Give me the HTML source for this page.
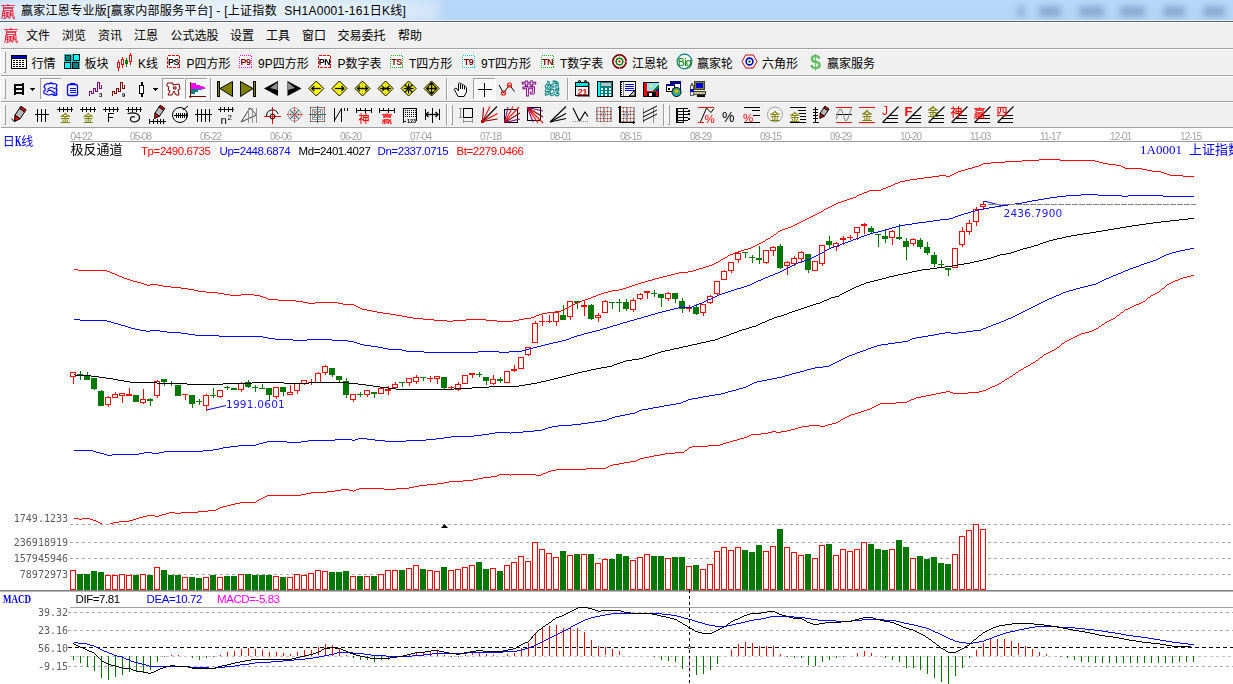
<!DOCTYPE html>
<html><head><meta charset="utf-8"><title>chart</title><style>
html,body{margin:0;padding:0}
body{width:1233px;height:684px;overflow:hidden;background:#fff;position:relative;font-family:"Liberation Sans","Noto Sans CJK SC",sans-serif}
#title{position:absolute;left:0;top:0;width:1233px;height:21px;background:linear-gradient(#b9d8f8,#b4d5f7 60%,#b7d6f6);border-bottom:1px solid #56626f;box-sizing:content-box;overflow:hidden}
#title:after{content:'';position:absolute;left:0;top:20px;width:1233px;height:1px;background:rgba(235,244,253,.85)}
#title .glow{position:absolute;left:-30px;top:-6px;width:470px;height:34px;background:radial-gradient(ellipse at center,rgba(240,246,252,.95) 0%,rgba(232,241,251,.85) 55%,rgba(200,224,248,0) 100%);filter:blur(4px)}
#title .ghost{position:absolute;top:6px;height:11px;background:#7d9cc4;filter:blur(3px);opacity:.75}
#title .ttext{position:absolute;left:21px;top:2px;font-size:12px;line-height:18px;color:#000;white-space:nowrap;letter-spacing:0.29px}
#menu{position:absolute;left:0;top:22px;width:1233px;height:27px;background:#f0f0f0;border-top:1px solid #fff;border-bottom:1px solid #a0a0a0;box-sizing:border-box}
.mi{position:absolute;top:4px;font-size:12px;line-height:18px;color:#000;white-space:nowrap}
#tb1,#tb2,#tb3{position:absolute;left:0;width:1233px;height:26px;background:#f0f0f0;border-top:1px solid #fff;border-bottom:1px solid #a0a0a0;box-sizing:border-box}
#tb1{top:49px;height:27px}#tb2{top:76px}#tb3{top:102px}
.bi{position:absolute;top:5px;font-size:12px;line-height:18px;color:#000;white-space:nowrap}
#lframe{position:absolute;left:0;top:22px;width:1px;height:106px;background:#fff}
svg#ch{position:absolute;left:0;top:0;will-change:transform}
.t{position:absolute;white-space:nowrap;line-height:1}
.dt{font-size:10px;letter-spacing:-0.9px;color:#a2a2a2;font-family:"Liberation Sans",sans-serif}
.song{font-family:"Noto Sans CJK SC",sans-serif;font-size:13px;line-height:14px;color:#000}
.song .mono{font-family:"Liberation Mono",monospace;font-size:11.6px;font-weight:bold}
.blue{color:#0000ff}
.ar{font-size:11.5px;letter-spacing:-0.42px;line-height:14px;font-family:"Liberation Sans",sans-serif}
.vd{font-family:"DejaVu Sans",sans-serif;font-size:10.5px;letter-spacing:0.25px;line-height:13px;color:#1818ff}
.ax{font-family:"DejaVu Sans Mono",monospace;font-size:10px;line-height:13px;color:#5c5c5c}
</style></head><body>
<div id="title"><div class="glow"></div>
<div class="ghost" style="left:1018px;width:6px"></div>
<div class="ghost" style="left:1039px;width:22px"></div>
<div class="ghost" style="left:1079px;width:25px"></div>
<div class="ghost" style="left:1120px;width:25px"></div>
<div class="ghost" style="left:1163px;width:22px"></div>
<div class="ghost" style="left:1203px;width:22px"></div>
<div class="ttext">赢家江恩专业版[赢家内部服务平台] - [上证指数&nbsp; SH1A0001-161日K线]</div></div>
<div id="menu">
<div class="mi" style="left:26px">文件</div>
<div class="mi" style="left:62px">浏览</div>
<div class="mi" style="left:98px">资讯</div>
<div class="mi" style="left:134px">江恩</div>
<div class="mi" style="left:170.5px">公式选股</div>
<div class="mi" style="left:230px">设置</div>
<div class="mi" style="left:266px">工具</div>
<div class="mi" style="left:302px">窗口</div>
<div class="mi" style="left:337.5px">交易委托</div>
<div class="mi" style="left:398px">帮助</div>
</div>
<div id="tb1">
<div class="bi" style="left:31.5px">行情</div>
<div class="bi" style="left:84.5px">板块</div>
<div class="bi" style="left:138px">K线</div>
<div class="bi" style="left:186.5px">P四方形</div>
<div class="bi" style="left:258px">9P四方形</div>
<div class="bi" style="left:337.5px">P数字表</div>
<div class="bi" style="left:409px">T四方形</div>
<div class="bi" style="left:481px">9T四方形</div>
<div class="bi" style="left:560px">T数字表</div>
<div class="bi" style="left:632px">江恩轮</div>
<div class="bi" style="left:697px">赢家轮</div>
<div class="bi" style="left:762px">六角形</div>
<div class="bi" style="left:827px">赢家服务</div>
</div>
<div id="tb2"></div><div id="tb3"></div>
<div id="lframe"></div>
<svg id="ch" width="1233" height="684" viewBox="0 0 1233 684" shape-rendering="crispEdges">
<text x="0.5" y="16.6" font-size="15.0" fill="#f00020" font-weight="normal" font-family="&quot;Noto Sans CJK SC&quot;,&quot;Noto Sans CJK SC&quot;,sans-serif" text-anchor="start" >赢</text>
<text x="3.5" y="40.599999999999994" font-size="15.0" fill="#f00020" font-weight="normal" font-family="&quot;Noto Sans CJK SC&quot;,&quot;Noto Sans CJK SC&quot;,sans-serif" text-anchor="start" >赢</text>
<rect x="5" y="52" width="1" height="21" fill="#a0a0a0"/>
<rect x="4" y="72" width="1" height="1" fill="#a0a0a0"/>
<rect x="3" y="52" width="1" height="20" fill="#ffffff"/>
<rect x="11.5" y="55.5" width="15" height="13" fill="#fff" stroke="#000" />
<rect x="12" y="56" width="14" height="2" fill="#0000c8" />
<rect x="13" y="60" width="2" height="1" fill="#000"/>
<rect x="16" y="60" width="2" height="1" fill="#000"/>
<rect x="19" y="60" width="2" height="1" fill="#000"/>
<rect x="22" y="60" width="2" height="1" fill="#000"/>
<rect x="13" y="62" width="2" height="1" fill="#000"/>
<rect x="16" y="62" width="2" height="1" fill="#000"/>
<rect x="19" y="62" width="2" height="1" fill="#000"/>
<rect x="22" y="62" width="2" height="1" fill="#000"/>
<rect x="13" y="64" width="2" height="1" fill="#000"/>
<rect x="16" y="64" width="2" height="1" fill="#000"/>
<rect x="19" y="64" width="2" height="1" fill="#000"/>
<rect x="22" y="64" width="2" height="1" fill="#000"/>
<rect x="13" y="66" width="2" height="1" fill="#000"/>
<rect x="16" y="66" width="2" height="1" fill="#000"/>
<rect x="19" y="66" width="2" height="1" fill="#000"/>
<rect x="22" y="66" width="2" height="1" fill="#000"/>
<rect x="12" y="58" width="14" height="1" fill="#000"/>
<rect x="64" y="54" width="16" height="15" fill="#00a0a0" />
<rect x="64" y="54" width="1" height="1" fill="#00ffff" />
<rect x="66" y="54" width="1" height="1" fill="#00ffff" />
<rect x="68" y="54" width="1" height="1" fill="#00ffff" />
<rect x="70" y="54" width="1" height="1" fill="#00ffff" />
<rect x="72" y="54" width="1" height="1" fill="#00ffff" />
<rect x="74" y="54" width="1" height="1" fill="#00ffff" />
<rect x="76" y="54" width="1" height="1" fill="#00ffff" />
<rect x="78" y="54" width="1" height="1" fill="#00ffff" />
<rect x="65" y="55" width="1" height="1" fill="#00ffff" />
<rect x="67" y="55" width="1" height="1" fill="#00ffff" />
<rect x="69" y="55" width="1" height="1" fill="#00ffff" />
<rect x="71" y="55" width="1" height="1" fill="#00ffff" />
<rect x="73" y="55" width="1" height="1" fill="#00ffff" />
<rect x="75" y="55" width="1" height="1" fill="#00ffff" />
<rect x="77" y="55" width="1" height="1" fill="#00ffff" />
<rect x="79" y="55" width="1" height="1" fill="#00ffff" />
<rect x="64" y="56" width="1" height="1" fill="#00ffff" />
<rect x="66" y="56" width="1" height="1" fill="#00ffff" />
<rect x="68" y="56" width="1" height="1" fill="#00ffff" />
<rect x="70" y="56" width="1" height="1" fill="#00ffff" />
<rect x="72" y="56" width="1" height="1" fill="#00ffff" />
<rect x="74" y="56" width="1" height="1" fill="#00ffff" />
<rect x="76" y="56" width="1" height="1" fill="#00ffff" />
<rect x="78" y="56" width="1" height="1" fill="#00ffff" />
<rect x="65" y="57" width="1" height="1" fill="#00ffff" />
<rect x="67" y="57" width="1" height="1" fill="#00ffff" />
<rect x="69" y="57" width="1" height="1" fill="#00ffff" />
<rect x="71" y="57" width="1" height="1" fill="#00ffff" />
<rect x="73" y="57" width="1" height="1" fill="#00ffff" />
<rect x="75" y="57" width="1" height="1" fill="#00ffff" />
<rect x="77" y="57" width="1" height="1" fill="#00ffff" />
<rect x="79" y="57" width="1" height="1" fill="#00ffff" />
<rect x="64" y="58" width="1" height="1" fill="#00ffff" />
<rect x="66" y="58" width="1" height="1" fill="#00ffff" />
<rect x="68" y="58" width="1" height="1" fill="#00ffff" />
<rect x="70" y="58" width="1" height="1" fill="#00ffff" />
<rect x="72" y="58" width="1" height="1" fill="#00ffff" />
<rect x="74" y="58" width="1" height="1" fill="#00ffff" />
<rect x="76" y="58" width="1" height="1" fill="#00ffff" />
<rect x="78" y="58" width="1" height="1" fill="#00ffff" />
<rect x="65" y="59" width="1" height="1" fill="#00ffff" />
<rect x="67" y="59" width="1" height="1" fill="#00ffff" />
<rect x="69" y="59" width="1" height="1" fill="#00ffff" />
<rect x="71" y="59" width="1" height="1" fill="#00ffff" />
<rect x="73" y="59" width="1" height="1" fill="#00ffff" />
<rect x="75" y="59" width="1" height="1" fill="#00ffff" />
<rect x="77" y="59" width="1" height="1" fill="#00ffff" />
<rect x="79" y="59" width="1" height="1" fill="#00ffff" />
<rect x="64" y="60" width="1" height="1" fill="#00ffff" />
<rect x="66" y="60" width="1" height="1" fill="#00ffff" />
<rect x="68" y="60" width="1" height="1" fill="#00ffff" />
<rect x="70" y="60" width="1" height="1" fill="#00ffff" />
<rect x="72" y="60" width="1" height="1" fill="#00ffff" />
<rect x="74" y="60" width="1" height="1" fill="#00ffff" />
<rect x="76" y="60" width="1" height="1" fill="#00ffff" />
<rect x="78" y="60" width="1" height="1" fill="#00ffff" />
<rect x="65" y="61" width="1" height="1" fill="#00ffff" />
<rect x="67" y="61" width="1" height="1" fill="#00ffff" />
<rect x="69" y="61" width="1" height="1" fill="#00ffff" />
<rect x="71" y="61" width="1" height="1" fill="#00ffff" />
<rect x="73" y="61" width="1" height="1" fill="#00ffff" />
<rect x="75" y="61" width="1" height="1" fill="#00ffff" />
<rect x="77" y="61" width="1" height="1" fill="#00ffff" />
<rect x="79" y="61" width="1" height="1" fill="#00ffff" />
<rect x="64" y="62" width="1" height="1" fill="#00ffff" />
<rect x="66" y="62" width="1" height="1" fill="#00ffff" />
<rect x="68" y="62" width="1" height="1" fill="#00ffff" />
<rect x="70" y="62" width="1" height="1" fill="#00ffff" />
<rect x="72" y="62" width="1" height="1" fill="#00ffff" />
<rect x="74" y="62" width="1" height="1" fill="#00ffff" />
<rect x="76" y="62" width="1" height="1" fill="#00ffff" />
<rect x="78" y="62" width="1" height="1" fill="#00ffff" />
<rect x="65" y="63" width="1" height="1" fill="#00ffff" />
<rect x="67" y="63" width="1" height="1" fill="#00ffff" />
<rect x="69" y="63" width="1" height="1" fill="#00ffff" />
<rect x="71" y="63" width="1" height="1" fill="#00ffff" />
<rect x="73" y="63" width="1" height="1" fill="#00ffff" />
<rect x="75" y="63" width="1" height="1" fill="#00ffff" />
<rect x="77" y="63" width="1" height="1" fill="#00ffff" />
<rect x="79" y="63" width="1" height="1" fill="#00ffff" />
<rect x="64" y="64" width="1" height="1" fill="#00ffff" />
<rect x="66" y="64" width="1" height="1" fill="#00ffff" />
<rect x="68" y="64" width="1" height="1" fill="#00ffff" />
<rect x="70" y="64" width="1" height="1" fill="#00ffff" />
<rect x="72" y="64" width="1" height="1" fill="#00ffff" />
<rect x="74" y="64" width="1" height="1" fill="#00ffff" />
<rect x="76" y="64" width="1" height="1" fill="#00ffff" />
<rect x="78" y="64" width="1" height="1" fill="#00ffff" />
<rect x="65" y="65" width="1" height="1" fill="#00ffff" />
<rect x="67" y="65" width="1" height="1" fill="#00ffff" />
<rect x="69" y="65" width="1" height="1" fill="#00ffff" />
<rect x="71" y="65" width="1" height="1" fill="#00ffff" />
<rect x="73" y="65" width="1" height="1" fill="#00ffff" />
<rect x="75" y="65" width="1" height="1" fill="#00ffff" />
<rect x="77" y="65" width="1" height="1" fill="#00ffff" />
<rect x="79" y="65" width="1" height="1" fill="#00ffff" />
<rect x="64" y="66" width="1" height="1" fill="#00ffff" />
<rect x="66" y="66" width="1" height="1" fill="#00ffff" />
<rect x="68" y="66" width="1" height="1" fill="#00ffff" />
<rect x="70" y="66" width="1" height="1" fill="#00ffff" />
<rect x="72" y="66" width="1" height="1" fill="#00ffff" />
<rect x="74" y="66" width="1" height="1" fill="#00ffff" />
<rect x="76" y="66" width="1" height="1" fill="#00ffff" />
<rect x="78" y="66" width="1" height="1" fill="#00ffff" />
<rect x="65" y="67" width="1" height="1" fill="#00ffff" />
<rect x="67" y="67" width="1" height="1" fill="#00ffff" />
<rect x="69" y="67" width="1" height="1" fill="#00ffff" />
<rect x="71" y="67" width="1" height="1" fill="#00ffff" />
<rect x="73" y="67" width="1" height="1" fill="#00ffff" />
<rect x="75" y="67" width="1" height="1" fill="#00ffff" />
<rect x="77" y="67" width="1" height="1" fill="#00ffff" />
<rect x="79" y="67" width="1" height="1" fill="#00ffff" />
<rect x="64" y="68" width="1" height="1" fill="#00ffff" />
<rect x="66" y="68" width="1" height="1" fill="#00ffff" />
<rect x="68" y="68" width="1" height="1" fill="#00ffff" />
<rect x="70" y="68" width="1" height="1" fill="#00ffff" />
<rect x="72" y="68" width="1" height="1" fill="#00ffff" />
<rect x="74" y="68" width="1" height="1" fill="#00ffff" />
<rect x="76" y="68" width="1" height="1" fill="#00ffff" />
<rect x="78" y="68" width="1" height="1" fill="#00ffff" />
<rect x="65.5" y="55.5" width="5" height="5" fill="#008080" stroke="#000" />
<rect x="73.5" y="54.5" width="6" height="6" fill="#00ffff" stroke="#000" />
<rect x="64.5" y="62.5" width="6" height="6" fill="#00ffff" stroke="#000" />
<rect x="72.5" y="62.5" width="6" height="6" fill="#008080" stroke="#000" />
<rect x="118" y="60" width="1" height="11" fill="#f00"/>
<rect x="117.5" y="62.5" width="2" height="5" fill="#fff" stroke="#f00" />
<rect x="122" y="57" width="1" height="11" fill="#f00"/>
<rect x="121.5" y="59.5" width="2" height="5" fill="#fff" stroke="#f00" />
<rect x="126" y="58" width="1" height="9" fill="#008000"/>
<rect x="125" y="60" width="3" height="4" fill="#008000" />
<rect x="130" y="53" width="1" height="12" fill="#f00"/>
<rect x="129.5" y="55.5" width="2" height="6" fill="#fff" stroke="#f00" />
<rect x="167" y="55" width="13" height="13" fill="#ffffff" />
<rect x="167.5" y="55.5" width="12" height="12" fill="none" stroke="#ff0000" stroke-dasharray="3,1"/>
<text x="173.5" y="65" font-size="9" fill="#000" font-weight="bold" font-family="&quot;Liberation Sans&quot;,&quot;Noto Sans CJK SC&quot;,sans-serif" text-anchor="middle" letter-spacing="-0.6">PS</text>
<rect x="239" y="55" width="13" height="13" fill="#ffffff" />
<rect x="239.5" y="55.5" width="12" height="12" fill="none" stroke="#ff00ff" stroke-dasharray="1,1"/>
<text x="245.5" y="65" font-size="9" fill="#800000" font-weight="bold" font-family="&quot;Liberation Sans&quot;,&quot;Noto Sans CJK SC&quot;,sans-serif" text-anchor="middle" letter-spacing="-0.6">P9</text>
<rect x="318" y="55" width="13" height="13" fill="#ffffff" />
<rect x="318.5" y="55.5" width="12" height="12" fill="none" stroke="#ff0000" stroke-dasharray="3,1"/>
<text x="324.5" y="65" font-size="9" fill="#000" font-weight="bold" font-family="&quot;Liberation Sans&quot;,&quot;Noto Sans CJK SC&quot;,sans-serif" text-anchor="middle" letter-spacing="-0.6">PN</text>
<rect x="390" y="55" width="13" height="13" fill="#ffffff" />
<rect x="390.5" y="55.5" width="12" height="12" fill="none" stroke="#00c000" stroke-dasharray="1,1"/>
<text x="396.5" y="65" font-size="9" fill="#800000" font-weight="bold" font-family="&quot;Liberation Sans&quot;,&quot;Noto Sans CJK SC&quot;,sans-serif" text-anchor="middle" letter-spacing="-0.6">TS</text>
<rect x="462" y="55" width="13" height="13" fill="#ffffff" />
<rect x="462.5" y="55.5" width="12" height="12" fill="none" stroke="#00c8c8" stroke-dasharray="1,1"/>
<text x="468.5" y="65" font-size="9" fill="#800000" font-weight="bold" font-family="&quot;Liberation Sans&quot;,&quot;Noto Sans CJK SC&quot;,sans-serif" text-anchor="middle" letter-spacing="-0.6">T9</text>
<rect x="541" y="55" width="13" height="13" fill="#ffffff" />
<rect x="541.5" y="55.5" width="12" height="12" fill="none" stroke="#00c000" stroke-dasharray="1,1"/>
<text x="547.5" y="65" font-size="9" fill="#800000" font-weight="bold" font-family="&quot;Liberation Sans&quot;,&quot;Noto Sans CJK SC&quot;,sans-serif" text-anchor="middle" letter-spacing="-0.6">TN</text>
<circle cx="619.5" cy="61.5" r="6.6" stroke="#800000" fill="#fff" stroke-width="1.8" shape-rendering="geometricPrecision"/>
<rect x="613" y="61" width="14" height="1" fill="#d0a0a0"/>
<rect x="619" y="55" width="1" height="14" fill="#d0a0a0"/>
<circle cx="619.5" cy="61.5" r="3.3" stroke="#008000" fill="#fff" stroke-width="1.5" shape-rendering="geometricPrecision"/>
<circle cx="619.5" cy="61.5" r="0.9" stroke="#f00" fill="#f00" stroke-width="0.5" shape-rendering="geometricPrecision"/>
<circle cx="684.5" cy="61.5" r="7.4" stroke="#008080" fill="#f4f4f4" stroke-width="1.1" shape-rendering="geometricPrecision"/>
<text x="684.4" y="65.5" font-size="10.5" fill="#008000" font-weight="normal" font-family="&quot;Liberation Sans&quot;,&quot;Noto Sans CJK SC&quot;,sans-serif" text-anchor="middle" letter-spacing="-0.7">Big</text>
<polygon points="742,61.5 745.7,55 753.3,55 757,61.5 753.3,68 745.7,68" fill="#f4f4f4" stroke="#c00000" shape-rendering="geometricPrecision"/>
<circle cx="749.5" cy="61.5" r="3.4" stroke="#0000c0" fill="#fff" stroke-width="1.6" shape-rendering="geometricPrecision"/>
<circle cx="749.5" cy="61.5" r="1.1" stroke="#008000" fill="#008000" stroke-width="0.5" shape-rendering="geometricPrecision"/>
<text x="815.5" y="68.5" font-size="20" fill="#62bd62" font-weight="bold" font-family="&quot;Liberation Sans&quot;,&quot;Noto Sans CJK SC&quot;,sans-serif" text-anchor="middle" >$</text>
<rect x="5" y="79" width="1" height="20" fill="#a0a0a0"/>
<rect x="4" y="98" width="1" height="1" fill="#a0a0a0"/>
<rect x="3" y="79" width="1" height="19" fill="#ffffff"/>
<rect x="14" y="84" width="2" height="11" fill="#000" />
<rect x="22" y="83" width="2" height="12" fill="#000" />
<rect x="14" y="84" width="10" height="2" fill="#000" />
<rect x="14" y="88" width="10" height="2" fill="#000" />
<rect x="14" y="92" width="10" height="2" fill="#000" />
<polygon points="30,88 35,88 32.5,90.5" fill="#000" stroke="none" />
<rect x="30" y="88" width="5" height="1" fill="#000" />
<rect x="31" y="89" width="3" height="1" fill="#000" />
<rect x="32" y="90" width="1" height="1" fill="#000" />
<rect x="40" y="78" width="22" height="22" fill="#f9f9f9" />
<rect x="40" y="78" width="22" height="1" fill="#a0a0a0"/>
<rect x="40" y="78" width="1" height="22" fill="#a0a0a0"/>
<rect x="40" y="99" width="22" height="1" fill="#ffffff"/>
<rect x="61" y="78" width="1" height="22" fill="#ffffff"/>
<path d="M45 85 q2 -2 4 -1 q2 -2 4 0 q2 -1 4 1 l-1 3 q2 2 0 4 l1 3 q-3 1 -5 -1 q-3 2 -6 0 q-3 0 -2 -3 q2 -1 1 -3 q-2 -1 0 -3z M48 89 q3 -3 7 0 M47 92 q2 -3 5 -1 q2 1 3 3" stroke="#0000ff" fill="none" stroke-width="1.2" shape-rendering="geometricPrecision" stroke-linejoin="round" stroke-linecap="round"/>
<rect x="67.5" y="84.5" width="10" height="11" rx="2" fill="#f4f4ff" stroke="#0000ff" shape-rendering="geometricPrecision" stroke-width="1.3"/>
<rect x="70" y="83" width="5" height="2" fill="#0000ff" />
<rect x="70" y="88" width="6" height="1" fill="#0000ff"/>
<rect x="70" y="90" width="6" height="1" fill="#0000ff"/>
<rect x="70" y="92" width="6" height="1" fill="#0000ff"/>
<polyline points="89.5,95.5 89.5,91.5 91.5,91.5 91.5,93.5 93.5,93.5 93.5,88.5 95.5,88.5 95.5,91.5 97.5,91.5 97.5,82.5 99.5,82.5 99.5,88.5 101.5,88.5 101.5,84.5" fill="none" stroke="#800080" stroke-width="1"  />
<text x="99" y="97" font-size="6" fill="#000" font-weight="bold" font-family="&quot;Liberation Sans&quot;,&quot;Noto Sans CJK SC&quot;,sans-serif" text-anchor="start" >3</text>
<polyline points="112.5,95.5 112.5,91.5 114.5,91.5 114.5,93.5 116.5,93.5 116.5,88.5 118.5,88.5 118.5,91.5 120.5,91.5 120.5,82.5 122.5,82.5 122.5,88.5 124.5,88.5 124.5,84.5" fill="none" stroke="#800000" stroke-width="1"  />
<text x="122" y="97" font-size="6" fill="#000" font-weight="bold" font-family="&quot;Liberation Sans&quot;,&quot;Noto Sans CJK SC&quot;,sans-serif" text-anchor="start" >9</text>
<rect x="141" y="82" width="1" height="15" fill="#000"/>
<rect x="139.5" y="85.5" width="4" height="8" fill="#fff" stroke="#000" />
<rect x="142" y="82" width="1" height="3" fill="#000"/>
<rect x="142" y="94" width="1" height="3" fill="#000"/>
<rect x="153" y="88" width="5" height="1" fill="#000" />
<rect x="154" y="89" width="3" height="1" fill="#000" />
<rect x="155" y="90" width="1" height="1" fill="#000" />
<rect x="162" y="78" width="23" height="22" fill="#f9f9f9" />
<rect x="162" y="78" width="23" height="1" fill="#a0a0a0"/>
<rect x="162" y="78" width="1" height="22" fill="#a0a0a0"/>
<rect x="162" y="99" width="23" height="1" fill="#ffffff"/>
<rect x="184" y="78" width="1" height="22" fill="#ffffff"/>
<path d="M168 83 l5 0 l0 2 l6 -1 l1 5 l-2 1 l1 5 l-3 0 l-2 -4 l-2 4 l-4 0 l2 -4 l-2 -1 l1 -3 l-2 -1z M174 87 l2 0 l0 2 l-2 0z" stroke="#800000" fill="none" stroke-width="1" shape-rendering="geometricPrecision" stroke-linejoin="round" stroke-linecap="round"/>
<rect x="185" y="78" width="23" height="22" fill="#f9f9f9" />
<rect x="185" y="78" width="23" height="1" fill="#a0a0a0"/>
<rect x="185" y="78" width="1" height="22" fill="#a0a0a0"/>
<rect x="185" y="99" width="23" height="1" fill="#ffffff"/>
<rect x="207" y="78" width="1" height="22" fill="#ffffff"/>
<rect x="190" y="82" width="1" height="16" fill="#800000"/>
<rect x="189" y="96" width="17" height="1" fill="#800000"/>
<polygon points="191,83 196,83 196,85 200,85 200,86 205,87 205,89 191,89" fill="#ff00ff" stroke="none" />
<polygon points="191,89 202,89 202,90 198,90 198,92 195,92 195,94 191,94" fill="#008080" stroke="none" />
<rect x="210" y="78" width="1" height="22" fill="#a0a0a0"/>
<rect x="211" y="78" width="1" height="22" fill="#ffffff"/>
<rect x="217.5" y="81.5" width="2" height="15" fill="#808000" stroke="#000" />
<polygon points="232.5,81.5 220,88.5 232.5,96.5" fill="#808000" stroke="#000" shape-rendering="geometricPrecision"/>
<rect x="253.5" y="81.5" width="2" height="15" fill="#808000" stroke="#000" />
<polygon points="240.5,81.5 253,88.5 240.5,96.5" fill="#808000" stroke="#000" shape-rendering="geometricPrecision"/>
<polygon points="264,88.5 278,81 278,96" fill="#000" stroke="none" shape-rendering="geometricPrecision"/>
<polygon points="270,88 277.5,82.5 277.5,90" fill="#909090" stroke="none" shape-rendering="geometricPrecision"/>
<polygon points="301.5,88.5 287.5,81 287.5,96" fill="#000" stroke="none" shape-rendering="geometricPrecision"/>
<polygon points="295,88 288,82.5 288,90" fill="#909090" stroke="none" shape-rendering="geometricPrecision"/>
<polygon points="308.8,88.5 316.3,81.0 323.8,88.5 316.3,96.0" fill="#ffff00" stroke="#000" shape-rendering="geometricPrecision"/>
<polygon points="331.9,88.5 339.4,81.0 346.9,88.5 339.4,96.0" fill="#ffff00" stroke="#000" shape-rendering="geometricPrecision"/>
<polygon points="355.0,88.5 362.5,81.0 370.0,88.5 362.5,96.0" fill="#ffff00" stroke="#000" shape-rendering="geometricPrecision"/>
<polygon points="378.1,88.5 385.6,81.0 393.1,88.5 385.6,96.0" fill="#ffff00" stroke="#000" shape-rendering="geometricPrecision"/>
<polygon points="401.1,88.5 408.6,81.0 416.1,88.5 408.6,96.0" fill="#ffff00" stroke="#000" shape-rendering="geometricPrecision"/>
<polygon points="424.1,88.5 431.6,81.0 439.1,88.5 431.6,96.0" fill="#ffff00" stroke="#000" shape-rendering="geometricPrecision"/>
<line x1="311.8" y1="88.5" x2="320.8" y2="88.5" stroke="#000" stroke-width="1.4" shape-rendering="geometricPrecision"/>
<polyline points="314.3,86.0 311.8,88.5 314.3,91.0" fill="none" stroke="#000" stroke-width="1.3" shape-rendering="geometricPrecision" />
<line x1="334.9" y1="88.5" x2="343.9" y2="88.5" stroke="#000" stroke-width="1.4" shape-rendering="geometricPrecision"/>
<polyline points="341.4,86.0 343.9,88.5 341.4,91.0" fill="none" stroke="#000" stroke-width="1.3" shape-rendering="geometricPrecision" />
<line x1="362.5" y1="82.5" x2="362.5" y2="94.5" stroke="#a0a000" stroke-width="1" stroke-dasharray="1,1"/>
<line x1="357.5" y1="88.5" x2="367.5" y2="88.5" stroke="#000" stroke-width="1.4" shape-rendering="geometricPrecision"/>
<polyline points="360.0,86.0 357.5,88.5 360.0,91.0" fill="none" stroke="#000" stroke-width="1.3" shape-rendering="geometricPrecision" />
<polyline points="365.0,86.0 367.5,88.5 365.0,91.0" fill="none" stroke="#000" stroke-width="1.3" shape-rendering="geometricPrecision" />
<line x1="385.6" y1="82.5" x2="385.6" y2="94.5" stroke="#a0a000" stroke-width="1" stroke-dasharray="1,1"/>
<line x1="380.1" y1="88.5" x2="391.1" y2="88.5" stroke="#000" stroke-width="1.4" shape-rendering="geometricPrecision"/>
<polyline points="382.1,86.0 384.6,88.5 382.1,91.0" fill="none" stroke="#000" stroke-width="1.3" shape-rendering="geometricPrecision" />
<polyline points="389.1,86.0 386.6,88.5 389.1,91.0" fill="none" stroke="#000" stroke-width="1.3" shape-rendering="geometricPrecision" />
<line x1="403.6" y1="88.5" x2="413.6" y2="88.5" stroke="#000" stroke-width="1.3" shape-rendering="geometricPrecision"/>
<line x1="408.6" y1="83.5" x2="408.6" y2="93.5" stroke="#000" stroke-width="1.3" shape-rendering="geometricPrecision"/>
<line x1="404.85" y1="84.75" x2="412.35" y2="92.25" stroke="#000" stroke-width="1.3" shape-rendering="geometricPrecision"/>
<line x1="404.85" y1="92.25" x2="412.35" y2="84.75" stroke="#000" stroke-width="1.3" shape-rendering="geometricPrecision"/>
<line x1="426.6" y1="88.5" x2="436.6" y2="88.5" stroke="#000" stroke-width="1.4" shape-rendering="geometricPrecision"/>
<polyline points="429.1,86.0 426.6,88.5 429.1,91.0" fill="none" stroke="#000" stroke-width="1.3" shape-rendering="geometricPrecision" />
<polyline points="434.1,86.0 436.6,88.5 434.1,91.0" fill="none" stroke="#000" stroke-width="1.3" shape-rendering="geometricPrecision" />
<line x1="431.6" y1="83.0" x2="431.6" y2="94.0" stroke="#000" stroke-width="1.4" shape-rendering="geometricPrecision"/>
<polyline points="429.1,85.5 431.6,83.0 434.1,85.5" fill="none" stroke="#000" stroke-width="1.3" shape-rendering="geometricPrecision" />
<polyline points="429.1,91.5 431.6,94.0 434.1,91.5" fill="none" stroke="#000" stroke-width="1.3" shape-rendering="geometricPrecision" />
<rect x="446" y="78" width="1" height="22" fill="#a0a0a0"/>
<rect x="447" y="78" width="1" height="22" fill="#ffffff"/>
<path d="M454.5 89 L456 88 L458.5 91 L458.5 83.5 Q459.5 82 460.5 83.5 L460.5 84.5 Q461.5 83.3 462.5 84.5 L462.5 85.5 Q463.5 84.3 464.5 85.5 L464.5 87 Q465.7 86 466.5 87.5 L466.5 92 L464 96.5 L458.5 96.5 Z" stroke="#000" fill="#fff" stroke-width="1" shape-rendering="geometricPrecision" stroke-linejoin="round" stroke-linecap="round"/>
<line x1="460.5" y1="84.5" x2="460.5" y2="89" stroke="#000" stroke-width="1" shape-rendering="geometricPrecision"/>
<line x1="462.5" y1="85.5" x2="462.5" y2="89" stroke="#000" stroke-width="1" shape-rendering="geometricPrecision"/>
<line x1="464.5" y1="87" x2="464.5" y2="89.5" stroke="#000" stroke-width="1" shape-rendering="geometricPrecision"/>
<rect x="473" y="78" width="23" height="22" fill="#f9f9f9" />
<rect x="473" y="78" width="23" height="1" fill="#a0a0a0"/>
<rect x="473" y="78" width="1" height="22" fill="#a0a0a0"/>
<rect x="473" y="99" width="23" height="1" fill="#ffffff"/>
<rect x="495" y="78" width="1" height="22" fill="#ffffff"/>
<rect x="478" y="89" width="14" height="1" fill="#000"/>
<rect x="484" y="83" width="1" height="14" fill="#000"/>
<polyline points="499,85 503.5,93 509.5,85 514.5,91.5" fill="none" stroke="#000" stroke-width="1" shape-rendering="geometricPrecision" />
<circle cx="503.5" cy="93" r="2" stroke="#f00" fill="none" stroke-width="1.2" shape-rendering="geometricPrecision"/>
<circle cx="509.5" cy="85" r="2" stroke="#f00" fill="none" stroke-width="1.2" shape-rendering="geometricPrecision"/>
<text x="521.5" y="94" font-size="15" font-weight="bold" fill="#f6f0f6" stroke="#800080" stroke-width="0.9" font-family="&quot;Noto Sans CJK SC&quot;,sans-serif">节</text>
<text x="544.5" y="94" font-size="15" font-weight="bold" fill="#eef6f6" stroke="#008080" stroke-width="0.9" font-family="&quot;Noto Sans CJK SC&quot;,sans-serif">线</text>
<rect x="567" y="78" width="1" height="22" fill="#a0a0a0"/>
<rect x="568" y="78" width="1" height="22" fill="#ffffff"/>
<rect x="577" y="83" width="13" height="14" fill="#808080" />
<rect x="575.5" y="82.5" width="13" height="13" fill="#fff" stroke="#000" />
<rect x="576" y="83" width="12" height="3" fill="#00e0e0" />
<rect x="576" y="86" width="12" height="1" fill="#000"/>
<polygon points="578,82 579.5,80 581,82" fill="#fff" stroke="#000" shape-rendering="geometricPrecision"/>
<polygon points="584,82 585.5,80 587,82" fill="#fff" stroke="#000" shape-rendering="geometricPrecision"/>
<text x="582.2" y="95" font-size="9.5" fill="#f00" font-weight="bold" font-family="&quot;Liberation Sans&quot;,&quot;Noto Sans CJK SC&quot;,sans-serif" text-anchor="middle" letter-spacing="-0.5">21</text>
<rect x="597.5" y="81.5" width="15" height="15" fill="#008080" stroke="#000" />
<rect x="598" y="82" width="2" height="14" fill="#00ffff" />
<rect x="601" y="83" width="10" height="3" fill="#c0c0c0" />
<rect x="601" y="88" width="2" height="2" fill="#fff" />
<rect x="605" y="88" width="2" height="2" fill="#fff" />
<rect x="609" y="88" width="2" height="2" fill="#fff" />
<rect x="601" y="91" width="2" height="2" fill="#fff" />
<rect x="605" y="91" width="2" height="2" fill="#fff" />
<rect x="609" y="91" width="2" height="2" fill="#fff" />
<rect x="601" y="94" width="2" height="2" fill="#fff" />
<rect x="605" y="94" width="2" height="2" fill="#fff" />
<rect x="609" y="94" width="2" height="2" fill="#fff" />
<rect x="620.5" y="81.5" width="15" height="15" fill="#fff" stroke="#000" />
<rect x="621" y="82" width="1" height="14" fill="#000"/>
<rect x="621" y="83" width="3" height="1" fill="#fff"/>
<rect x="621" y="85" width="3" height="1" fill="#fff"/>
<rect x="621" y="87" width="3" height="1" fill="#fff"/>
<rect x="621" y="89" width="3" height="1" fill="#fff"/>
<rect x="621" y="91" width="3" height="1" fill="#fff"/>
<rect x="621" y="93" width="3" height="1" fill="#fff"/>
<rect x="621" y="95" width="3" height="1" fill="#fff"/>
<rect x="625" y="84" width="9" height="1" fill="#0000e0"/>
<rect x="625" y="86" width="9" height="1" fill="#0000e0"/>
<rect x="625" y="88" width="9" height="1" fill="#0000e0"/>
<rect x="625" y="90" width="9" height="1" fill="#0000e0"/>
<polygon points="629,96 635,90 635,96" fill="#c0c0c0" stroke="#000" shape-rendering="geometricPrecision"/>
<rect x="623" y="82" width="1" height="14" fill="#808080"/>
<rect x="643.5" y="82.5" width="15" height="14" fill="#f00000" stroke="#000" />
<rect x="647" y="83" width="12" height="8" fill="#8fe0ff" />
<polygon points="652,91 659,84 659,91" fill="#008000" stroke="none" />
<polygon points="655,91 659,88 659,91" fill="#0000c0" stroke="none" />
<rect x="647" y="92" width="9" height="5" fill="#000" />
<rect x="649" y="93" width="3" height="3" fill="#fff" />
<rect x="650" y="85" width="2" height="2" fill="#ffff00" />
<rect x="670.5" y="81.5" width="10" height="8" fill="#fff" stroke="#000080" />
<rect x="670" y="81" width="11" height="3" fill="#000080" />
<rect x="666.5" y="84.5" width="8" height="7" fill="#fff" stroke="#000" />
<rect x="666" y="84" width="9" height="2" fill="#000080" />
<rect x="668" y="88" width="2" height="2" fill="#000" />
<rect x="672" y="88" width="2" height="2" fill="#808080" />
<circle cx="676.5" cy="92" r="4.5" stroke="#000" fill="#00c0c0" stroke-width="1" shape-rendering="geometricPrecision"/>
<path d="M674 90 l3 -1 l2 2 l-2 3 l-2 -1z" stroke="#806000" fill="#e0c000" stroke-width="0.6" shape-rendering="geometricPrecision" stroke-linejoin="round" stroke-linecap="round"/>
<rect x="694.5" y="81.5" width="10" height="8" fill="#808040" stroke="#404020" />
<rect x="696" y="83" width="7" height="5" fill="#0000e0" />
<rect x="693.5" y="91.5" width="12" height="3" fill="#c0c0a0" stroke="#404020" />
<rect x="697" y="95" width="8" height="2" fill="#000" />
<rect x="690.5" y="85.5" width="3" height="10" fill="#e8e8e8" stroke="#606060" />
<rect x="690" y="89" width="4" height="3" fill="#0000c0" />
<rect x="691" y="83" width="2" height="2" fill="#606060" />
<rect x="5" y="105" width="1" height="20" fill="#a0a0a0"/>
<rect x="4" y="124" width="1" height="1" fill="#a0a0a0"/>
<rect x="3" y="105" width="1" height="19" fill="#ffffff"/>
<polygon points="20.9,106.2 26.1,109.8 24.6,112.0 19.4,108.4" fill="#f00000" stroke="#000" shape-rendering="geometricPrecision"/>
<polygon points="19.4,108.4 24.6,112.0 20.1,118.8 14.9,115.2" fill="#b8b8b8" stroke="#000" shape-rendering="geometricPrecision"/>
<polygon points="14.9,115.2 20.1,118.8 14.5,121.5" fill="#f00000" stroke="#000" shape-rendering="geometricPrecision"/>
<polyline points="11.5,118.5 14,121.5 16,120" fill="none" stroke="#000" stroke-width="1" shape-rendering="geometricPrecision" />
<rect x="35" y="114" width="14" height="1" fill="#000"/>
<rect x="37" y="109" width="1" height="13" fill="#000"/>
<rect x="41" y="109" width="1" height="13" fill="#000"/>
<rect x="45" y="109" width="1" height="13" fill="#000"/>
<rect x="57" y="109" width="16" height="1" fill="#000"/>
<rect x="59" y="107" width="1" height="5" fill="#000"/>
<rect x="63" y="107" width="1" height="5" fill="#000"/>
<rect x="67" y="107" width="1" height="5" fill="#000"/>
<rect x="71" y="107" width="1" height="5" fill="#000"/>
<text x="65.2" y="122.3" font-size="10.5" fill="#808000" font-weight="500" font-family="&quot;Noto Sans CJK SC&quot;,&quot;Noto Sans CJK SC&quot;,sans-serif" text-anchor="middle" >金</text>
<rect x="80" y="109" width="16" height="1" fill="#000"/>
<rect x="82" y="107" width="1" height="5" fill="#000"/>
<rect x="86" y="107" width="1" height="5" fill="#000"/>
<rect x="90" y="107" width="1" height="5" fill="#000"/>
<rect x="94" y="107" width="1" height="5" fill="#000"/>
<text x="88.2" y="122.3" font-size="10.5" fill="#808000" font-weight="500" font-family="&quot;Noto Sans CJK SC&quot;,&quot;Noto Sans CJK SC&quot;,sans-serif" text-anchor="middle" >金</text>
<rect x="103" y="109" width="16" height="1" fill="#000"/>
<rect x="105" y="107" width="1" height="5" fill="#000"/>
<rect x="109" y="107" width="1" height="5" fill="#000"/>
<rect x="113" y="107" width="1" height="5" fill="#000"/>
<rect x="117" y="107" width="1" height="5" fill="#000"/>
<rect x="108" y="113" width="1" height="9" fill="#000"/>
<rect x="108" y="113" width="6" height="1" fill="#000"/>
<rect x="108" y="117" width="5" height="1" fill="#000"/>
<rect x="126" y="109" width="16" height="1" fill="#000"/>
<rect x="128" y="107" width="1" height="5" fill="#000"/>
<rect x="132" y="107" width="1" height="5" fill="#000"/>
<rect x="136" y="107" width="1" height="5" fill="#000"/>
<rect x="140" y="107" width="1" height="5" fill="#000"/>
<path d="M128 113.5 q8 -2 11 2 q2 5 -4 6.5 q-5 0 -4.5 -3.5 q1 -2.5 4 -1.5" stroke="#000" fill="none" stroke-width="1.2" shape-rendering="geometricPrecision" stroke-linejoin="round" stroke-linecap="round"/>
<polygon points="160.212,105.176 164.788,108.344 163.468,110.28 158.892,107.112" fill="#f00000" stroke="#000" shape-rendering="geometricPrecision"/>
<polygon points="158.892,107.112 163.468,110.28 159.508,116.264 154.932,113.096" fill="#b8b8b8" stroke="#000" shape-rendering="geometricPrecision"/>
<polygon points="154.932,113.096 159.508,116.264 154.58,118.64" fill="#f00000" stroke="#000" shape-rendering="geometricPrecision"/>
<rect x="149" y="121" width="17" height="1" fill="#000"/>
<rect x="149" y="119" width="1" height="5" fill="#000"/>
<rect x="153" y="119" width="1" height="5" fill="#000"/>
<rect x="157" y="119" width="1" height="5" fill="#000"/>
<rect x="160" y="119" width="1" height="5" fill="#000"/>
<rect x="163" y="119" width="1" height="5" fill="#000"/>
<circle cx="180" cy="115" r="7.5" stroke="#000" fill="none" stroke-width="1" shape-rendering="geometricPrecision"/>
<rect x="174" y="115" width="14" height="1" fill="#000"/>
<rect x="176" y="113" width="1" height="5" fill="#000"/>
<rect x="178" y="113" width="1" height="5" fill="#000"/>
<rect x="180" y="113" width="1" height="5" fill="#000"/>
<rect x="182" y="113" width="1" height="5" fill="#000"/>
<rect x="184" y="113" width="1" height="5" fill="#000"/>
<rect x="186" y="113" width="1" height="5" fill="#000"/>
<polyline points="183,110 188,106" fill="none" stroke="#000" stroke-width="1" shape-rendering="geometricPrecision" />
<rect x="195" y="114" width="17" height="1" fill="#000"/>
<rect x="197" y="109" width="1" height="13" fill="#000"/>
<rect x="201" y="109" width="1" height="13" fill="#000"/>
<rect x="205" y="109" width="1" height="13" fill="#000"/>
<rect x="209" y="109" width="1" height="13" fill="#000"/>
<rect x="218" y="109" width="16" height="1" fill="#000"/>
<rect x="220" y="107" width="1" height="5" fill="#000"/>
<rect x="224" y="107" width="1" height="5" fill="#000"/>
<rect x="228" y="107" width="1" height="5" fill="#000"/>
<rect x="232" y="107" width="1" height="5" fill="#000"/>
<text x="220.5" y="123.5" font-size="11.5" fill="#000" font-weight="normal" font-family="&quot;Liberation Sans&quot;,&quot;Noto Sans CJK SC&quot;,sans-serif" text-anchor="start" >n</text>
<text x="227.5" y="119.5" font-size="8" fill="#000" font-weight="normal" font-family="&quot;Liberation Sans&quot;,&quot;Noto Sans CJK SC&quot;,sans-serif" text-anchor="start" >2</text>
<polyline points="241,122 250,108 256.5,115 241,122" fill="none" stroke="#404040" stroke-width="1" shape-rendering="geometricPrecision" />
<rect x="248" y="108" width="1" height="15" fill="#909090"/>
<rect x="252" y="108" width="1" height="15" fill="#909090"/>
<rect x="256" y="108" width="1" height="15" fill="#909090"/>
<rect x="264" y="116" width="17" height="1" fill="#f00"/>
<rect x="272" y="107" width="1" height="17" fill="#f00"/>
<circle cx="272.5" cy="116.5" r="2.5" stroke="#000" fill="none" stroke-width="1" shape-rendering="geometricPrecision"/>
<path d="M266.5 116 a6 6 0 0 1 11.5 -2.5" stroke="#000" fill="none" stroke-width="1" shape-rendering="geometricPrecision" stroke-linejoin="round" stroke-linecap="round"/>
<circle cx="294.5" cy="114.5" r="6.5" stroke="#909090" fill="none" stroke-width="0.9" shape-rendering="geometricPrecision"/>
<circle cx="294.5" cy="114.5" r="4" stroke="#909090" fill="none" stroke-width="0.9" shape-rendering="geometricPrecision"/>
<circle cx="294.5" cy="114.5" r="2" stroke="#909090" fill="none" stroke-width="0.8" shape-rendering="geometricPrecision"/>
<polyline points="290.0,110.0 299.0,119.0" fill="none" stroke="#008080" stroke-width="1" shape-rendering="geometricPrecision" />
<polyline points="290.0,119.0 299.0,110.0" fill="none" stroke="#008080" stroke-width="1" shape-rendering="geometricPrecision" />
<rect x="287" y="114" width="16" height="1" fill="#f08080"/>
<rect x="294" y="107" width="1" height="16" fill="#f08080"/>
<rect x="287" y="114" width="1" height="1" fill="#f00" />
<rect x="294" y="107" width="1" height="1" fill="#f00" />
<rect x="290" y="114" width="1" height="1" fill="#f00" />
<rect x="294" y="110" width="1" height="1" fill="#f00" />
<rect x="298" y="114" width="1" height="1" fill="#f00" />
<rect x="294" y="118" width="1" height="1" fill="#f00" />
<rect x="301" y="114" width="1" height="1" fill="#f00" />
<rect x="294" y="121" width="1" height="1" fill="#f00" />
<rect x="294" y="114" width="1" height="1" fill="#f00" />
<rect x="310.5" y="107.5" width="14" height="14" fill="none" stroke="#808080" />
<rect x="312.5" y="109.5" width="10" height="10" fill="none" stroke="#a0a0a0" />
<rect x="314.5" y="111.5" width="6" height="6" fill="none" stroke="#a0a0a0" />
<rect x="309" y="114" width="17" height="1" fill="#008080"/>
<rect x="317" y="106" width="1" height="17" fill="#008080"/>
<polyline points="313,110 321,118" fill="none" stroke="#c06060" stroke-width="1" shape-rendering="geometricPrecision" />
<polyline points="313,118 321,110" fill="none" stroke="#c06060" stroke-width="1" shape-rendering="geometricPrecision" />
<rect x="310" y="107" width="1" height="1" fill="#f00" />
<rect x="310" y="114" width="1" height="1" fill="#f00" />
<rect x="310" y="121" width="1" height="1" fill="#f00" />
<rect x="317" y="107" width="1" height="1" fill="#f00" />
<rect x="317" y="114" width="1" height="1" fill="#f00" />
<rect x="317" y="121" width="1" height="1" fill="#f00" />
<rect x="324" y="107" width="1" height="1" fill="#f00" />
<rect x="324" y="114" width="1" height="1" fill="#f00" />
<rect x="324" y="121" width="1" height="1" fill="#f00" />
<rect x="317" y="114" width="1" height="1" fill="#e04040" />
<rect x="334" y="108" width="1" height="14" fill="#000"/>
<rect x="341" y="108" width="1" height="14" fill="#000"/>
<polyline points="334.5,120.5 341.5,108.5" fill="none" stroke="#000" stroke-width="1" shape-rendering="geometricPrecision" />
<rect x="344" y="108" width="1" height="3" fill="#000"/>
<rect x="347" y="108" width="1" height="3" fill="#000"/>
<rect x="356" y="110" width="16" height="1" fill="#000"/>
<rect x="356" y="108" width="1" height="5" fill="#000"/>
<rect x="371" y="108" width="1" height="5" fill="#000"/>
<rect x="360" y="108" width="1" height="3" fill="#000"/>
<rect x="365" y="108" width="1" height="5" fill="#000"/>
<text x="364" y="122.5" font-size="11" fill="#f00" font-weight="500" font-family="&quot;Noto Sans CJK SC&quot;,&quot;Noto Sans CJK SC&quot;,sans-serif" text-anchor="middle" >神</text>
<rect x="379" y="110" width="16" height="1" fill="#000"/>
<rect x="379" y="108" width="1" height="5" fill="#000"/>
<rect x="394" y="108" width="1" height="5" fill="#000"/>
<rect x="383" y="108" width="1" height="3" fill="#000"/>
<rect x="388" y="108" width="1" height="5" fill="#000"/>
<text x="387" y="122.5" font-size="11" fill="#f00" font-weight="500" font-family="&quot;Noto Sans CJK SC&quot;,&quot;Noto Sans CJK SC&quot;,sans-serif" text-anchor="middle" >赢</text>
<rect x="403" y="108" width="1" height="15" fill="#000"/>
<rect x="416" y="108" width="1" height="13" fill="#000"/>
<rect x="403" y="108" width="14" height="1" fill="#000"/>
<rect x="405" y="110" width="1" height="1" fill="#000" />
<rect x="407" y="110" width="1" height="1" fill="#000" />
<rect x="409" y="110" width="1" height="1" fill="#000" />
<rect x="411" y="110" width="1" height="1" fill="#000" />
<rect x="413" y="110" width="1" height="1" fill="#000" />
<rect x="415" y="110" width="1" height="1" fill="#000" />
<rect x="405" y="112" width="1" height="1" fill="#000" />
<rect x="407" y="112" width="1" height="1" fill="#000" />
<rect x="409" y="112" width="1" height="1" fill="#000" />
<rect x="411" y="112" width="1" height="1" fill="#000" />
<rect x="413" y="112" width="1" height="1" fill="#000" />
<rect x="415" y="112" width="1" height="1" fill="#000" />
<rect x="405" y="114" width="1" height="1" fill="#000" />
<rect x="407" y="114" width="1" height="1" fill="#000" />
<rect x="409" y="114" width="1" height="1" fill="#000" />
<rect x="411" y="114" width="1" height="1" fill="#000" />
<rect x="413" y="114" width="1" height="1" fill="#000" />
<rect x="415" y="114" width="1" height="1" fill="#000" />
<rect x="405" y="116" width="1" height="1" fill="#000" />
<rect x="407" y="116" width="1" height="1" fill="#000" />
<rect x="409" y="116" width="1" height="1" fill="#000" />
<rect x="411" y="116" width="1" height="1" fill="#000" />
<rect x="413" y="116" width="1" height="1" fill="#000" />
<rect x="415" y="116" width="1" height="1" fill="#000" />
<rect x="403" y="121" width="3" height="1" fill="#000"/>
<text x="411.5" y="122.5" font-size="5.5" fill="#000" font-weight="bold" font-family="&quot;Liberation Sans&quot;,&quot;Noto Sans CJK SC&quot;,sans-serif" text-anchor="middle" >123</text>
<rect x="425" y="109" width="1" height="11" fill="#000"/>
<rect x="439" y="109" width="1" height="11" fill="#000"/>
<rect x="432" y="108" width="1" height="15" fill="#000"/>
<line x1="426" y1="114.5" x2="438" y2="114.5" stroke="#000" stroke-width="1.4" shape-rendering="geometricPrecision"/>
<polyline points="428.5,112.0 426,114.5 428.5,117.0" fill="none" stroke="#000" stroke-width="1.3" shape-rendering="geometricPrecision" />
<polyline points="435.5,112.0 438,114.5 435.5,117.0" fill="none" stroke="#000" stroke-width="1.3" shape-rendering="geometricPrecision" />
<rect x="446" y="104" width="1" height="22" fill="#a0a0a0"/>
<rect x="447" y="104" width="1" height="22" fill="#ffffff"/>
<rect x="452" y="105" width="1" height="20" fill="#a0a0a0"/>
<rect x="451" y="124" width="1" height="1" fill="#a0a0a0"/>
<rect x="450" y="105" width="1" height="19" fill="#ffffff"/>
<rect x="463.5" y="108.5" width="9" height="9" fill="none" stroke="#000" />
<rect x="460" y="108" width="1" height="10" fill="#909090"/>
<rect x="459" y="108" width="3" height="1" fill="#909090"/>
<rect x="459" y="117" width="3" height="1" fill="#909090"/>
<rect x="463" y="121" width="10" height="1" fill="#909090"/>
<rect x="463" y="119" width="1" height="4" fill="#909090"/>
<rect x="472" y="119" width="1" height="4" fill="#909090"/>
<polyline points="482.5,121.5 483.5,107.5" fill="none" stroke="#800000" stroke-width="1.1" shape-rendering="geometricPrecision" />
<polyline points="482.5,121.5 490,106.5" fill="none" stroke="#f00" stroke-width="1.1" shape-rendering="geometricPrecision" />
<polyline points="482.5,121.5 497,106.5" fill="none" stroke="#000" stroke-width="1.1" shape-rendering="geometricPrecision" />
<polyline points="482.5,121.5 497.5,113.5" fill="none" stroke="#f00" stroke-width="1.1" shape-rendering="geometricPrecision" />
<polyline points="482.5,121.5 497.5,119" fill="none" stroke="#800000" stroke-width="1.1" shape-rendering="geometricPrecision" />
<rect x="481" y="120" width="3" height="3" fill="#c00000" />
<rect x="504.5" y="109.5" width="13" height="13" fill="none" stroke="#000" />
<polyline points="504.5,122.5 508,107" fill="none" stroke="#800080" stroke-width="1.1" shape-rendering="geometricPrecision" />
<polyline points="504.5,122.5 513,106.5" fill="none" stroke="#f00" stroke-width="1.1" shape-rendering="geometricPrecision" />
<polyline points="504.5,122.5 519,107" fill="none" stroke="#f00" stroke-width="1.1" shape-rendering="geometricPrecision" />
<polyline points="504.5,122.5 520,113" fill="none" stroke="#800000" stroke-width="1.1" shape-rendering="geometricPrecision" />
<polyline points="504.5,122.5 520,119" fill="none" stroke="#800080" stroke-width="1.1" shape-rendering="geometricPrecision" />
<rect x="527.5" y="107.5" width="13" height="13" fill="none" stroke="#000" />
<polyline points="527.5,107.5 533,122" fill="none" stroke="#800080" stroke-width="1.1" shape-rendering="geometricPrecision" />
<polyline points="527.5,107.5 538,123" fill="none" stroke="#f00" stroke-width="1.1" shape-rendering="geometricPrecision" />
<polyline points="527.5,107.5 543,123" fill="none" stroke="#f00" stroke-width="1.1" shape-rendering="geometricPrecision" />
<polyline points="527.5,107.5 543,117" fill="none" stroke="#800000" stroke-width="1.1" shape-rendering="geometricPrecision" />
<polyline points="527.5,107.5 543,111" fill="none" stroke="#800080" stroke-width="1.1" shape-rendering="geometricPrecision" />
<polyline points="550,122 566,106.5" fill="none" stroke="#000" stroke-width="1.1" shape-rendering="geometricPrecision" />
<polyline points="550,122 566,113.5" fill="none" stroke="#000" stroke-width="1.1" shape-rendering="geometricPrecision" />
<polyline points="550,122 566,118.5" fill="none" stroke="#000" stroke-width="1.1" shape-rendering="geometricPrecision" />
<polyline points="573,108 579.5,121 585,112 588,116.5" fill="none" stroke="#000" stroke-width="1.1" shape-rendering="geometricPrecision" />
<line x1="573" y1="121.5" x2="589" y2="121.5" stroke="#909090" stroke-width="1" stroke-dasharray="1,1"/>
<rect x="597.0" y="107" width="1" height="15" fill="#a0a0a0"/>
<rect x="600.0" y="107" width="1" height="15" fill="#a0a0a0"/>
<rect x="604.0" y="107" width="1" height="15" fill="#a0a0a0"/>
<rect x="607.0" y="107" width="1" height="15" fill="#a0a0a0"/>
<rect x="611.0" y="107" width="1" height="15" fill="#a0a0a0"/>
<rect x="596" y="107" width="1" height="15" fill="#a8a8a8"/>
<rect x="596" y="107" width="15" height="1" fill="#a8a8a8"/>
<rect x="600" y="107" width="1" height="15" fill="#a8a8a8"/>
<rect x="596" y="111" width="15" height="1" fill="#a8a8a8"/>
<rect x="603" y="107" width="1" height="15" fill="#a8a8a8"/>
<rect x="596" y="114" width="15" height="1" fill="#a8a8a8"/>
<rect x="607" y="107" width="1" height="15" fill="#a8a8a8"/>
<rect x="596" y="118" width="15" height="1" fill="#a8a8a8"/>
<rect x="610" y="107" width="1" height="15" fill="#a8a8a8"/>
<rect x="596" y="121" width="15" height="1" fill="#a8a8a8"/>
<rect x="596" y="111" width="1" height="1" fill="#f00" />
<rect x="596" y="114" width="1" height="1" fill="#f00" />
<rect x="596" y="118" width="1" height="1" fill="#f00" />
<rect x="600" y="107" width="1" height="1" fill="#f00" />
<rect x="600" y="111" width="1" height="1" fill="#f00" />
<rect x="600" y="114" width="1" height="1" fill="#f00" />
<rect x="600" y="118" width="1" height="1" fill="#f00" />
<rect x="600" y="121" width="1" height="1" fill="#f00" />
<rect x="603" y="107" width="1" height="1" fill="#f00" />
<rect x="603" y="111" width="1" height="1" fill="#f00" />
<rect x="603" y="114" width="1" height="1" fill="#f00" />
<rect x="603" y="118" width="1" height="1" fill="#f00" />
<rect x="603" y="121" width="1" height="1" fill="#f00" />
<rect x="607" y="107" width="1" height="1" fill="#f00" />
<rect x="607" y="111" width="1" height="1" fill="#f00" />
<rect x="607" y="114" width="1" height="1" fill="#f00" />
<rect x="607" y="118" width="1" height="1" fill="#f00" />
<rect x="607" y="121" width="1" height="1" fill="#f00" />
<rect x="610" y="111" width="1" height="1" fill="#f00" />
<rect x="610" y="114" width="1" height="1" fill="#f00" />
<rect x="610" y="118" width="1" height="1" fill="#f00" />
<circle cx="603.5" cy="114.5" r="2.2" stroke="#909090" fill="none" stroke-width="0.8" shape-rendering="geometricPrecision"/>
<rect x="620.0" y="107" width="1" height="15" fill="#a0a0a0"/>
<rect x="623.0" y="107" width="1" height="15" fill="#a0a0a0"/>
<rect x="627.0" y="107" width="1" height="15" fill="#a0a0a0"/>
<rect x="630.0" y="107" width="1" height="15" fill="#a0a0a0"/>
<rect x="634.0" y="107" width="1" height="15" fill="#a0a0a0"/>
<rect x="619" y="107" width="1" height="15" fill="#a8a8a8"/>
<rect x="619" y="107" width="15" height="1" fill="#a8a8a8"/>
<rect x="623" y="107" width="1" height="15" fill="#a8a8a8"/>
<rect x="619" y="111" width="15" height="1" fill="#a8a8a8"/>
<rect x="626" y="107" width="1" height="15" fill="#a8a8a8"/>
<rect x="619" y="114" width="15" height="1" fill="#a8a8a8"/>
<rect x="630" y="107" width="1" height="15" fill="#a8a8a8"/>
<rect x="619" y="118" width="15" height="1" fill="#a8a8a8"/>
<rect x="633" y="107" width="1" height="15" fill="#a8a8a8"/>
<rect x="619" y="121" width="15" height="1" fill="#a8a8a8"/>
<rect x="619" y="111" width="1" height="1" fill="#f00" />
<rect x="619" y="114" width="1" height="1" fill="#f00" />
<rect x="619" y="118" width="1" height="1" fill="#f00" />
<rect x="623" y="107" width="1" height="1" fill="#f00" />
<rect x="623" y="111" width="1" height="1" fill="#f00" />
<rect x="623" y="114" width="1" height="1" fill="#f00" />
<rect x="623" y="118" width="1" height="1" fill="#f00" />
<rect x="623" y="121" width="1" height="1" fill="#f00" />
<rect x="626" y="107" width="1" height="1" fill="#f00" />
<rect x="626" y="111" width="1" height="1" fill="#f00" />
<rect x="626" y="114" width="1" height="1" fill="#f00" />
<rect x="626" y="118" width="1" height="1" fill="#f00" />
<rect x="626" y="121" width="1" height="1" fill="#f00" />
<rect x="630" y="107" width="1" height="1" fill="#f00" />
<rect x="630" y="111" width="1" height="1" fill="#f00" />
<rect x="630" y="114" width="1" height="1" fill="#f00" />
<rect x="630" y="118" width="1" height="1" fill="#f00" />
<rect x="630" y="121" width="1" height="1" fill="#f00" />
<rect x="633" y="111" width="1" height="1" fill="#f00" />
<rect x="633" y="114" width="1" height="1" fill="#f00" />
<rect x="633" y="118" width="1" height="1" fill="#f00" />
<circle cx="626.5" cy="114.5" r="2.2" stroke="#909090" fill="none" stroke-width="0.8" shape-rendering="geometricPrecision"/>
<rect x="619" y="106" width="1" height="17" fill="#000"/>
<rect x="619" y="122" width="16" height="1" fill="#000"/>
<rect x="618" y="107" width="3" height="1" fill="#000" />
<rect x="633" y="121" width="1" height="3" fill="#000" />
<rect x="620" y="106" width="1" height="17" fill="#000"/>
<rect x="643" y="108" width="1" height="15" fill="#909090"/>
<rect x="653" y="108" width="1" height="15" fill="#909090"/>
<polyline points="643,113 657,106" fill="none" stroke="#000" stroke-width="1" shape-rendering="geometricPrecision" />
<polyline points="643,117 657,110" fill="none" stroke="#000" stroke-width="1" shape-rendering="geometricPrecision" />
<polyline points="643,121 657,114" fill="none" stroke="#000" stroke-width="1" shape-rendering="geometricPrecision" />
<rect x="663" y="104" width="1" height="22" fill="#a0a0a0"/>
<rect x="664" y="104" width="1" height="22" fill="#ffffff"/>
<rect x="669" y="105" width="1" height="20" fill="#a0a0a0"/>
<rect x="668" y="124" width="1" height="1" fill="#a0a0a0"/>
<rect x="667" y="105" width="1" height="19" fill="#ffffff"/>
<rect x="676" y="108" width="1" height="15" fill="#000"/>
<rect x="677" y="108" width="1" height="15" fill="#000"/>
<rect x="683" y="108" width="1" height="15" fill="#000"/>
<rect x="676" y="108" width="12" height="1" fill="#000"/>
<rect x="676" y="111" width="12" height="1" fill="#000"/>
<rect x="676" y="114" width="12" height="1" fill="#000"/>
<rect x="676" y="117" width="12" height="1" fill="#000"/>
<rect x="676" y="120" width="12" height="1" fill="#000"/>
<rect x="676" y="122" width="8" height="1" fill="#000"/>
<rect x="688" y="110" width="2" height="2" fill="#000" />
<rect x="688" y="113" width="2" height="2" fill="#000" />
<rect x="688" y="118" width="2" height="2" fill="#000" />
<rect x="698" y="107" width="16" height="1" fill="#f00"/>
<rect x="698" y="122" width="6" height="1" fill="#f00"/>
<polyline points="700.5,122 706.5,108 711,112.5 714,108.5" fill="none" stroke="#000" stroke-width="1" shape-rendering="geometricPrecision" />
<text x="704.5" y="122.5" font-size="11.5" fill="#f00" font-weight="normal" font-family="&quot;Liberation Sans&quot;,&quot;Noto Sans CJK SC&quot;,sans-serif" text-anchor="start" >%</text>
<text x="722" y="122" font-size="14" fill="#000" font-weight="normal" font-family="&quot;Liberation Sans&quot;,&quot;Noto Sans CJK SC&quot;,sans-serif" text-anchor="start" >%</text>
<rect x="744" y="107" width="16" height="1" fill="#000"/>
<rect x="752" y="110" width="8" height="1" fill="#000"/>
<rect x="753" y="115" width="7" height="1" fill="#000"/>
<rect x="744" y="122" width="16" height="1" fill="#000"/>
<text x="743" y="121.5" font-size="11.5" fill="#f00" font-weight="normal" font-family="&quot;Liberation Sans&quot;,&quot;Noto Sans CJK SC&quot;,sans-serif" text-anchor="start" >%</text>
<circle cx="775" cy="114.5" r="7.5" stroke="#a0a0a0" fill="#f4f4f4" stroke-width="1" shape-rendering="geometricPrecision"/>
<text x="775" y="119.5" font-size="10.5" fill="#808000" font-weight="500" font-family="&quot;Noto Sans CJK SC&quot;,&quot;Noto Sans CJK SC&quot;,sans-serif" text-anchor="middle" >金</text>
<rect x="790" y="107" width="16" height="1" fill="#000"/>
<rect x="798" y="110" width="8" height="1" fill="#000"/>
<rect x="799" y="113" width="7" height="1" fill="#000"/>
<rect x="800" y="116" width="6" height="1" fill="#000"/>
<rect x="800" y="119" width="6" height="1" fill="#000"/>
<rect x="790" y="122" width="16" height="1" fill="#000"/>
<text x="794.7" y="121" font-size="10.5" fill="#808000" font-weight="500" font-family="&quot;Noto Sans CJK SC&quot;,&quot;Noto Sans CJK SC&quot;,sans-serif" text-anchor="middle" >金</text>
<rect x="815" y="107" width="1" height="16" fill="#000"/>
<rect x="813" y="122" width="6" height="1" fill="#000"/>
<rect x="813" y="109" width="5" height="1" fill="#000"/>
<rect x="813" y="112" width="5" height="1" fill="#000"/>
<rect x="813" y="115" width="5" height="1" fill="#000"/>
<rect x="813" y="118" width="5" height="1" fill="#000"/>
<polygon points="824.92,106.16 829.08,109.04 827.88,110.8 823.72,107.92" fill="#f00000" stroke="#000" shape-rendering="geometricPrecision"/>
<polygon points="823.72,107.92 827.88,110.8 824.28,116.24000000000001 820.12,113.36" fill="#b8b8b8" stroke="#000" shape-rendering="geometricPrecision"/>
<polygon points="820.12,113.36 824.28,116.24000000000001 819.8,118.4" fill="#f00000" stroke="#000" shape-rendering="geometricPrecision"/>
<rect x="836" y="107" width="16" height="1" fill="#f00"/>
<rect x="836" y="122" width="16" height="1" fill="#f00"/>
<rect x="836" y="114" width="16" height="1" fill="#000"/>
<path d="M836.5 119 q2 -12 5 -9 q2 4 3 9 q2 4 4 -2 q1.5 -6 3 -8" stroke="#909090" fill="none" stroke-width="1.1" shape-rendering="geometricPrecision" stroke-linejoin="round" stroke-linecap="round"/>
<rect x="859" y="107" width="16" height="1" fill="#f00"/>
<rect x="859" y="122" width="16" height="1" fill="#f00"/>
<text x="867" y="119.8" font-size="11" fill="#808000" font-weight="500" font-family="&quot;Noto Sans CJK SC&quot;,&quot;Noto Sans CJK SC&quot;,sans-serif" text-anchor="middle" >金</text>
<polyline points="882.5,122.5 898.5,106.5" fill="none" stroke="#000" stroke-width="1.1" shape-rendering="geometricPrecision" />
<rect x="890" y="115" width="8" height="1" fill="#000"/>
<rect x="887" y="118" width="11" height="1" fill="#000"/>
<rect x="883" y="122" width="15" height="1" fill="#000"/>
<text x="882" y="115" font-size="12" fill="#f00" font-weight="normal" font-family="&quot;Liberation Sans&quot;,&quot;Noto Sans CJK SC&quot;,sans-serif" text-anchor="start" >J</text>
<polyline points="905.5,122.5 921.5,106.5" fill="none" stroke="#000" stroke-width="1.1" shape-rendering="geometricPrecision" />
<rect x="913" y="115" width="8" height="1" fill="#000"/>
<rect x="910" y="118" width="11" height="1" fill="#000"/>
<rect x="906" y="122" width="15" height="1" fill="#000"/>
<text x="904.5" y="116" font-size="13" fill="#f00" font-weight="bold" font-family="&quot;Liberation Sans&quot;,&quot;Noto Sans CJK SC&quot;,sans-serif" text-anchor="start" >F</text>
<polyline points="928.5,122.5 944.5,106.5" fill="none" stroke="#000" stroke-width="1.1" shape-rendering="geometricPrecision" />
<rect x="936" y="115" width="8" height="1" fill="#000"/>
<rect x="933" y="118" width="11" height="1" fill="#000"/>
<rect x="929" y="122" width="15" height="1" fill="#000"/>
<text x="927.5" y="116" font-size="11" fill="#808000" font-weight="500" font-family="&quot;Noto Sans CJK SC&quot;,&quot;Noto Sans CJK SC&quot;,sans-serif" text-anchor="start" >金</text>
<polyline points="951.5,122.5 967.5,106.5" fill="none" stroke="#000" stroke-width="1.1" shape-rendering="geometricPrecision" />
<rect x="959" y="115" width="8" height="1" fill="#000"/>
<rect x="956" y="118" width="11" height="1" fill="#000"/>
<rect x="952" y="122" width="15" height="1" fill="#000"/>
<text x="950.5" y="117" font-size="12" fill="#f00" font-weight="500" font-family="&quot;Noto Sans CJK SC&quot;,&quot;Noto Sans CJK SC&quot;,sans-serif" text-anchor="start" >神</text>
<polyline points="974.5,122.5 990.5,106.5" fill="none" stroke="#000" stroke-width="1.1" shape-rendering="geometricPrecision" />
<rect x="982" y="115" width="8" height="1" fill="#000"/>
<rect x="979" y="118" width="11" height="1" fill="#000"/>
<rect x="975" y="122" width="15" height="1" fill="#000"/>
<text x="973.5" y="118" font-size="12" fill="#f00" font-weight="500" font-family="&quot;Noto Sans CJK SC&quot;,&quot;Noto Sans CJK SC&quot;,sans-serif" text-anchor="start" >赢</text>
<polyline points="997.5,122.5 1013.5,106.5" fill="none" stroke="#000" stroke-width="1.1" shape-rendering="geometricPrecision" />
<rect x="1005" y="115" width="8" height="1" fill="#000"/>
<rect x="1002" y="118" width="11" height="1" fill="#000"/>
<rect x="998" y="122" width="15" height="1" fill="#000"/>
<text x="996.5" y="116" font-size="11" fill="#f00" font-weight="500" font-family="&quot;Noto Sans CJK SC&quot;,&quot;Noto Sans CJK SC&quot;,sans-serif" text-anchor="start" >四</text>
<rect x="70" y="141" width="1163" height="1" fill="#9a9a9a"/>
<clipPath id="cm"><rect x="60" y="143" width="1173" height="381"/></clipPath>
<rect x="73" y="372" width="1" height="12" fill="#ff0000"/>
<rect x="70.5" y="372.5" width="5" height="4" fill="#fff" stroke="#ff0000"/>
<rect x="80" y="371" width="1" height="9" fill="#007800"/>
<rect x="77" y="374" width="6" height="1" fill="#007800"/>
<rect x="87" y="372" width="1" height="8" fill="#007800"/>
<rect x="84" y="375" width="6" height="5" fill="#007800"/>
<rect x="94" y="378" width="1" height="12" fill="#007800"/>
<rect x="91" y="378" width="6" height="11" fill="#007800"/>
<rect x="101" y="390" width="1" height="16" fill="#007800"/>
<rect x="98" y="391" width="6" height="15" fill="#007800"/>
<rect x="108" y="396" width="1" height="11" fill="#ff0000"/>
<rect x="105.5" y="397.5" width="5" height="7" fill="#fff" stroke="#ff0000"/>
<rect x="115" y="392" width="1" height="6" fill="#ff0000"/>
<rect x="112.5" y="394.5" width="5" height="3" fill="#fff" stroke="#ff0000"/>
<rect x="122" y="393" width="1" height="10" fill="#ff0000"/>
<rect x="119.5" y="393.5" width="5" height="2" fill="#fff" stroke="#ff0000"/>
<rect x="129" y="388" width="1" height="8" fill="#ff0000"/>
<rect x="126" y="394" width="6" height="2" fill="#ff0000"/>
<rect x="136" y="395" width="1" height="7" fill="#007800"/>
<rect x="133" y="395" width="6" height="7" fill="#007800"/>
<rect x="143" y="389" width="1" height="15" fill="#ff0000"/>
<rect x="140.5" y="399.5" width="5" height="3" fill="#fff" stroke="#ff0000"/>
<rect x="150" y="398" width="1" height="8" fill="#007800"/>
<rect x="147" y="399" width="6" height="2" fill="#007800"/>
<rect x="157" y="380" width="1" height="18" fill="#ff0000"/>
<rect x="154.5" y="381.5" width="5" height="14" fill="#fff" stroke="#ff0000"/>
<rect x="164" y="379" width="1" height="7" fill="#007800"/>
<rect x="161" y="379" width="6" height="3" fill="#007800"/>
<rect x="171" y="381" width="1" height="5" fill="#007800"/>
<rect x="168" y="383" width="6" height="1" fill="#007800"/>
<rect x="178" y="385" width="1" height="11" fill="#007800"/>
<rect x="175" y="385" width="6" height="11" fill="#007800"/>
<rect x="185" y="394" width="1" height="6" fill="#ff0000"/>
<rect x="182" y="394" width="6" height="1" fill="#ff0000"/>
<rect x="192" y="395" width="1" height="13" fill="#007800"/>
<rect x="189" y="395" width="6" height="9" fill="#007800"/>
<rect x="199" y="399" width="1" height="6" fill="#007800"/>
<rect x="196" y="401" width="6" height="1" fill="#007800"/>
<rect x="206" y="394" width="1" height="17" fill="#ff0000"/>
<rect x="203.5" y="395.5" width="5" height="10" fill="#fff" stroke="#ff0000"/>
<rect x="213" y="388" width="1" height="10" fill="#007800"/>
<rect x="210" y="395" width="6" height="1" fill="#007800"/>
<rect x="220" y="390" width="1" height="8" fill="#ff0000"/>
<rect x="217.5" y="390.5" width="5" height="6" fill="#fff" stroke="#ff0000"/>
<rect x="227" y="386" width="1" height="4" fill="#007800"/>
<rect x="224" y="387" width="6" height="1" fill="#007800"/>
<rect x="234" y="388" width="1" height="2" fill="#007800"/>
<rect x="231" y="388" width="6" height="2" fill="#007800"/>
<rect x="241" y="382" width="1" height="10" fill="#ff0000"/>
<rect x="238.5" y="383.5" width="5" height="6" fill="#fff" stroke="#ff0000"/>
<rect x="248" y="380" width="1" height="8" fill="#007800"/>
<rect x="245" y="382" width="6" height="5" fill="#007800"/>
<rect x="255" y="385" width="1" height="7" fill="#007800"/>
<rect x="252" y="387" width="6" height="1" fill="#007800"/>
<rect x="262" y="384" width="1" height="5" fill="#007800"/>
<rect x="259" y="388" width="6" height="1" fill="#007800"/>
<rect x="269" y="388" width="1" height="13" fill="#007800"/>
<rect x="266" y="388" width="6" height="7" fill="#007800"/>
<rect x="276" y="387" width="1" height="12" fill="#ff0000"/>
<rect x="273.5" y="387.5" width="5" height="9" fill="#fff" stroke="#ff0000"/>
<rect x="283" y="387" width="1" height="9" fill="#007800"/>
<rect x="280" y="387" width="6" height="5" fill="#007800"/>
<rect x="290" y="385" width="1" height="10" fill="#ff0000"/>
<rect x="287.5" y="392.5" width="5" height="2" fill="#fff" stroke="#ff0000"/>
<rect x="297" y="383" width="1" height="11" fill="#ff0000"/>
<rect x="294.5" y="383.5" width="5" height="7" fill="#fff" stroke="#ff0000"/>
<rect x="304" y="380" width="1" height="5" fill="#ff0000"/>
<rect x="301.5" y="380.5" width="5" height="3" fill="#fff" stroke="#ff0000"/>
<rect x="311" y="379" width="1" height="6" fill="#ff0000"/>
<rect x="308" y="382" width="6" height="1" fill="#ff0000"/>
<rect x="318" y="372" width="1" height="11" fill="#ff0000"/>
<rect x="315.5" y="373.5" width="5" height="9" fill="#fff" stroke="#ff0000"/>
<rect x="325" y="365" width="1" height="10" fill="#ff0000"/>
<rect x="322.5" y="366.5" width="5" height="6" fill="#fff" stroke="#ff0000"/>
<rect x="332" y="368" width="1" height="9" fill="#007800"/>
<rect x="329" y="368" width="6" height="7" fill="#007800"/>
<rect x="339" y="376" width="1" height="6" fill="#007800"/>
<rect x="336" y="376" width="6" height="4" fill="#007800"/>
<rect x="346" y="378" width="1" height="20" fill="#007800"/>
<rect x="343" y="381" width="6" height="14" fill="#007800"/>
<rect x="353" y="394" width="1" height="8" fill="#ff0000"/>
<rect x="350.5" y="394.5" width="5" height="5" fill="#fff" stroke="#ff0000"/>
<rect x="360" y="392" width="1" height="5" fill="#007800"/>
<rect x="357" y="394" width="6" height="1" fill="#007800"/>
<rect x="367" y="390" width="1" height="7" fill="#ff0000"/>
<rect x="364.5" y="390.5" width="5" height="4" fill="#fff" stroke="#ff0000"/>
<rect x="374" y="392" width="1" height="6" fill="#007800"/>
<rect x="371" y="392" width="6" height="2" fill="#007800"/>
<rect x="381" y="388" width="1" height="6" fill="#ff0000"/>
<rect x="378.5" y="388.5" width="5" height="5" fill="#fff" stroke="#ff0000"/>
<rect x="388" y="386" width="1" height="9" fill="#ff0000"/>
<rect x="385" y="389" width="6" height="2" fill="#ff0000"/>
<rect x="395" y="382" width="1" height="7" fill="#ff0000"/>
<rect x="392.5" y="384.5" width="5" height="3" fill="#fff" stroke="#ff0000"/>
<rect x="402" y="382" width="1" height="5" fill="#007800"/>
<rect x="399" y="382" width="6" height="1" fill="#007800"/>
<rect x="409" y="378" width="1" height="8" fill="#ff0000"/>
<rect x="406.5" y="378.5" width="5" height="4" fill="#fff" stroke="#ff0000"/>
<rect x="416" y="375" width="1" height="9" fill="#ff0000"/>
<rect x="413.5" y="377.5" width="5" height="4" fill="#fff" stroke="#ff0000"/>
<rect x="423" y="377" width="1" height="4" fill="#007800"/>
<rect x="420" y="377" width="6" height="1" fill="#007800"/>
<rect x="430" y="376" width="1" height="6" fill="#ff0000"/>
<rect x="427" y="378" width="6" height="1" fill="#ff0000"/>
<rect x="437" y="376" width="1" height="8" fill="#ff0000"/>
<rect x="434.5" y="376.5" width="5" height="2" fill="#fff" stroke="#ff0000"/>
<rect x="444" y="377" width="1" height="12" fill="#007800"/>
<rect x="441" y="377" width="6" height="11" fill="#007800"/>
<rect x="451" y="386" width="1" height="4" fill="#ff0000"/>
<rect x="448" y="387" width="6" height="1" fill="#ff0000"/>
<rect x="458" y="382" width="1" height="9" fill="#ff0000"/>
<rect x="455.5" y="384.5" width="5" height="5" fill="#fff" stroke="#ff0000"/>
<rect x="465" y="375" width="1" height="9" fill="#ff0000"/>
<rect x="462.5" y="375.5" width="5" height="8" fill="#fff" stroke="#ff0000"/>
<rect x="472" y="373" width="1" height="5" fill="#ff0000"/>
<rect x="469" y="373" width="6" height="2" fill="#ff0000"/>
<rect x="479" y="372" width="1" height="5" fill="#007800"/>
<rect x="476" y="374" width="6" height="1" fill="#007800"/>
<rect x="486" y="377" width="1" height="8" fill="#007800"/>
<rect x="483" y="377" width="6" height="4" fill="#007800"/>
<rect x="493" y="375" width="1" height="10" fill="#ff0000"/>
<rect x="490.5" y="379.5" width="5" height="4" fill="#fff" stroke="#ff0000"/>
<rect x="500" y="377" width="1" height="6" fill="#007800"/>
<rect x="497" y="379" width="6" height="2" fill="#007800"/>
<rect x="507" y="371" width="1" height="12" fill="#ff0000"/>
<rect x="504.5" y="371.5" width="5" height="11" fill="#fff" stroke="#ff0000"/>
<rect x="514" y="365" width="1" height="7" fill="#ff0000"/>
<rect x="511" y="369" width="6" height="2" fill="#ff0000"/>
<rect x="521" y="357" width="1" height="12" fill="#ff0000"/>
<rect x="518.5" y="357.5" width="5" height="11" fill="#fff" stroke="#ff0000"/>
<rect x="528" y="347" width="1" height="9" fill="#ff0000"/>
<rect x="525.5" y="347.5" width="5" height="7" fill="#fff" stroke="#ff0000"/>
<rect x="535" y="321" width="1" height="22" fill="#ff0000"/>
<rect x="532.5" y="323.5" width="5" height="19" fill="#fff" stroke="#ff0000"/>
<rect x="542" y="315" width="1" height="11" fill="#ff0000"/>
<rect x="539" y="321" width="6" height="1" fill="#ff0000"/>
<rect x="549" y="315" width="1" height="8" fill="#ff0000"/>
<rect x="546" y="321" width="6" height="1" fill="#ff0000"/>
<rect x="556" y="311" width="1" height="15" fill="#ff0000"/>
<rect x="553.5" y="312.5" width="5" height="9" fill="#fff" stroke="#ff0000"/>
<rect x="563" y="305" width="1" height="15" fill="#007800"/>
<rect x="560" y="315" width="6" height="5" fill="#007800"/>
<rect x="570" y="301" width="1" height="19" fill="#ff0000"/>
<rect x="567.5" y="301.5" width="5" height="15" fill="#fff" stroke="#ff0000"/>
<rect x="577" y="301" width="1" height="8" fill="#007800"/>
<rect x="574" y="301" width="6" height="2" fill="#007800"/>
<rect x="584" y="300" width="1" height="16" fill="#ff0000"/>
<rect x="581" y="305" width="6" height="2" fill="#ff0000"/>
<rect x="591" y="304" width="1" height="16" fill="#007800"/>
<rect x="588" y="305" width="6" height="14" fill="#007800"/>
<rect x="598" y="313" width="1" height="9" fill="#ff0000"/>
<rect x="595.5" y="315.5" width="5" height="2" fill="#fff" stroke="#ff0000"/>
<rect x="605" y="300" width="1" height="13" fill="#ff0000"/>
<rect x="602.5" y="301.5" width="5" height="11" fill="#fff" stroke="#ff0000"/>
<rect x="612" y="302" width="1" height="7" fill="#007800"/>
<rect x="609" y="302" width="6" height="1" fill="#007800"/>
<rect x="619" y="299" width="1" height="13" fill="#007800"/>
<rect x="616" y="302" width="6" height="1" fill="#007800"/>
<rect x="626" y="299" width="1" height="12" fill="#007800"/>
<rect x="623" y="302" width="6" height="7" fill="#007800"/>
<rect x="633" y="298" width="1" height="14" fill="#ff0000"/>
<rect x="630.5" y="300.5" width="5" height="9" fill="#fff" stroke="#ff0000"/>
<rect x="640" y="293" width="1" height="7" fill="#ff0000"/>
<rect x="637.5" y="294.5" width="5" height="4" fill="#fff" stroke="#ff0000"/>
<rect x="647" y="291" width="1" height="8" fill="#ff0000"/>
<rect x="644" y="291" width="6" height="2" fill="#ff0000"/>
<rect x="654" y="290" width="1" height="7" fill="#007800"/>
<rect x="651" y="293" width="6" height="1" fill="#007800"/>
<rect x="661" y="294" width="1" height="13" fill="#007800"/>
<rect x="658" y="294" width="6" height="4" fill="#007800"/>
<rect x="668" y="292" width="1" height="9" fill="#ff0000"/>
<rect x="665.5" y="293.5" width="5" height="5" fill="#fff" stroke="#ff0000"/>
<rect x="675" y="293" width="1" height="10" fill="#007800"/>
<rect x="672" y="293" width="6" height="6" fill="#007800"/>
<rect x="682" y="298" width="1" height="15" fill="#007800"/>
<rect x="679" y="301" width="6" height="8" fill="#007800"/>
<rect x="689" y="305" width="1" height="7" fill="#ff0000"/>
<rect x="686" y="308" width="6" height="1" fill="#ff0000"/>
<rect x="696" y="304" width="1" height="11" fill="#007800"/>
<rect x="693" y="307" width="6" height="7" fill="#007800"/>
<rect x="703" y="304" width="1" height="12" fill="#ff0000"/>
<rect x="700.5" y="304.5" width="5" height="8" fill="#fff" stroke="#ff0000"/>
<rect x="710" y="295" width="1" height="9" fill="#ff0000"/>
<rect x="707.5" y="296.5" width="5" height="6" fill="#fff" stroke="#ff0000"/>
<rect x="717" y="281" width="1" height="15" fill="#ff0000"/>
<rect x="714.5" y="281.5" width="5" height="12" fill="#fff" stroke="#ff0000"/>
<rect x="724" y="270" width="1" height="10" fill="#ff0000"/>
<rect x="721.5" y="271.5" width="5" height="8" fill="#fff" stroke="#ff0000"/>
<rect x="731" y="262" width="1" height="11" fill="#ff0000"/>
<rect x="728.5" y="262.5" width="5" height="8" fill="#fff" stroke="#ff0000"/>
<rect x="738" y="252" width="1" height="11" fill="#ff0000"/>
<rect x="735.5" y="253.5" width="5" height="6" fill="#fff" stroke="#ff0000"/>
<rect x="745" y="252" width="1" height="6" fill="#007800"/>
<rect x="742" y="252" width="6" height="1" fill="#007800"/>
<rect x="752" y="255" width="1" height="8" fill="#007800"/>
<rect x="749" y="257" width="6" height="1" fill="#007800"/>
<rect x="759" y="246" width="1" height="18" fill="#007800"/>
<rect x="756" y="258" width="6" height="2" fill="#007800"/>
<rect x="766" y="250" width="1" height="14" fill="#ff0000"/>
<rect x="763.5" y="250.5" width="5" height="12" fill="#fff" stroke="#ff0000"/>
<rect x="773" y="246" width="1" height="10" fill="#ff0000"/>
<rect x="770.5" y="247.5" width="5" height="3" fill="#fff" stroke="#ff0000"/>
<rect x="780" y="244" width="1" height="25" fill="#007800"/>
<rect x="777" y="246" width="6" height="22" fill="#007800"/>
<rect x="787" y="261" width="1" height="14" fill="#ff0000"/>
<rect x="784.5" y="262.5" width="5" height="3" fill="#fff" stroke="#ff0000"/>
<rect x="794" y="256" width="1" height="10" fill="#ff0000"/>
<rect x="791.5" y="258.5" width="5" height="5" fill="#fff" stroke="#ff0000"/>
<rect x="801" y="251" width="1" height="12" fill="#ff0000"/>
<rect x="798.5" y="252.5" width="5" height="6" fill="#fff" stroke="#ff0000"/>
<rect x="808" y="254" width="1" height="19" fill="#007800"/>
<rect x="805" y="254" width="6" height="16" fill="#007800"/>
<rect x="815" y="261" width="1" height="10" fill="#ff0000"/>
<rect x="812.5" y="261.5" width="5" height="9" fill="#fff" stroke="#ff0000"/>
<rect x="822" y="245" width="1" height="21" fill="#ff0000"/>
<rect x="819.5" y="245.5" width="5" height="18" fill="#fff" stroke="#ff0000"/>
<rect x="829" y="236" width="1" height="12" fill="#007800"/>
<rect x="826" y="241" width="6" height="4" fill="#007800"/>
<rect x="836" y="242" width="1" height="9" fill="#ff0000"/>
<rect x="833.5" y="243.5" width="5" height="3" fill="#fff" stroke="#ff0000"/>
<rect x="843" y="236" width="1" height="9" fill="#ff0000"/>
<rect x="840" y="238" width="6" height="2" fill="#ff0000"/>
<rect x="850" y="235" width="1" height="5" fill="#ff0000"/>
<rect x="847" y="237" width="6" height="1" fill="#ff0000"/>
<rect x="857" y="227" width="1" height="13" fill="#ff0000"/>
<rect x="854.5" y="227.5" width="5" height="5" fill="#fff" stroke="#ff0000"/>
<rect x="864" y="223" width="1" height="11" fill="#ff0000"/>
<rect x="861" y="224" width="6" height="2" fill="#ff0000"/>
<rect x="871" y="226" width="1" height="8" fill="#007800"/>
<rect x="868" y="228" width="6" height="4" fill="#007800"/>
<rect x="878" y="234" width="1" height="13" fill="#007800"/>
<rect x="875" y="234" width="6" height="1" fill="#007800"/>
<rect x="885" y="229" width="1" height="14" fill="#007800"/>
<rect x="882" y="236" width="6" height="3" fill="#007800"/>
<rect x="892" y="230" width="1" height="15" fill="#ff0000"/>
<rect x="889.5" y="231.5" width="5" height="6" fill="#fff" stroke="#ff0000"/>
<rect x="899" y="224" width="1" height="16" fill="#007800"/>
<rect x="896" y="237" width="6" height="2" fill="#007800"/>
<rect x="906" y="238" width="1" height="22" fill="#007800"/>
<rect x="903" y="241" width="6" height="6" fill="#007800"/>
<rect x="913" y="238" width="1" height="8" fill="#ff0000"/>
<rect x="910.5" y="239.5" width="5" height="4" fill="#fff" stroke="#ff0000"/>
<rect x="920" y="238" width="1" height="11" fill="#007800"/>
<rect x="917" y="240" width="6" height="7" fill="#007800"/>
<rect x="927" y="242" width="1" height="13" fill="#007800"/>
<rect x="924" y="247" width="6" height="6" fill="#007800"/>
<rect x="934" y="252" width="1" height="15" fill="#007800"/>
<rect x="931" y="255" width="6" height="9" fill="#007800"/>
<rect x="941" y="260" width="1" height="8" fill="#007800"/>
<rect x="938" y="264" width="6" height="1" fill="#007800"/>
<rect x="948" y="268" width="1" height="8" fill="#007800"/>
<rect x="945" y="268" width="6" height="2" fill="#007800"/>
<rect x="955" y="248" width="1" height="20" fill="#ff0000"/>
<rect x="952.5" y="248.5" width="5" height="19" fill="#fff" stroke="#ff0000"/>
<rect x="962" y="227" width="1" height="20" fill="#ff0000"/>
<rect x="959.5" y="231.5" width="5" height="13" fill="#fff" stroke="#ff0000"/>
<rect x="969" y="220" width="1" height="15" fill="#ff0000"/>
<rect x="966.5" y="223.5" width="5" height="8" fill="#fff" stroke="#ff0000"/>
<rect x="976" y="207" width="1" height="19" fill="#ff0000"/>
<rect x="973.5" y="209.5" width="5" height="12" fill="#fff" stroke="#ff0000"/>
<rect x="983" y="201" width="1" height="9" fill="#ff0000"/>
<rect x="980.5" y="204.5" width="5" height="2" fill="#fff" stroke="#ff0000"/>
<g clip-path="url(#cm)">
<polyline fill="none" stroke="#ff0000" stroke-width="1" points="73.5,269.5 74.5,269.5 75.5,269.5 76.5,269.5 77.5,269.5 78.5,270.5 79.5,270.5 80.5,270.5 81.5,270.5 82.5,270.5 83.5,270.5 84.5,270.5 85.5,270.5 86.5,270.5 87.5,270.5 88.5,270.5 89.5,270.5 90.5,270.5 91.5,270.5 92.5,270.5 93.5,270.5 94.5,270.5 95.5,270.5 96.5,270.5 97.5,270.5 98.5,270.5 99.5,270.5 100.5,270.5 101.5,270.5 102.5,270.5 103.5,270.5 104.5,270.5 105.5,270.5 106.5,270.5 107.5,271.5 108.5,271.5 109.5,271.5 110.5,272.5 111.5,272.5 112.5,273.5 113.5,273.5 114.5,273.5 115.5,274.5 116.5,274.5 117.5,275.5 118.5,275.5 119.5,276.5 120.5,276.5 121.5,276.5 122.5,277.5 123.5,277.5 124.5,278.5 125.5,278.5 126.5,278.5 127.5,279.5 128.5,279.5 129.5,279.5 130.5,280.5 131.5,280.5 132.5,280.5 133.5,281.5 134.5,281.5 135.5,281.5 136.5,281.5 137.5,282.5 138.5,282.5 139.5,282.5 140.5,282.5 141.5,283.5 142.5,283.5 143.5,283.5 144.5,284.5 145.5,284.5 146.5,284.5 147.5,285.5 148.5,285.5 149.5,285.5 150.5,284.5 151.5,284.5 152.5,284.5 153.5,284.5 154.5,284.5 155.5,284.5 156.5,284.5 157.5,284.5 158.5,285.5 159.5,285.5 160.5,285.5 161.5,285.5 162.5,285.5 163.5,286.5 164.5,286.5 165.5,286.5 166.5,286.5 167.5,286.5 168.5,286.5 169.5,286.5 170.5,286.5 171.5,287.5 172.5,287.5 173.5,287.5 174.5,287.5 175.5,287.5 176.5,287.5 177.5,287.5 178.5,287.5 179.5,287.5 180.5,287.5 181.5,288.5 182.5,288.5 183.5,288.5 184.5,288.5 185.5,288.5 186.5,288.5 187.5,288.5 188.5,289.5 189.5,289.5 190.5,289.5 191.5,289.5 192.5,289.5 193.5,289.5 194.5,290.5 195.5,290.5 196.5,290.5 197.5,290.5 198.5,291.5 199.5,291.5 200.5,291.5 201.5,291.5 202.5,291.5 203.5,291.5 204.5,291.5 205.5,291.5 206.5,292.5 207.5,292.5 208.5,292.5 209.5,292.5 210.5,292.5 211.5,292.5 212.5,292.5 213.5,292.5 214.5,292.5 215.5,292.5 216.5,292.5 217.5,292.5 218.5,293.5 219.5,293.5 220.5,293.5 221.5,293.5 222.5,293.5 223.5,293.5 224.5,294.5 225.5,294.5 226.5,294.5 227.5,294.5 228.5,294.5 229.5,294.5 230.5,295.5 231.5,295.5 232.5,295.5 233.5,295.5 234.5,295.5 235.5,295.5 236.5,295.5 237.5,295.5 238.5,295.5 239.5,295.5 240.5,295.5 241.5,294.5 242.5,294.5 243.5,294.5 244.5,294.5 245.5,294.5 246.5,294.5 247.5,294.5 248.5,294.5 249.5,294.5 250.5,294.5 251.5,294.5 252.5,294.5 253.5,294.5 254.5,295.5 255.5,295.5 256.5,295.5 257.5,295.5 258.5,295.5 259.5,295.5 260.5,296.5 261.5,296.5 262.5,296.5 263.5,297.5 264.5,297.5 265.5,297.5 266.5,298.5 267.5,298.5 268.5,299.5 269.5,299.5 270.5,299.5 271.5,299.5 272.5,299.5 273.5,299.5 274.5,299.5 275.5,299.5 276.5,299.5 277.5,299.5 278.5,300.5 279.5,300.5 280.5,300.5 281.5,300.5 282.5,300.5 283.5,300.5 284.5,300.5 285.5,300.5 286.5,300.5 287.5,300.5 288.5,300.5 289.5,300.5 290.5,300.5 291.5,300.5 292.5,300.5 293.5,300.5 294.5,300.5 295.5,300.5 296.5,301.5 297.5,301.5 298.5,301.5 299.5,301.5 300.5,301.5 301.5,301.5 302.5,301.5 303.5,302.5 304.5,302.5 305.5,302.5 306.5,302.5 307.5,302.5 308.5,303.5 309.5,303.5 310.5,303.5 311.5,303.5 312.5,303.5 313.5,303.5 314.5,303.5 315.5,302.5 316.5,302.5 317.5,302.5 318.5,302.5 319.5,302.5 320.5,302.5 321.5,302.5 322.5,302.5 323.5,302.5 324.5,302.5 325.5,302.5 326.5,302.5 327.5,302.5 328.5,302.5 329.5,302.5 330.5,302.5 331.5,302.5 332.5,302.5 333.5,302.5 334.5,302.5 335.5,302.5 336.5,302.5 337.5,302.5 338.5,303.5 339.5,303.5 340.5,303.5 341.5,303.5 342.5,303.5 343.5,304.5 344.5,304.5 345.5,304.5 346.5,304.5 347.5,304.5 348.5,304.5 349.5,304.5 350.5,304.5 351.5,304.5 352.5,304.5 353.5,304.5 354.5,305.5 355.5,305.5 356.5,306.5 357.5,306.5 358.5,307.5 359.5,307.5 360.5,308.5 361.5,308.5 362.5,309.5 363.5,309.5 364.5,309.5 365.5,309.5 366.5,309.5 367.5,310.5 368.5,310.5 369.5,310.5 370.5,310.5 371.5,310.5 372.5,311.5 373.5,311.5 374.5,311.5 375.5,311.5 376.5,311.5 377.5,312.5 378.5,312.5 379.5,312.5 380.5,312.5 381.5,312.5 382.5,312.5 383.5,313.5 384.5,313.5 385.5,313.5 386.5,313.5 387.5,313.5 388.5,313.5 389.5,313.5 390.5,314.5 391.5,314.5 392.5,314.5 393.5,314.5 394.5,314.5 395.5,314.5 396.5,315.5 397.5,315.5 398.5,315.5 399.5,315.5 400.5,315.5 401.5,315.5 402.5,316.5 403.5,316.5 404.5,316.5 405.5,316.5 406.5,316.5 407.5,317.5 408.5,317.5 409.5,317.5 410.5,317.5 411.5,317.5 412.5,317.5 413.5,318.5 414.5,318.5 415.5,318.5 416.5,318.5 417.5,318.5 418.5,318.5 419.5,318.5 420.5,318.5 421.5,318.5 422.5,318.5 423.5,319.5 424.5,319.5 425.5,319.5 426.5,319.5 427.5,319.5 428.5,319.5 429.5,319.5 430.5,319.5 431.5,319.5 432.5,319.5 433.5,319.5 434.5,320.5 435.5,320.5 436.5,320.5 437.5,320.5 438.5,320.5 439.5,320.5 440.5,320.5 441.5,320.5 442.5,320.5 443.5,320.5 444.5,320.5 445.5,320.5 446.5,320.5 447.5,321.5 448.5,321.5 449.5,321.5 450.5,321.5 451.5,321.5 452.5,321.5 453.5,320.5 454.5,320.5 455.5,320.5 456.5,320.5 457.5,320.5 458.5,320.5 459.5,320.5 460.5,320.5 461.5,320.5 462.5,320.5 463.5,320.5 464.5,320.5 465.5,320.5 466.5,319.5 467.5,319.5 468.5,319.5 469.5,319.5 470.5,319.5 471.5,319.5 472.5,319.5 473.5,319.5 474.5,319.5 475.5,319.5 476.5,319.5 477.5,319.5 478.5,319.5 479.5,319.5 480.5,319.5 481.5,319.5 482.5,319.5 483.5,319.5 484.5,319.5 485.5,319.5 486.5,320.5 487.5,320.5 488.5,320.5 489.5,320.5 490.5,320.5 491.5,320.5 492.5,320.5 493.5,320.5 494.5,320.5 495.5,320.5 496.5,320.5 497.5,321.5 498.5,321.5 499.5,321.5 500.5,321.5 501.5,321.5 502.5,321.5 503.5,321.5 504.5,321.5 505.5,321.5 506.5,321.5 507.5,321.5 508.5,321.5 509.5,321.5 510.5,321.5 511.5,321.5 512.5,321.5 513.5,320.5 514.5,320.5 515.5,320.5 516.5,320.5 517.5,320.5 518.5,320.5 519.5,319.5 520.5,319.5 521.5,319.5 522.5,319.5 523.5,319.5 524.5,318.5 525.5,318.5 526.5,318.5 527.5,318.5 528.5,318.5 529.5,318.5 530.5,318.5 531.5,317.5 532.5,317.5 533.5,317.5 534.5,316.5 535.5,316.5 536.5,315.5 537.5,315.5 538.5,315.5 539.5,314.5 540.5,314.5 541.5,314.5 542.5,313.5 543.5,313.5 544.5,313.5 545.5,313.5 546.5,313.5 547.5,312.5 548.5,312.5 549.5,312.5 550.5,312.5 551.5,312.5 552.5,312.5 553.5,312.5 554.5,312.5 555.5,311.5 556.5,311.5 557.5,311.5 558.5,311.5 559.5,311.5 560.5,311.5 561.5,310.5 562.5,310.5 563.5,309.5 564.5,309.5 565.5,308.5 566.5,308.5 567.5,307.5 568.5,307.5 569.5,306.5 570.5,306.5 571.5,305.5 572.5,305.5 573.5,304.5 574.5,304.5 575.5,303.5 576.5,303.5 577.5,302.5 578.5,302.5 579.5,302.5 580.5,301.5 581.5,301.5 582.5,300.5 583.5,300.5 584.5,300.5 585.5,299.5 586.5,299.5 587.5,299.5 588.5,298.5 589.5,298.5 590.5,298.5 591.5,297.5 592.5,297.5 593.5,296.5 594.5,296.5 595.5,296.5 596.5,295.5 597.5,295.5 598.5,294.5 599.5,294.5 600.5,294.5 601.5,293.5 602.5,293.5 603.5,293.5 604.5,292.5 605.5,292.5 606.5,292.5 607.5,292.5 608.5,291.5 609.5,291.5 610.5,291.5 611.5,291.5 612.5,290.5 613.5,290.5 614.5,290.5 615.5,290.5 616.5,290.5 617.5,290.5 618.5,290.5 619.5,289.5 620.5,289.5 621.5,289.5 622.5,289.5 623.5,288.5 624.5,288.5 625.5,288.5 626.5,287.5 627.5,287.5 628.5,287.5 629.5,286.5 630.5,286.5 631.5,286.5 632.5,285.5 633.5,285.5 634.5,285.5 635.5,284.5 636.5,284.5 637.5,284.5 638.5,283.5 639.5,283.5 640.5,283.5 641.5,282.5 642.5,282.5 643.5,282.5 644.5,282.5 645.5,281.5 646.5,281.5 647.5,281.5 648.5,280.5 649.5,280.5 650.5,280.5 651.5,280.5 652.5,279.5 653.5,279.5 654.5,279.5 655.5,278.5 656.5,278.5 657.5,278.5 658.5,278.5 659.5,277.5 660.5,277.5 661.5,277.5 662.5,277.5 663.5,276.5 664.5,276.5 665.5,276.5 666.5,276.5 667.5,275.5 668.5,275.5 669.5,275.5 670.5,275.5 671.5,274.5 672.5,274.5 673.5,274.5 674.5,274.5 675.5,273.5 676.5,273.5 677.5,273.5 678.5,273.5 679.5,272.5 680.5,272.5 681.5,272.5 682.5,272.5 683.5,272.5 684.5,272.5 685.5,272.5 686.5,272.5 687.5,272.5 688.5,271.5 689.5,271.5 690.5,271.5 691.5,271.5 692.5,271.5 693.5,270.5 694.5,270.5 695.5,270.5 696.5,269.5 697.5,269.5 698.5,269.5 699.5,268.5 700.5,268.5 701.5,268.5 702.5,268.5 703.5,267.5 704.5,267.5 705.5,267.5 706.5,266.5 707.5,266.5 708.5,266.5 709.5,265.5 710.5,265.5 711.5,265.5 712.5,264.5 713.5,264.5 714.5,263.5 715.5,263.5 716.5,262.5 717.5,262.5 718.5,261.5 719.5,261.5 720.5,260.5 721.5,259.5 722.5,259.5 723.5,258.5 724.5,258.5 725.5,257.5 726.5,257.5 727.5,256.5 728.5,255.5 729.5,255.5 730.5,254.5 731.5,254.5 732.5,254.5 733.5,253.5 734.5,253.5 735.5,252.5 736.5,252.5 737.5,252.5 738.5,251.5 739.5,251.5 740.5,251.5 741.5,250.5 742.5,250.5 743.5,250.5 744.5,249.5 745.5,249.5 746.5,249.5 747.5,249.5 748.5,248.5 749.5,248.5 750.5,248.5 751.5,247.5 752.5,247.5 753.5,246.5 754.5,246.5 755.5,245.5 756.5,245.5 757.5,244.5 758.5,244.5 759.5,243.5 760.5,243.5 761.5,242.5 762.5,242.5 763.5,241.5 764.5,241.5 765.5,240.5 766.5,239.5 767.5,239.5 768.5,238.5 769.5,238.5 770.5,237.5 771.5,236.5 772.5,236.5 773.5,235.5 774.5,234.5 775.5,234.5 776.5,233.5 777.5,232.5 778.5,231.5 779.5,231.5 780.5,230.5 781.5,230.5 782.5,229.5 783.5,229.5 784.5,229.5 785.5,228.5 786.5,228.5 787.5,228.5 788.5,227.5 789.5,227.5 790.5,227.5 791.5,226.5 792.5,226.5 793.5,225.5 794.5,225.5 795.5,224.5 796.5,224.5 797.5,223.5 798.5,223.5 799.5,222.5 800.5,222.5 801.5,221.5 802.5,221.5 803.5,220.5 804.5,220.5 805.5,219.5 806.5,219.5 807.5,218.5 808.5,218.5 809.5,217.5 810.5,217.5 811.5,216.5 812.5,216.5 813.5,215.5 814.5,215.5 815.5,214.5 816.5,214.5 817.5,213.5 818.5,213.5 819.5,212.5 820.5,212.5 821.5,211.5 822.5,211.5 823.5,210.5 824.5,209.5 825.5,209.5 826.5,208.5 827.5,208.5 828.5,207.5 829.5,207.5 830.5,206.5 831.5,206.5 832.5,205.5 833.5,205.5 834.5,204.5 835.5,204.5 836.5,203.5 837.5,203.5 838.5,202.5 839.5,202.5 840.5,202.5 841.5,201.5 842.5,201.5 843.5,201.5 844.5,200.5 845.5,200.5 846.5,200.5 847.5,199.5 848.5,199.5 849.5,199.5 850.5,198.5 851.5,198.5 852.5,198.5 853.5,197.5 854.5,197.5 855.5,197.5 856.5,196.5 857.5,195.5 858.5,195.5 859.5,194.5 860.5,194.5 861.5,194.5 862.5,193.5 863.5,193.5 864.5,192.5 865.5,192.5 866.5,192.5 867.5,191.5 868.5,191.5 869.5,190.5 870.5,190.5 871.5,190.5 872.5,190.5 873.5,190.5 874.5,190.5 875.5,190.5 876.5,190.5 877.5,190.5 878.5,190.5 879.5,190.5 880.5,190.5 881.5,189.5 882.5,189.5 883.5,188.5 884.5,188.5 885.5,188.5 886.5,187.5 887.5,187.5 888.5,186.5 889.5,186.5 890.5,186.5 891.5,185.5 892.5,185.5 893.5,184.5 894.5,184.5 895.5,183.5 896.5,183.5 897.5,183.5 898.5,182.5 899.5,182.5 900.5,181.5 901.5,181.5 902.5,181.5 903.5,181.5 904.5,181.5 905.5,180.5 906.5,180.5 907.5,180.5 908.5,180.5 909.5,180.5 910.5,179.5 911.5,179.5 912.5,179.5 913.5,179.5 914.5,179.5 915.5,179.5 916.5,179.5 917.5,178.5 918.5,178.5 919.5,178.5 920.5,178.5 921.5,178.5 922.5,178.5 923.5,178.5 924.5,177.5 925.5,177.5 926.5,177.5 927.5,177.5 928.5,177.5 929.5,177.5 930.5,177.5 931.5,177.5 932.5,176.5 933.5,176.5 934.5,176.5 935.5,176.5 936.5,176.5 937.5,176.5 938.5,176.5 939.5,175.5 940.5,175.5 941.5,175.5 942.5,175.5 943.5,175.5 944.5,175.5 945.5,175.5 946.5,176.5 947.5,176.5 948.5,176.5 949.5,176.5 950.5,175.5 951.5,175.5 952.5,174.5 953.5,174.5 954.5,173.5 955.5,173.5 956.5,172.5 957.5,172.5 958.5,171.5 959.5,171.5 960.5,171.5 961.5,170.5 962.5,170.5 963.5,170.5 964.5,170.5 965.5,169.5 966.5,169.5 967.5,169.5 968.5,168.5 969.5,168.5 970.5,168.5 971.5,168.5 972.5,167.5 973.5,167.5 974.5,167.5 975.5,166.5 976.5,166.5 977.5,166.5 978.5,166.5 979.5,165.5 980.5,165.5 981.5,164.5 982.5,164.5 983.5,163.5 984.5,163.5 985.5,163.5 986.5,163.5 987.5,163.5 988.5,163.5 989.5,163.5 990.5,163.5 991.5,162.5 992.5,162.5 993.5,162.5 994.5,162.5 995.5,162.5 996.5,162.5 997.5,162.5 998.5,162.5 999.5,162.5 1000.5,162.5 1001.5,162.5 1002.5,162.5 1003.5,162.5 1004.5,162.5 1005.5,161.5 1006.5,161.5 1007.5,161.5 1008.5,161.5 1009.5,161.5 1010.5,161.5 1011.5,161.5 1012.5,161.5 1013.5,161.5 1014.5,161.5 1015.5,161.5 1016.5,161.5 1017.5,161.5 1018.5,161.5 1019.5,161.5 1020.5,161.5 1021.5,161.5 1022.5,160.5 1023.5,160.5 1024.5,160.5 1025.5,160.5 1026.5,160.5 1027.5,160.5 1028.5,160.5 1029.5,160.5 1030.5,160.5 1031.5,160.5 1032.5,160.5 1033.5,160.5 1034.5,160.5 1035.5,160.5 1036.5,160.5 1037.5,160.5 1038.5,160.5 1039.5,159.5 1040.5,159.5 1041.5,159.5 1042.5,159.5 1043.5,159.5 1044.5,159.5 1045.5,159.5 1046.5,159.5 1047.5,159.5 1048.5,159.5 1049.5,159.5 1050.5,159.5 1051.5,159.5 1052.5,159.5 1053.5,159.5 1054.5,159.5 1055.5,159.5 1056.5,159.5 1057.5,159.5 1058.5,159.5 1059.5,159.5 1060.5,160.5 1061.5,160.5 1062.5,160.5 1063.5,160.5 1064.5,160.5 1065.5,160.5 1066.5,160.5 1067.5,160.5 1068.5,160.5 1069.5,160.5 1070.5,160.5 1071.5,160.5 1072.5,160.5 1073.5,160.5 1074.5,160.5 1075.5,160.5 1076.5,160.5 1077.5,160.5 1078.5,160.5 1079.5,160.5 1080.5,160.5 1081.5,160.5 1082.5,160.5 1083.5,160.5 1084.5,160.5 1085.5,160.5 1086.5,160.5 1087.5,160.5 1088.5,160.5 1089.5,160.5 1090.5,160.5 1091.5,160.5 1092.5,160.5 1093.5,160.5 1094.5,160.5 1095.5,161.5 1096.5,161.5 1097.5,161.5 1098.5,161.5 1099.5,162.5 1100.5,162.5 1101.5,162.5 1102.5,162.5 1103.5,163.5 1104.5,163.5 1105.5,163.5 1106.5,163.5 1107.5,163.5 1108.5,164.5 1109.5,164.5 1110.5,164.5 1111.5,164.5 1112.5,164.5 1113.5,164.5 1114.5,164.5 1115.5,164.5 1116.5,165.5 1117.5,165.5 1118.5,165.5 1119.5,165.5 1120.5,165.5 1121.5,166.5 1122.5,166.5 1123.5,167.5 1124.5,167.5 1125.5,168.5 1126.5,168.5 1127.5,168.5 1128.5,168.5 1129.5,168.5 1130.5,168.5 1131.5,168.5 1132.5,168.5 1133.5,168.5 1134.5,168.5 1135.5,168.5 1136.5,168.5 1137.5,168.5 1138.5,168.5 1139.5,168.5 1140.5,168.5 1141.5,168.5 1142.5,169.5 1143.5,169.5 1144.5,169.5 1145.5,169.5 1146.5,169.5 1147.5,170.5 1148.5,170.5 1149.5,170.5 1150.5,170.5 1151.5,170.5 1152.5,171.5 1153.5,171.5 1154.5,171.5 1155.5,171.5 1156.5,171.5 1157.5,171.5 1158.5,171.5 1159.5,171.5 1160.5,171.5 1161.5,172.5 1162.5,172.5 1163.5,172.5 1164.5,173.5 1165.5,173.5 1166.5,173.5 1167.5,174.5 1168.5,174.5 1169.5,174.5 1170.5,175.5 1171.5,175.5 1172.5,175.5 1173.5,175.5 1174.5,175.5 1175.5,175.5 1176.5,175.5 1177.5,175.5 1178.5,175.5 1179.5,175.5 1180.5,175.5 1181.5,175.5 1182.5,175.5 1183.5,176.5 1184.5,176.5 1185.5,176.5 1186.5,176.5 1187.5,176.5 1188.5,176.5 1189.5,176.5 1190.5,176.5 1191.5,176.5 1192.5,176.5 1193.5,176.5" />
<polyline fill="none" stroke="#0000ff" stroke-width="1" points="73.5,319.5 74.5,319.5 75.5,319.5 76.5,319.5 77.5,319.5 78.5,319.5 79.5,319.5 80.5,320.5 81.5,320.5 82.5,320.5 83.5,320.5 84.5,320.5 85.5,320.5 86.5,320.5 87.5,320.5 88.5,320.5 89.5,320.5 90.5,320.5 91.5,320.5 92.5,320.5 93.5,320.5 94.5,320.5 95.5,320.5 96.5,320.5 97.5,320.5 98.5,320.5 99.5,320.5 100.5,320.5 101.5,320.5 102.5,320.5 103.5,320.5 104.5,320.5 105.5,320.5 106.5,320.5 107.5,321.5 108.5,321.5 109.5,321.5 110.5,321.5 111.5,322.5 112.5,322.5 113.5,322.5 114.5,323.5 115.5,323.5 116.5,323.5 117.5,323.5 118.5,324.5 119.5,324.5 120.5,324.5 121.5,325.5 122.5,325.5 123.5,325.5 124.5,325.5 125.5,326.5 126.5,326.5 127.5,326.5 128.5,327.5 129.5,327.5 130.5,327.5 131.5,328.5 132.5,328.5 133.5,328.5 134.5,328.5 135.5,329.5 136.5,329.5 137.5,329.5 138.5,329.5 139.5,329.5 140.5,330.5 141.5,330.5 142.5,330.5 143.5,330.5 144.5,330.5 145.5,330.5 146.5,331.5 147.5,331.5 148.5,331.5 149.5,331.5 150.5,330.5 151.5,330.5 152.5,330.5 153.5,330.5 154.5,330.5 155.5,330.5 156.5,330.5 157.5,330.5 158.5,330.5 159.5,330.5 160.5,331.5 161.5,331.5 162.5,331.5 163.5,331.5 164.5,331.5 165.5,331.5 166.5,331.5 167.5,332.5 168.5,332.5 169.5,332.5 170.5,332.5 171.5,332.5 172.5,332.5 173.5,332.5 174.5,332.5 175.5,332.5 176.5,332.5 177.5,332.5 178.5,332.5 179.5,332.5 180.5,332.5 181.5,333.5 182.5,333.5 183.5,333.5 184.5,333.5 185.5,333.5 186.5,333.5 187.5,333.5 188.5,334.5 189.5,334.5 190.5,334.5 191.5,334.5 192.5,334.5 193.5,334.5 194.5,334.5 195.5,335.5 196.5,335.5 197.5,335.5 198.5,335.5 199.5,335.5 200.5,335.5 201.5,335.5 202.5,335.5 203.5,335.5 204.5,335.5 205.5,335.5 206.5,335.5 207.5,335.5 208.5,335.5 209.5,335.5 210.5,335.5 211.5,335.5 212.5,335.5 213.5,335.5 214.5,335.5 215.5,335.5 216.5,335.5 217.5,335.5 218.5,335.5 219.5,336.5 220.5,336.5 221.5,336.5 222.5,336.5 223.5,336.5 224.5,336.5 225.5,336.5 226.5,336.5 227.5,336.5 228.5,336.5 229.5,336.5 230.5,336.5 231.5,336.5 232.5,336.5 233.5,336.5 234.5,336.5 235.5,336.5 236.5,336.5 237.5,336.5 238.5,336.5 239.5,336.5 240.5,336.5 241.5,336.5 242.5,336.5 243.5,336.5 244.5,336.5 245.5,336.5 246.5,336.5 247.5,336.5 248.5,336.5 249.5,336.5 250.5,336.5 251.5,336.5 252.5,336.5 253.5,336.5 254.5,336.5 255.5,336.5 256.5,336.5 257.5,336.5 258.5,336.5 259.5,336.5 260.5,336.5 261.5,336.5 262.5,336.5 263.5,337.5 264.5,337.5 265.5,337.5 266.5,337.5 267.5,337.5 268.5,338.5 269.5,338.5 270.5,338.5 271.5,338.5 272.5,338.5 273.5,338.5 274.5,338.5 275.5,339.5 276.5,339.5 277.5,339.5 278.5,339.5 279.5,339.5 280.5,339.5 281.5,339.5 282.5,339.5 283.5,339.5 284.5,339.5 285.5,339.5 286.5,339.5 287.5,339.5 288.5,339.5 289.5,339.5 290.5,339.5 291.5,339.5 292.5,339.5 293.5,340.5 294.5,340.5 295.5,340.5 296.5,340.5 297.5,340.5 298.5,340.5 299.5,340.5 300.5,340.5 301.5,340.5 302.5,340.5 303.5,340.5 304.5,340.5 305.5,340.5 306.5,340.5 307.5,339.5 308.5,339.5 309.5,339.5 310.5,339.5 311.5,339.5 312.5,339.5 313.5,339.5 314.5,339.5 315.5,339.5 316.5,339.5 317.5,339.5 318.5,339.5 319.5,339.5 320.5,339.5 321.5,339.5 322.5,339.5 323.5,339.5 324.5,339.5 325.5,339.5 326.5,339.5 327.5,339.5 328.5,339.5 329.5,339.5 330.5,339.5 331.5,339.5 332.5,340.5 333.5,340.5 334.5,340.5 335.5,340.5 336.5,340.5 337.5,340.5 338.5,340.5 339.5,340.5 340.5,340.5 341.5,340.5 342.5,340.5 343.5,340.5 344.5,340.5 345.5,340.5 346.5,340.5 347.5,340.5 348.5,341.5 349.5,341.5 350.5,341.5 351.5,341.5 352.5,341.5 353.5,341.5 354.5,342.5 355.5,342.5 356.5,342.5 357.5,343.5 358.5,343.5 359.5,343.5 360.5,344.5 361.5,344.5 362.5,344.5 363.5,344.5 364.5,345.5 365.5,345.5 366.5,345.5 367.5,345.5 368.5,345.5 369.5,345.5 370.5,345.5 371.5,346.5 372.5,346.5 373.5,346.5 374.5,346.5 375.5,346.5 376.5,346.5 377.5,346.5 378.5,347.5 379.5,347.5 380.5,347.5 381.5,347.5 382.5,347.5 383.5,348.5 384.5,348.5 385.5,348.5 386.5,348.5 387.5,348.5 388.5,349.5 389.5,349.5 390.5,349.5 391.5,349.5 392.5,349.5 393.5,349.5 394.5,349.5 395.5,349.5 396.5,349.5 397.5,349.5 398.5,349.5 399.5,349.5 400.5,349.5 401.5,349.5 402.5,350.5 403.5,350.5 404.5,350.5 405.5,350.5 406.5,351.5 407.5,351.5 408.5,351.5 409.5,351.5 410.5,351.5 411.5,351.5 412.5,351.5 413.5,351.5 414.5,351.5 415.5,351.5 416.5,351.5 417.5,351.5 418.5,351.5 419.5,351.5 420.5,351.5 421.5,351.5 422.5,351.5 423.5,351.5 424.5,352.5 425.5,352.5 426.5,352.5 427.5,352.5 428.5,352.5 429.5,352.5 430.5,352.5 431.5,352.5 432.5,352.5 433.5,352.5 434.5,352.5 435.5,352.5 436.5,352.5 437.5,352.5 438.5,352.5 439.5,352.5 440.5,352.5 441.5,352.5 442.5,352.5 443.5,352.5 444.5,352.5 445.5,352.5 446.5,352.5 447.5,352.5 448.5,352.5 449.5,352.5 450.5,352.5 451.5,352.5 452.5,352.5 453.5,352.5 454.5,352.5 455.5,352.5 456.5,352.5 457.5,352.5 458.5,352.5 459.5,352.5 460.5,352.5 461.5,352.5 462.5,352.5 463.5,352.5 464.5,352.5 465.5,352.5 466.5,352.5 467.5,352.5 468.5,352.5 469.5,352.5 470.5,352.5 471.5,352.5 472.5,352.5 473.5,352.5 474.5,352.5 475.5,352.5 476.5,352.5 477.5,352.5 478.5,351.5 479.5,351.5 480.5,351.5 481.5,351.5 482.5,351.5 483.5,351.5 484.5,351.5 485.5,351.5 486.5,351.5 487.5,351.5 488.5,351.5 489.5,351.5 490.5,351.5 491.5,351.5 492.5,351.5 493.5,351.5 494.5,351.5 495.5,351.5 496.5,351.5 497.5,351.5 498.5,351.5 499.5,352.5 500.5,352.5 501.5,352.5 502.5,352.5 503.5,352.5 504.5,352.5 505.5,352.5 506.5,352.5 507.5,352.5 508.5,352.5 509.5,351.5 510.5,351.5 511.5,351.5 512.5,351.5 513.5,351.5 514.5,351.5 515.5,351.5 516.5,351.5 517.5,351.5 518.5,351.5 519.5,351.5 520.5,351.5 521.5,351.5 522.5,350.5 523.5,350.5 524.5,350.5 525.5,350.5 526.5,349.5 527.5,349.5 528.5,349.5 529.5,348.5 530.5,348.5 531.5,348.5 532.5,348.5 533.5,347.5 534.5,347.5 535.5,347.5 536.5,347.5 537.5,346.5 538.5,346.5 539.5,346.5 540.5,346.5 541.5,345.5 542.5,345.5 543.5,345.5 544.5,345.5 545.5,344.5 546.5,344.5 547.5,344.5 548.5,344.5 549.5,343.5 550.5,343.5 551.5,343.5 552.5,343.5 553.5,342.5 554.5,342.5 555.5,342.5 556.5,342.5 557.5,342.5 558.5,341.5 559.5,341.5 560.5,341.5 561.5,341.5 562.5,340.5 563.5,340.5 564.5,340.5 565.5,340.5 566.5,339.5 567.5,339.5 568.5,339.5 569.5,338.5 570.5,338.5 571.5,337.5 572.5,337.5 573.5,337.5 574.5,336.5 575.5,336.5 576.5,336.5 577.5,335.5 578.5,335.5 579.5,335.5 580.5,335.5 581.5,334.5 582.5,334.5 583.5,334.5 584.5,333.5 585.5,333.5 586.5,333.5 587.5,333.5 588.5,332.5 589.5,332.5 590.5,332.5 591.5,332.5 592.5,331.5 593.5,331.5 594.5,331.5 595.5,331.5 596.5,330.5 597.5,330.5 598.5,330.5 599.5,330.5 600.5,329.5 601.5,329.5 602.5,329.5 603.5,328.5 604.5,328.5 605.5,328.5 606.5,328.5 607.5,327.5 608.5,327.5 609.5,327.5 610.5,326.5 611.5,326.5 612.5,326.5 613.5,325.5 614.5,325.5 615.5,325.5 616.5,325.5 617.5,324.5 618.5,324.5 619.5,324.5 620.5,323.5 621.5,323.5 622.5,323.5 623.5,322.5 624.5,322.5 625.5,322.5 626.5,322.5 627.5,321.5 628.5,321.5 629.5,321.5 630.5,320.5 631.5,320.5 632.5,320.5 633.5,320.5 634.5,319.5 635.5,319.5 636.5,319.5 637.5,318.5 638.5,318.5 639.5,318.5 640.5,318.5 641.5,317.5 642.5,317.5 643.5,317.5 644.5,316.5 645.5,316.5 646.5,316.5 647.5,316.5 648.5,315.5 649.5,315.5 650.5,315.5 651.5,314.5 652.5,314.5 653.5,314.5 654.5,314.5 655.5,313.5 656.5,313.5 657.5,313.5 658.5,312.5 659.5,312.5 660.5,312.5 661.5,312.5 662.5,311.5 663.5,311.5 664.5,311.5 665.5,311.5 666.5,310.5 667.5,310.5 668.5,310.5 669.5,310.5 670.5,309.5 671.5,309.5 672.5,309.5 673.5,309.5 674.5,308.5 675.5,308.5 676.5,308.5 677.5,308.5 678.5,307.5 679.5,307.5 680.5,307.5 681.5,307.5 682.5,307.5 683.5,307.5 684.5,307.5 685.5,307.5 686.5,307.5 687.5,307.5 688.5,307.5 689.5,307.5 690.5,307.5 691.5,307.5 692.5,306.5 693.5,306.5 694.5,305.5 695.5,305.5 696.5,305.5 697.5,304.5 698.5,304.5 699.5,303.5 700.5,303.5 701.5,303.5 702.5,302.5 703.5,302.5 704.5,301.5 705.5,301.5 706.5,300.5 707.5,300.5 708.5,299.5 709.5,299.5 710.5,299.5 711.5,298.5 712.5,298.5 713.5,297.5 714.5,297.5 715.5,296.5 716.5,296.5 717.5,295.5 718.5,295.5 719.5,294.5 720.5,294.5 721.5,294.5 722.5,293.5 723.5,293.5 724.5,293.5 725.5,292.5 726.5,292.5 727.5,292.5 728.5,291.5 729.5,291.5 730.5,291.5 731.5,290.5 732.5,290.5 733.5,290.5 734.5,289.5 735.5,289.5 736.5,289.5 737.5,288.5 738.5,288.5 739.5,288.5 740.5,288.5 741.5,287.5 742.5,287.5 743.5,287.5 744.5,286.5 745.5,286.5 746.5,286.5 747.5,285.5 748.5,285.5 749.5,285.5 750.5,284.5 751.5,284.5 752.5,283.5 753.5,283.5 754.5,282.5 755.5,282.5 756.5,281.5 757.5,281.5 758.5,280.5 759.5,280.5 760.5,280.5 761.5,279.5 762.5,279.5 763.5,278.5 764.5,278.5 765.5,277.5 766.5,277.5 767.5,277.5 768.5,276.5 769.5,276.5 770.5,275.5 771.5,275.5 772.5,275.5 773.5,274.5 774.5,274.5 775.5,273.5 776.5,273.5 777.5,273.5 778.5,272.5 779.5,272.5 780.5,271.5 781.5,271.5 782.5,270.5 783.5,270.5 784.5,269.5 785.5,269.5 786.5,268.5 787.5,268.5 788.5,267.5 789.5,267.5 790.5,266.5 791.5,266.5 792.5,265.5 793.5,265.5 794.5,264.5 795.5,264.5 796.5,263.5 797.5,263.5 798.5,262.5 799.5,262.5 800.5,262.5 801.5,261.5 802.5,261.5 803.5,261.5 804.5,260.5 805.5,260.5 806.5,260.5 807.5,259.5 808.5,259.5 809.5,259.5 810.5,258.5 811.5,258.5 812.5,257.5 813.5,257.5 814.5,256.5 815.5,256.5 816.5,255.5 817.5,255.5 818.5,254.5 819.5,254.5 820.5,253.5 821.5,253.5 822.5,252.5 823.5,252.5 824.5,251.5 825.5,250.5 826.5,250.5 827.5,249.5 828.5,249.5 829.5,248.5 830.5,248.5 831.5,247.5 832.5,247.5 833.5,247.5 834.5,246.5 835.5,246.5 836.5,246.5 837.5,245.5 838.5,245.5 839.5,245.5 840.5,244.5 841.5,244.5 842.5,243.5 843.5,243.5 844.5,243.5 845.5,242.5 846.5,242.5 847.5,242.5 848.5,241.5 849.5,241.5 850.5,241.5 851.5,240.5 852.5,240.5 853.5,239.5 854.5,239.5 855.5,239.5 856.5,238.5 857.5,238.5 858.5,238.5 859.5,237.5 860.5,237.5 861.5,236.5 862.5,236.5 863.5,236.5 864.5,235.5 865.5,235.5 866.5,235.5 867.5,234.5 868.5,234.5 869.5,234.5 870.5,233.5 871.5,233.5 872.5,233.5 873.5,232.5 874.5,232.5 875.5,232.5 876.5,232.5 877.5,232.5 878.5,231.5 879.5,231.5 880.5,231.5 881.5,231.5 882.5,230.5 883.5,230.5 884.5,230.5 885.5,229.5 886.5,229.5 887.5,229.5 888.5,229.5 889.5,228.5 890.5,228.5 891.5,228.5 892.5,227.5 893.5,227.5 894.5,227.5 895.5,227.5 896.5,226.5 897.5,226.5 898.5,226.5 899.5,225.5 900.5,225.5 901.5,225.5 902.5,225.5 903.5,225.5 904.5,225.5 905.5,224.5 906.5,224.5 907.5,224.5 908.5,224.5 909.5,224.5 910.5,224.5 911.5,224.5 912.5,223.5 913.5,223.5 914.5,223.5 915.5,223.5 916.5,223.5 917.5,223.5 918.5,222.5 919.5,222.5 920.5,222.5 921.5,222.5 922.5,222.5 923.5,222.5 924.5,222.5 925.5,222.5 926.5,221.5 927.5,221.5 928.5,221.5 929.5,221.5 930.5,221.5 931.5,221.5 932.5,221.5 933.5,220.5 934.5,220.5 935.5,220.5 936.5,220.5 937.5,220.5 938.5,220.5 939.5,220.5 940.5,219.5 941.5,219.5 942.5,219.5 943.5,219.5 944.5,219.5 945.5,219.5 946.5,219.5 947.5,219.5 948.5,219.5 949.5,218.5 950.5,218.5 951.5,218.5 952.5,218.5 953.5,217.5 954.5,217.5 955.5,216.5 956.5,216.5 957.5,216.5 958.5,215.5 959.5,215.5 960.5,215.5 961.5,214.5 962.5,214.5 963.5,214.5 964.5,213.5 965.5,213.5 966.5,213.5 967.5,213.5 968.5,212.5 969.5,212.5 970.5,212.5 971.5,211.5 972.5,211.5 973.5,211.5 974.5,211.5 975.5,210.5 976.5,210.5 977.5,210.5 978.5,209.5 979.5,209.5 980.5,209.5 981.5,209.5 982.5,209.5 983.5,208.5 984.5,208.5 985.5,208.5 986.5,208.5 987.5,208.5 988.5,208.5 989.5,207.5 990.5,207.5 991.5,207.5 992.5,207.5 993.5,207.5 994.5,207.5 995.5,206.5 996.5,206.5 997.5,206.5 998.5,206.5 999.5,206.5 1000.5,206.5 1001.5,205.5 1002.5,205.5 1003.5,205.5 1004.5,205.5 1005.5,205.5 1006.5,205.5 1007.5,205.5 1008.5,204.5 1009.5,204.5 1010.5,204.5 1011.5,204.5 1012.5,204.5 1013.5,204.5 1014.5,204.5 1015.5,203.5 1016.5,203.5 1017.5,203.5 1018.5,203.5 1019.5,203.5 1020.5,203.5 1021.5,203.5 1022.5,202.5 1023.5,202.5 1024.5,202.5 1025.5,202.5 1026.5,202.5 1027.5,201.5 1028.5,201.5 1029.5,201.5 1030.5,201.5 1031.5,201.5 1032.5,200.5 1033.5,200.5 1034.5,200.5 1035.5,200.5 1036.5,200.5 1037.5,200.5 1038.5,199.5 1039.5,199.5 1040.5,199.5 1041.5,199.5 1042.5,199.5 1043.5,199.5 1044.5,198.5 1045.5,198.5 1046.5,198.5 1047.5,198.5 1048.5,198.5 1049.5,198.5 1050.5,197.5 1051.5,197.5 1052.5,197.5 1053.5,197.5 1054.5,197.5 1055.5,197.5 1056.5,197.5 1057.5,196.5 1058.5,196.5 1059.5,196.5 1060.5,196.5 1061.5,196.5 1062.5,196.5 1063.5,196.5 1064.5,196.5 1065.5,196.5 1066.5,195.5 1067.5,195.5 1068.5,195.5 1069.5,195.5 1070.5,195.5 1071.5,195.5 1072.5,195.5 1073.5,195.5 1074.5,195.5 1075.5,195.5 1076.5,195.5 1077.5,195.5 1078.5,195.5 1079.5,195.5 1080.5,195.5 1081.5,194.5 1082.5,194.5 1083.5,194.5 1084.5,194.5 1085.5,194.5 1086.5,194.5 1087.5,194.5 1088.5,194.5 1089.5,194.5 1090.5,194.5 1091.5,194.5 1092.5,194.5 1093.5,194.5 1094.5,194.5 1095.5,194.5 1096.5,194.5 1097.5,194.5 1098.5,195.5 1099.5,195.5 1100.5,195.5 1101.5,195.5 1102.5,195.5 1103.5,195.5 1104.5,195.5 1105.5,195.5 1106.5,195.5 1107.5,195.5 1108.5,195.5 1109.5,195.5 1110.5,195.5 1111.5,195.5 1112.5,195.5 1113.5,195.5 1114.5,195.5 1115.5,195.5 1116.5,195.5 1117.5,195.5 1118.5,195.5 1119.5,195.5 1120.5,195.5 1121.5,195.5 1122.5,196.5 1123.5,196.5 1124.5,196.5 1125.5,196.5 1126.5,196.5 1127.5,196.5 1128.5,195.5 1129.5,195.5 1130.5,195.5 1131.5,195.5 1132.5,195.5 1133.5,195.5 1134.5,195.5 1135.5,195.5 1136.5,195.5 1137.5,195.5 1138.5,195.5 1139.5,195.5 1140.5,195.5 1141.5,195.5 1142.5,195.5 1143.5,195.5 1144.5,195.5 1145.5,195.5 1146.5,195.5 1147.5,195.5 1148.5,195.5 1149.5,195.5 1150.5,195.5 1151.5,195.5 1152.5,195.5 1153.5,195.5 1154.5,195.5 1155.5,195.5 1156.5,195.5 1157.5,195.5 1158.5,195.5 1159.5,195.5 1160.5,195.5 1161.5,195.5 1162.5,195.5 1163.5,196.5 1164.5,196.5 1165.5,196.5 1166.5,196.5 1167.5,196.5 1168.5,196.5 1169.5,196.5 1170.5,196.5 1171.5,196.5 1172.5,196.5 1173.5,196.5 1174.5,196.5 1175.5,196.5 1176.5,196.5 1177.5,196.5 1178.5,196.5 1179.5,196.5 1180.5,196.5 1181.5,196.5 1182.5,196.5 1183.5,196.5 1184.5,196.5 1185.5,196.5 1186.5,196.5 1187.5,196.5 1188.5,196.5 1189.5,196.5 1190.5,196.5 1191.5,196.5 1192.5,196.5 1193.5,196.5" />
<polyline fill="none" stroke="#000" stroke-width="1" points="73.5,374.5 74.5,374.5 75.5,375.5 76.5,375.5 77.5,375.5 78.5,375.5 79.5,375.5 80.5,375.5 81.5,375.5 82.5,375.5 83.5,375.5 84.5,375.5 85.5,375.5 86.5,375.5 87.5,375.5 88.5,375.5 89.5,375.5 90.5,375.5 91.5,376.5 92.5,376.5 93.5,376.5 94.5,376.5 95.5,376.5 96.5,376.5 97.5,376.5 98.5,376.5 99.5,377.5 100.5,377.5 101.5,377.5 102.5,377.5 103.5,377.5 104.5,377.5 105.5,377.5 106.5,378.5 107.5,378.5 108.5,378.5 109.5,378.5 110.5,378.5 111.5,378.5 112.5,378.5 113.5,379.5 114.5,379.5 115.5,379.5 116.5,379.5 117.5,379.5 118.5,380.5 119.5,380.5 120.5,380.5 121.5,380.5 122.5,380.5 123.5,380.5 124.5,381.5 125.5,381.5 126.5,381.5 127.5,381.5 128.5,381.5 129.5,381.5 130.5,382.5 131.5,382.5 132.5,382.5 133.5,382.5 134.5,382.5 135.5,382.5 136.5,382.5 137.5,382.5 138.5,382.5 139.5,382.5 140.5,382.5 141.5,382.5 142.5,382.5 143.5,382.5 144.5,382.5 145.5,382.5 146.5,382.5 147.5,382.5 148.5,382.5 149.5,382.5 150.5,382.5 151.5,382.5 152.5,382.5 153.5,382.5 154.5,382.5 155.5,382.5 156.5,382.5 157.5,383.5 158.5,383.5 159.5,383.5 160.5,383.5 161.5,383.5 162.5,383.5 163.5,383.5 164.5,383.5 165.5,383.5 166.5,383.5 167.5,383.5 168.5,383.5 169.5,383.5 170.5,383.5 171.5,383.5 172.5,383.5 173.5,383.5 174.5,383.5 175.5,383.5 176.5,383.5 177.5,383.5 178.5,383.5 179.5,383.5 180.5,383.5 181.5,383.5 182.5,383.5 183.5,383.5 184.5,383.5 185.5,383.5 186.5,383.5 187.5,384.5 188.5,384.5 189.5,384.5 190.5,384.5 191.5,384.5 192.5,384.5 193.5,384.5 194.5,384.5 195.5,384.5 196.5,384.5 197.5,384.5 198.5,384.5 199.5,384.5 200.5,384.5 201.5,384.5 202.5,384.5 203.5,384.5 204.5,384.5 205.5,384.5 206.5,384.5 207.5,384.5 208.5,384.5 209.5,384.5 210.5,384.5 211.5,384.5 212.5,384.5 213.5,384.5 214.5,384.5 215.5,384.5 216.5,384.5 217.5,384.5 218.5,384.5 219.5,384.5 220.5,384.5 221.5,384.5 222.5,384.5 223.5,383.5 224.5,383.5 225.5,383.5 226.5,383.5 227.5,383.5 228.5,383.5 229.5,383.5 230.5,383.5 231.5,383.5 232.5,383.5 233.5,383.5 234.5,383.5 235.5,383.5 236.5,383.5 237.5,383.5 238.5,383.5 239.5,383.5 240.5,383.5 241.5,383.5 242.5,383.5 243.5,383.5 244.5,383.5 245.5,383.5 246.5,383.5 247.5,383.5 248.5,383.5 249.5,383.5 250.5,383.5 251.5,383.5 252.5,382.5 253.5,382.5 254.5,382.5 255.5,382.5 256.5,382.5 257.5,382.5 258.5,382.5 259.5,382.5 260.5,382.5 261.5,382.5 262.5,382.5 263.5,382.5 264.5,382.5 265.5,382.5 266.5,382.5 267.5,382.5 268.5,382.5 269.5,382.5 270.5,382.5 271.5,382.5 272.5,382.5 273.5,382.5 274.5,382.5 275.5,382.5 276.5,382.5 277.5,382.5 278.5,382.5 279.5,382.5 280.5,382.5 281.5,382.5 282.5,382.5 283.5,382.5 284.5,383.5 285.5,383.5 286.5,383.5 287.5,383.5 288.5,383.5 289.5,383.5 290.5,383.5 291.5,383.5 292.5,383.5 293.5,383.5 294.5,383.5 295.5,383.5 296.5,383.5 297.5,383.5 298.5,383.5 299.5,383.5 300.5,383.5 301.5,383.5 302.5,383.5 303.5,383.5 304.5,383.5 305.5,383.5 306.5,383.5 307.5,383.5 308.5,383.5 309.5,382.5 310.5,382.5 311.5,382.5 312.5,382.5 313.5,382.5 314.5,382.5 315.5,382.5 316.5,382.5 317.5,382.5 318.5,382.5 319.5,382.5 320.5,382.5 321.5,382.5 322.5,382.5 323.5,382.5 324.5,382.5 325.5,382.5 326.5,382.5 327.5,382.5 328.5,382.5 329.5,382.5 330.5,382.5 331.5,382.5 332.5,382.5 333.5,382.5 334.5,382.5 335.5,382.5 336.5,382.5 337.5,382.5 338.5,382.5 339.5,382.5 340.5,382.5 341.5,382.5 342.5,382.5 343.5,382.5 344.5,382.5 345.5,382.5 346.5,382.5 347.5,382.5 348.5,383.5 349.5,383.5 350.5,383.5 351.5,383.5 352.5,383.5 353.5,383.5 354.5,383.5 355.5,383.5 356.5,383.5 357.5,383.5 358.5,384.5 359.5,384.5 360.5,384.5 361.5,384.5 362.5,384.5 363.5,384.5 364.5,384.5 365.5,384.5 366.5,385.5 367.5,385.5 368.5,385.5 369.5,385.5 370.5,385.5 371.5,385.5 372.5,385.5 373.5,386.5 374.5,386.5 375.5,386.5 376.5,386.5 377.5,386.5 378.5,386.5 379.5,386.5 380.5,387.5 381.5,387.5 382.5,387.5 383.5,387.5 384.5,387.5 385.5,387.5 386.5,387.5 387.5,387.5 388.5,388.5 389.5,388.5 390.5,388.5 391.5,388.5 392.5,388.5 393.5,388.5 394.5,388.5 395.5,388.5 396.5,389.5 397.5,389.5 398.5,389.5 399.5,389.5 400.5,389.5 401.5,389.5 402.5,389.5 403.5,389.5 404.5,389.5 405.5,389.5 406.5,389.5 407.5,389.5 408.5,389.5 409.5,389.5 410.5,389.5 411.5,389.5 412.5,389.5 413.5,389.5 414.5,389.5 415.5,389.5 416.5,389.5 417.5,389.5 418.5,389.5 419.5,389.5 420.5,389.5 421.5,389.5 422.5,389.5 423.5,389.5 424.5,389.5 425.5,389.5 426.5,389.5 427.5,389.5 428.5,389.5 429.5,389.5 430.5,389.5 431.5,389.5 432.5,389.5 433.5,389.5 434.5,389.5 435.5,389.5 436.5,389.5 437.5,389.5 438.5,389.5 439.5,389.5 440.5,389.5 441.5,389.5 442.5,389.5 443.5,389.5 444.5,389.5 445.5,389.5 446.5,389.5 447.5,389.5 448.5,389.5 449.5,389.5 450.5,389.5 451.5,389.5 452.5,389.5 453.5,389.5 454.5,388.5 455.5,388.5 456.5,388.5 457.5,388.5 458.5,388.5 459.5,388.5 460.5,388.5 461.5,388.5 462.5,388.5 463.5,388.5 464.5,388.5 465.5,388.5 466.5,388.5 467.5,388.5 468.5,388.5 469.5,388.5 470.5,388.5 471.5,388.5 472.5,387.5 473.5,387.5 474.5,387.5 475.5,387.5 476.5,387.5 477.5,387.5 478.5,387.5 479.5,387.5 480.5,387.5 481.5,387.5 482.5,387.5 483.5,387.5 484.5,387.5 485.5,387.5 486.5,387.5 487.5,387.5 488.5,387.5 489.5,386.5 490.5,386.5 491.5,386.5 492.5,386.5 493.5,386.5 494.5,386.5 495.5,386.5 496.5,386.5 497.5,386.5 498.5,386.5 499.5,386.5 500.5,386.5 501.5,386.5 502.5,386.5 503.5,386.5 504.5,386.5 505.5,386.5 506.5,386.5 507.5,386.5 508.5,386.5 509.5,386.5 510.5,386.5 511.5,386.5 512.5,386.5 513.5,386.5 514.5,386.5 515.5,386.5 516.5,386.5 517.5,386.5 518.5,386.5 519.5,385.5 520.5,385.5 521.5,385.5 522.5,385.5 523.5,385.5 524.5,385.5 525.5,384.5 526.5,384.5 527.5,384.5 528.5,384.5 529.5,384.5 530.5,384.5 531.5,383.5 532.5,383.5 533.5,383.5 534.5,383.5 535.5,383.5 536.5,383.5 537.5,382.5 538.5,382.5 539.5,382.5 540.5,382.5 541.5,381.5 542.5,381.5 543.5,381.5 544.5,381.5 545.5,381.5 546.5,380.5 547.5,380.5 548.5,380.5 549.5,380.5 550.5,379.5 551.5,379.5 552.5,379.5 553.5,379.5 554.5,378.5 555.5,378.5 556.5,378.5 557.5,378.5 558.5,377.5 559.5,377.5 560.5,377.5 561.5,377.5 562.5,376.5 563.5,376.5 564.5,376.5 565.5,376.5 566.5,375.5 567.5,375.5 568.5,375.5 569.5,375.5 570.5,374.5 571.5,374.5 572.5,374.5 573.5,374.5 574.5,373.5 575.5,373.5 576.5,373.5 577.5,373.5 578.5,372.5 579.5,372.5 580.5,372.5 581.5,372.5 582.5,371.5 583.5,371.5 584.5,371.5 585.5,371.5 586.5,371.5 587.5,370.5 588.5,370.5 589.5,370.5 590.5,370.5 591.5,369.5 592.5,369.5 593.5,369.5 594.5,369.5 595.5,369.5 596.5,368.5 597.5,368.5 598.5,368.5 599.5,368.5 600.5,368.5 601.5,367.5 602.5,367.5 603.5,367.5 604.5,367.5 605.5,367.5 606.5,367.5 607.5,366.5 608.5,366.5 609.5,366.5 610.5,366.5 611.5,366.5 612.5,365.5 613.5,365.5 614.5,364.5 615.5,364.5 616.5,364.5 617.5,363.5 618.5,363.5 619.5,363.5 620.5,362.5 621.5,362.5 622.5,362.5 623.5,361.5 624.5,361.5 625.5,361.5 626.5,360.5 627.5,360.5 628.5,360.5 629.5,360.5 630.5,360.5 631.5,360.5 632.5,359.5 633.5,359.5 634.5,359.5 635.5,359.5 636.5,359.5 637.5,359.5 638.5,359.5 639.5,358.5 640.5,358.5 641.5,358.5 642.5,358.5 643.5,357.5 644.5,357.5 645.5,357.5 646.5,356.5 647.5,356.5 648.5,356.5 649.5,355.5 650.5,355.5 651.5,355.5 652.5,354.5 653.5,354.5 654.5,354.5 655.5,353.5 656.5,353.5 657.5,353.5 658.5,352.5 659.5,352.5 660.5,352.5 661.5,351.5 662.5,351.5 663.5,351.5 664.5,351.5 665.5,350.5 666.5,350.5 667.5,350.5 668.5,350.5 669.5,350.5 670.5,349.5 671.5,349.5 672.5,349.5 673.5,349.5 674.5,348.5 675.5,348.5 676.5,348.5 677.5,348.5 678.5,348.5 679.5,347.5 680.5,347.5 681.5,347.5 682.5,347.5 683.5,346.5 684.5,346.5 685.5,346.5 686.5,346.5 687.5,346.5 688.5,345.5 689.5,345.5 690.5,345.5 691.5,345.5 692.5,344.5 693.5,344.5 694.5,344.5 695.5,344.5 696.5,344.5 697.5,343.5 698.5,343.5 699.5,343.5 700.5,343.5 701.5,342.5 702.5,342.5 703.5,342.5 704.5,342.5 705.5,342.5 706.5,341.5 707.5,341.5 708.5,341.5 709.5,341.5 710.5,340.5 711.5,340.5 712.5,340.5 713.5,340.5 714.5,340.5 715.5,339.5 716.5,339.5 717.5,339.5 718.5,338.5 719.5,338.5 720.5,337.5 721.5,337.5 722.5,337.5 723.5,336.5 724.5,336.5 725.5,336.5 726.5,335.5 727.5,335.5 728.5,335.5 729.5,334.5 730.5,334.5 731.5,333.5 732.5,333.5 733.5,333.5 734.5,332.5 735.5,332.5 736.5,332.5 737.5,331.5 738.5,331.5 739.5,330.5 740.5,330.5 741.5,330.5 742.5,329.5 743.5,329.5 744.5,329.5 745.5,329.5 746.5,328.5 747.5,328.5 748.5,328.5 749.5,327.5 750.5,327.5 751.5,327.5 752.5,326.5 753.5,326.5 754.5,326.5 755.5,326.5 756.5,325.5 757.5,325.5 758.5,324.5 759.5,324.5 760.5,323.5 761.5,323.5 762.5,322.5 763.5,322.5 764.5,322.5 765.5,321.5 766.5,321.5 767.5,320.5 768.5,320.5 769.5,319.5 770.5,319.5 771.5,319.5 772.5,318.5 773.5,318.5 774.5,317.5 775.5,317.5 776.5,317.5 777.5,316.5 778.5,316.5 779.5,316.5 780.5,316.5 781.5,315.5 782.5,315.5 783.5,315.5 784.5,314.5 785.5,314.5 786.5,314.5 787.5,313.5 788.5,313.5 789.5,312.5 790.5,312.5 791.5,312.5 792.5,311.5 793.5,311.5 794.5,311.5 795.5,310.5 796.5,310.5 797.5,310.5 798.5,309.5 799.5,309.5 800.5,309.5 801.5,308.5 802.5,308.5 803.5,308.5 804.5,307.5 805.5,307.5 806.5,307.5 807.5,306.5 808.5,306.5 809.5,306.5 810.5,305.5 811.5,305.5 812.5,305.5 813.5,304.5 814.5,304.5 815.5,304.5 816.5,303.5 817.5,303.5 818.5,303.5 819.5,303.5 820.5,302.5 821.5,302.5 822.5,301.5 823.5,301.5 824.5,300.5 825.5,300.5 826.5,300.5 827.5,299.5 828.5,299.5 829.5,298.5 830.5,298.5 831.5,297.5 832.5,297.5 833.5,297.5 834.5,297.5 835.5,296.5 836.5,296.5 837.5,296.5 838.5,296.5 839.5,295.5 840.5,294.5 841.5,294.5 842.5,293.5 843.5,293.5 844.5,292.5 845.5,292.5 846.5,291.5 847.5,291.5 848.5,290.5 849.5,290.5 850.5,289.5 851.5,289.5 852.5,288.5 853.5,288.5 854.5,287.5 855.5,287.5 856.5,286.5 857.5,286.5 858.5,286.5 859.5,285.5 860.5,285.5 861.5,284.5 862.5,284.5 863.5,284.5 864.5,283.5 865.5,283.5 866.5,282.5 867.5,282.5 868.5,282.5 869.5,282.5 870.5,281.5 871.5,281.5 872.5,281.5 873.5,281.5 874.5,280.5 875.5,280.5 876.5,280.5 877.5,280.5 878.5,279.5 879.5,279.5 880.5,279.5 881.5,279.5 882.5,278.5 883.5,278.5 884.5,278.5 885.5,278.5 886.5,277.5 887.5,277.5 888.5,277.5 889.5,276.5 890.5,276.5 891.5,276.5 892.5,276.5 893.5,276.5 894.5,275.5 895.5,275.5 896.5,275.5 897.5,275.5 898.5,274.5 899.5,274.5 900.5,274.5 901.5,274.5 902.5,274.5 903.5,273.5 904.5,273.5 905.5,273.5 906.5,273.5 907.5,273.5 908.5,272.5 909.5,272.5 910.5,272.5 911.5,272.5 912.5,271.5 913.5,271.5 914.5,271.5 915.5,271.5 916.5,271.5 917.5,270.5 918.5,270.5 919.5,270.5 920.5,270.5 921.5,270.5 922.5,269.5 923.5,269.5 924.5,269.5 925.5,269.5 926.5,269.5 927.5,269.5 928.5,269.5 929.5,269.5 930.5,268.5 931.5,268.5 932.5,268.5 933.5,268.5 934.5,268.5 935.5,268.5 936.5,268.5 937.5,267.5 938.5,267.5 939.5,267.5 940.5,267.5 941.5,267.5 942.5,267.5 943.5,267.5 944.5,267.5 945.5,266.5 946.5,266.5 947.5,266.5 948.5,266.5 949.5,266.5 950.5,266.5 951.5,266.5 952.5,265.5 953.5,265.5 954.5,265.5 955.5,265.5 956.5,265.5 957.5,265.5 958.5,264.5 959.5,264.5 960.5,264.5 961.5,264.5 962.5,264.5 963.5,264.5 964.5,263.5 965.5,263.5 966.5,263.5 967.5,263.5 968.5,263.5 969.5,263.5 970.5,262.5 971.5,262.5 972.5,262.5 973.5,262.5 974.5,261.5 975.5,261.5 976.5,261.5 977.5,261.5 978.5,261.5 979.5,260.5 980.5,260.5 981.5,260.5 982.5,260.5 983.5,259.5 984.5,259.5 985.5,259.5 986.5,259.5 987.5,258.5 988.5,258.5 989.5,258.5 990.5,258.5 991.5,257.5 992.5,257.5 993.5,257.5 994.5,256.5 995.5,256.5 996.5,256.5 997.5,255.5 998.5,255.5 999.5,255.5 1000.5,254.5 1001.5,254.5 1002.5,254.5 1003.5,254.5 1004.5,254.5 1005.5,254.5 1006.5,253.5 1007.5,253.5 1008.5,253.5 1009.5,253.5 1010.5,253.5 1011.5,252.5 1012.5,252.5 1013.5,252.5 1014.5,251.5 1015.5,251.5 1016.5,251.5 1017.5,250.5 1018.5,250.5 1019.5,250.5 1020.5,249.5 1021.5,249.5 1022.5,249.5 1023.5,248.5 1024.5,248.5 1025.5,248.5 1026.5,248.5 1027.5,247.5 1028.5,247.5 1029.5,247.5 1030.5,247.5 1031.5,246.5 1032.5,246.5 1033.5,246.5 1034.5,245.5 1035.5,245.5 1036.5,245.5 1037.5,245.5 1038.5,244.5 1039.5,244.5 1040.5,243.5 1041.5,243.5 1042.5,243.5 1043.5,242.5 1044.5,242.5 1045.5,242.5 1046.5,241.5 1047.5,241.5 1048.5,241.5 1049.5,240.5 1050.5,240.5 1051.5,240.5 1052.5,240.5 1053.5,239.5 1054.5,239.5 1055.5,239.5 1056.5,239.5 1057.5,238.5 1058.5,238.5 1059.5,238.5 1060.5,238.5 1061.5,238.5 1062.5,237.5 1063.5,237.5 1064.5,237.5 1065.5,237.5 1066.5,236.5 1067.5,236.5 1068.5,236.5 1069.5,236.5 1070.5,236.5 1071.5,235.5 1072.5,235.5 1073.5,235.5 1074.5,235.5 1075.5,235.5 1076.5,235.5 1077.5,234.5 1078.5,234.5 1079.5,234.5 1080.5,234.5 1081.5,234.5 1082.5,234.5 1083.5,233.5 1084.5,233.5 1085.5,233.5 1086.5,233.5 1087.5,233.5 1088.5,233.5 1089.5,233.5 1090.5,232.5 1091.5,232.5 1092.5,232.5 1093.5,232.5 1094.5,232.5 1095.5,232.5 1096.5,231.5 1097.5,231.5 1098.5,231.5 1099.5,231.5 1100.5,231.5 1101.5,231.5 1102.5,230.5 1103.5,230.5 1104.5,230.5 1105.5,230.5 1106.5,230.5 1107.5,230.5 1108.5,229.5 1109.5,229.5 1110.5,229.5 1111.5,229.5 1112.5,229.5 1113.5,229.5 1114.5,228.5 1115.5,228.5 1116.5,228.5 1117.5,228.5 1118.5,228.5 1119.5,228.5 1120.5,227.5 1121.5,227.5 1122.5,227.5 1123.5,227.5 1124.5,227.5 1125.5,227.5 1126.5,226.5 1127.5,226.5 1128.5,226.5 1129.5,226.5 1130.5,226.5 1131.5,226.5 1132.5,225.5 1133.5,225.5 1134.5,225.5 1135.5,225.5 1136.5,225.5 1137.5,225.5 1138.5,225.5 1139.5,224.5 1140.5,224.5 1141.5,224.5 1142.5,224.5 1143.5,224.5 1144.5,224.5 1145.5,224.5 1146.5,223.5 1147.5,223.5 1148.5,223.5 1149.5,223.5 1150.5,223.5 1151.5,223.5 1152.5,223.5 1153.5,222.5 1154.5,222.5 1155.5,222.5 1156.5,222.5 1157.5,222.5 1158.5,222.5 1159.5,222.5 1160.5,222.5 1161.5,221.5 1162.5,221.5 1163.5,221.5 1164.5,221.5 1165.5,221.5 1166.5,221.5 1167.5,221.5 1168.5,221.5 1169.5,221.5 1170.5,220.5 1171.5,220.5 1172.5,220.5 1173.5,220.5 1174.5,220.5 1175.5,220.5 1176.5,220.5 1177.5,220.5 1178.5,220.5 1179.5,219.5 1180.5,219.5 1181.5,219.5 1182.5,219.5 1183.5,219.5 1184.5,219.5 1185.5,219.5 1186.5,219.5 1187.5,219.5 1188.5,218.5 1189.5,218.5 1190.5,218.5 1191.5,218.5 1192.5,218.5 1193.5,218.5" />
<polyline fill="none" stroke="#0000ff" stroke-width="1" points="73.5,450.5 74.5,450.5 75.5,450.5 76.5,450.5 77.5,450.5 78.5,450.5 79.5,450.5 80.5,450.5 81.5,450.5 82.5,450.5 83.5,450.5 84.5,450.5 85.5,450.5 86.5,450.5 87.5,450.5 88.5,450.5 89.5,450.5 90.5,450.5 91.5,450.5 92.5,450.5 93.5,451.5 94.5,451.5 95.5,451.5 96.5,452.5 97.5,452.5 98.5,452.5 99.5,452.5 100.5,453.5 101.5,453.5 102.5,453.5 103.5,453.5 104.5,454.5 105.5,454.5 106.5,454.5 107.5,455.5 108.5,455.5 109.5,455.5 110.5,455.5 111.5,455.5 112.5,454.5 113.5,454.5 114.5,454.5 115.5,454.5 116.5,454.5 117.5,454.5 118.5,454.5 119.5,454.5 120.5,454.5 121.5,454.5 122.5,454.5 123.5,454.5 124.5,454.5 125.5,454.5 126.5,454.5 127.5,454.5 128.5,454.5 129.5,454.5 130.5,454.5 131.5,454.5 132.5,454.5 133.5,454.5 134.5,454.5 135.5,454.5 136.5,454.5 137.5,454.5 138.5,454.5 139.5,453.5 140.5,453.5 141.5,453.5 142.5,453.5 143.5,453.5 144.5,452.5 145.5,452.5 146.5,452.5 147.5,452.5 148.5,452.5 149.5,452.5 150.5,452.5 151.5,452.5 152.5,453.5 153.5,453.5 154.5,453.5 155.5,453.5 156.5,453.5 157.5,453.5 158.5,453.5 159.5,452.5 160.5,452.5 161.5,452.5 162.5,452.5 163.5,452.5 164.5,451.5 165.5,451.5 166.5,451.5 167.5,451.5 168.5,451.5 169.5,451.5 170.5,451.5 171.5,451.5 172.5,451.5 173.5,451.5 174.5,451.5 175.5,451.5 176.5,451.5 177.5,451.5 178.5,451.5 179.5,451.5 180.5,451.5 181.5,451.5 182.5,451.5 183.5,451.5 184.5,451.5 185.5,451.5 186.5,451.5 187.5,451.5 188.5,451.5 189.5,451.5 190.5,451.5 191.5,451.5 192.5,451.5 193.5,451.5 194.5,451.5 195.5,451.5 196.5,451.5 197.5,451.5 198.5,451.5 199.5,451.5 200.5,451.5 201.5,451.5 202.5,451.5 203.5,450.5 204.5,450.5 205.5,450.5 206.5,450.5 207.5,450.5 208.5,450.5 209.5,450.5 210.5,450.5 211.5,450.5 212.5,450.5 213.5,449.5 214.5,449.5 215.5,449.5 216.5,449.5 217.5,449.5 218.5,449.5 219.5,448.5 220.5,448.5 221.5,448.5 222.5,448.5 223.5,447.5 224.5,447.5 225.5,447.5 226.5,447.5 227.5,447.5 228.5,447.5 229.5,447.5 230.5,446.5 231.5,446.5 232.5,446.5 233.5,446.5 234.5,446.5 235.5,446.5 236.5,446.5 237.5,446.5 238.5,445.5 239.5,445.5 240.5,445.5 241.5,445.5 242.5,445.5 243.5,445.5 244.5,445.5 245.5,445.5 246.5,445.5 247.5,445.5 248.5,445.5 249.5,445.5 250.5,445.5 251.5,445.5 252.5,445.5 253.5,445.5 254.5,445.5 255.5,445.5 256.5,444.5 257.5,444.5 258.5,444.5 259.5,443.5 260.5,443.5 261.5,443.5 262.5,443.5 263.5,442.5 264.5,442.5 265.5,442.5 266.5,442.5 267.5,441.5 268.5,441.5 269.5,441.5 270.5,441.5 271.5,441.5 272.5,441.5 273.5,441.5 274.5,441.5 275.5,441.5 276.5,441.5 277.5,441.5 278.5,441.5 279.5,441.5 280.5,441.5 281.5,441.5 282.5,441.5 283.5,441.5 284.5,441.5 285.5,441.5 286.5,441.5 287.5,442.5 288.5,442.5 289.5,442.5 290.5,442.5 291.5,442.5 292.5,442.5 293.5,442.5 294.5,442.5 295.5,442.5 296.5,442.5 297.5,442.5 298.5,442.5 299.5,442.5 300.5,442.5 301.5,441.5 302.5,441.5 303.5,441.5 304.5,441.5 305.5,441.5 306.5,441.5 307.5,441.5 308.5,440.5 309.5,440.5 310.5,440.5 311.5,440.5 312.5,440.5 313.5,440.5 314.5,440.5 315.5,440.5 316.5,440.5 317.5,440.5 318.5,440.5 319.5,440.5 320.5,440.5 321.5,440.5 322.5,440.5 323.5,440.5 324.5,440.5 325.5,440.5 326.5,440.5 327.5,440.5 328.5,440.5 329.5,440.5 330.5,440.5 331.5,440.5 332.5,440.5 333.5,440.5 334.5,440.5 335.5,439.5 336.5,439.5 337.5,439.5 338.5,439.5 339.5,439.5 340.5,439.5 341.5,439.5 342.5,439.5 343.5,439.5 344.5,439.5 345.5,439.5 346.5,439.5 347.5,439.5 348.5,439.5 349.5,439.5 350.5,439.5 351.5,439.5 352.5,440.5 353.5,440.5 354.5,440.5 355.5,439.5 356.5,439.5 357.5,439.5 358.5,438.5 359.5,438.5 360.5,438.5 361.5,438.5 362.5,438.5 363.5,438.5 364.5,438.5 365.5,438.5 366.5,438.5 367.5,439.5 368.5,439.5 369.5,439.5 370.5,439.5 371.5,439.5 372.5,439.5 373.5,439.5 374.5,439.5 375.5,440.5 376.5,440.5 377.5,440.5 378.5,440.5 379.5,440.5 380.5,440.5 381.5,440.5 382.5,440.5 383.5,440.5 384.5,440.5 385.5,441.5 386.5,441.5 387.5,441.5 388.5,441.5 389.5,441.5 390.5,441.5 391.5,441.5 392.5,441.5 393.5,441.5 394.5,441.5 395.5,441.5 396.5,441.5 397.5,441.5 398.5,441.5 399.5,441.5 400.5,441.5 401.5,441.5 402.5,441.5 403.5,441.5 404.5,441.5 405.5,441.5 406.5,440.5 407.5,440.5 408.5,440.5 409.5,440.5 410.5,440.5 411.5,440.5 412.5,440.5 413.5,440.5 414.5,440.5 415.5,440.5 416.5,440.5 417.5,440.5 418.5,440.5 419.5,440.5 420.5,440.5 421.5,440.5 422.5,440.5 423.5,440.5 424.5,440.5 425.5,440.5 426.5,439.5 427.5,439.5 428.5,439.5 429.5,439.5 430.5,439.5 431.5,439.5 432.5,439.5 433.5,439.5 434.5,439.5 435.5,439.5 436.5,438.5 437.5,438.5 438.5,438.5 439.5,438.5 440.5,438.5 441.5,438.5 442.5,438.5 443.5,438.5 444.5,437.5 445.5,437.5 446.5,437.5 447.5,437.5 448.5,437.5 449.5,437.5 450.5,437.5 451.5,436.5 452.5,436.5 453.5,436.5 454.5,436.5 455.5,436.5 456.5,436.5 457.5,436.5 458.5,436.5 459.5,436.5 460.5,436.5 461.5,436.5 462.5,436.5 463.5,436.5 464.5,436.5 465.5,436.5 466.5,436.5 467.5,436.5 468.5,436.5 469.5,436.5 470.5,436.5 471.5,436.5 472.5,436.5 473.5,436.5 474.5,435.5 475.5,435.5 476.5,435.5 477.5,435.5 478.5,435.5 479.5,435.5 480.5,435.5 481.5,435.5 482.5,434.5 483.5,434.5 484.5,434.5 485.5,434.5 486.5,434.5 487.5,434.5 488.5,434.5 489.5,433.5 490.5,433.5 491.5,433.5 492.5,433.5 493.5,433.5 494.5,433.5 495.5,432.5 496.5,432.5 497.5,432.5 498.5,432.5 499.5,432.5 500.5,432.5 501.5,432.5 502.5,432.5 503.5,432.5 504.5,432.5 505.5,432.5 506.5,432.5 507.5,432.5 508.5,432.5 509.5,432.5 510.5,433.5 511.5,432.5 512.5,432.5 513.5,432.5 514.5,432.5 515.5,432.5 516.5,432.5 517.5,432.5 518.5,432.5 519.5,432.5 520.5,432.5 521.5,432.5 522.5,432.5 523.5,431.5 524.5,431.5 525.5,431.5 526.5,431.5 527.5,431.5 528.5,431.5 529.5,431.5 530.5,431.5 531.5,431.5 532.5,431.5 533.5,431.5 534.5,430.5 535.5,430.5 536.5,430.5 537.5,430.5 538.5,430.5 539.5,430.5 540.5,430.5 541.5,430.5 542.5,429.5 543.5,429.5 544.5,429.5 545.5,428.5 546.5,428.5 547.5,428.5 548.5,427.5 549.5,427.5 550.5,427.5 551.5,427.5 552.5,426.5 553.5,426.5 554.5,426.5 555.5,426.5 556.5,426.5 557.5,426.5 558.5,425.5 559.5,425.5 560.5,425.5 561.5,425.5 562.5,425.5 563.5,425.5 564.5,425.5 565.5,425.5 566.5,425.5 567.5,425.5 568.5,425.5 569.5,425.5 570.5,425.5 571.5,425.5 572.5,424.5 573.5,424.5 574.5,424.5 575.5,424.5 576.5,424.5 577.5,424.5 578.5,424.5 579.5,424.5 580.5,424.5 581.5,423.5 582.5,423.5 583.5,423.5 584.5,423.5 585.5,423.5 586.5,423.5 587.5,423.5 588.5,422.5 589.5,422.5 590.5,422.5 591.5,422.5 592.5,422.5 593.5,422.5 594.5,422.5 595.5,421.5 596.5,421.5 597.5,421.5 598.5,421.5 599.5,421.5 600.5,421.5 601.5,421.5 602.5,420.5 603.5,420.5 604.5,420.5 605.5,420.5 606.5,420.5 607.5,419.5 608.5,419.5 609.5,418.5 610.5,418.5 611.5,418.5 612.5,417.5 613.5,417.5 614.5,417.5 615.5,416.5 616.5,416.5 617.5,416.5 618.5,416.5 619.5,416.5 620.5,415.5 621.5,415.5 622.5,415.5 623.5,415.5 624.5,415.5 625.5,414.5 626.5,414.5 627.5,414.5 628.5,414.5 629.5,414.5 630.5,413.5 631.5,413.5 632.5,413.5 633.5,413.5 634.5,413.5 635.5,412.5 636.5,412.5 637.5,411.5 638.5,411.5 639.5,410.5 640.5,410.5 641.5,410.5 642.5,409.5 643.5,409.5 644.5,409.5 645.5,409.5 646.5,409.5 647.5,409.5 648.5,408.5 649.5,408.5 650.5,408.5 651.5,408.5 652.5,408.5 653.5,407.5 654.5,407.5 655.5,407.5 656.5,407.5 657.5,407.5 658.5,407.5 659.5,406.5 660.5,406.5 661.5,406.5 662.5,406.5 663.5,406.5 664.5,405.5 665.5,405.5 666.5,405.5 667.5,405.5 668.5,405.5 669.5,405.5 670.5,404.5 671.5,404.5 672.5,404.5 673.5,404.5 674.5,404.5 675.5,404.5 676.5,403.5 677.5,403.5 678.5,403.5 679.5,403.5 680.5,403.5 681.5,402.5 682.5,402.5 683.5,401.5 684.5,401.5 685.5,401.5 686.5,400.5 687.5,400.5 688.5,399.5 689.5,399.5 690.5,399.5 691.5,399.5 692.5,398.5 693.5,398.5 694.5,398.5 695.5,398.5 696.5,398.5 697.5,398.5 698.5,397.5 699.5,397.5 700.5,397.5 701.5,397.5 702.5,397.5 703.5,396.5 704.5,396.5 705.5,396.5 706.5,396.5 707.5,396.5 708.5,396.5 709.5,395.5 710.5,395.5 711.5,395.5 712.5,395.5 713.5,395.5 714.5,395.5 715.5,394.5 716.5,394.5 717.5,394.5 718.5,394.5 719.5,394.5 720.5,394.5 721.5,393.5 722.5,393.5 723.5,393.5 724.5,393.5 725.5,392.5 726.5,392.5 727.5,392.5 728.5,391.5 729.5,391.5 730.5,391.5 731.5,391.5 732.5,390.5 733.5,390.5 734.5,390.5 735.5,390.5 736.5,389.5 737.5,389.5 738.5,389.5 739.5,388.5 740.5,388.5 741.5,388.5 742.5,388.5 743.5,387.5 744.5,387.5 745.5,387.5 746.5,386.5 747.5,386.5 748.5,385.5 749.5,385.5 750.5,384.5 751.5,384.5 752.5,383.5 753.5,383.5 754.5,382.5 755.5,382.5 756.5,382.5 757.5,381.5 758.5,381.5 759.5,381.5 760.5,381.5 761.5,381.5 762.5,380.5 763.5,380.5 764.5,380.5 765.5,380.5 766.5,380.5 767.5,379.5 768.5,379.5 769.5,379.5 770.5,379.5 771.5,379.5 772.5,378.5 773.5,378.5 774.5,378.5 775.5,378.5 776.5,378.5 777.5,377.5 778.5,377.5 779.5,377.5 780.5,377.5 781.5,377.5 782.5,376.5 783.5,376.5 784.5,376.5 785.5,375.5 786.5,375.5 787.5,375.5 788.5,375.5 789.5,374.5 790.5,374.5 791.5,374.5 792.5,373.5 793.5,373.5 794.5,373.5 795.5,373.5 796.5,372.5 797.5,372.5 798.5,372.5 799.5,372.5 800.5,371.5 801.5,371.5 802.5,371.5 803.5,371.5 804.5,370.5 805.5,370.5 806.5,370.5 807.5,369.5 808.5,369.5 809.5,369.5 810.5,369.5 811.5,368.5 812.5,368.5 813.5,368.5 814.5,368.5 815.5,367.5 816.5,367.5 817.5,367.5 818.5,367.5 819.5,367.5 820.5,367.5 821.5,367.5 822.5,367.5 823.5,366.5 824.5,366.5 825.5,366.5 826.5,366.5 827.5,366.5 828.5,366.5 829.5,365.5 830.5,365.5 831.5,364.5 832.5,364.5 833.5,363.5 834.5,363.5 835.5,362.5 836.5,362.5 837.5,361.5 838.5,361.5 839.5,360.5 840.5,360.5 841.5,359.5 842.5,359.5 843.5,358.5 844.5,358.5 845.5,357.5 846.5,357.5 847.5,356.5 848.5,356.5 849.5,355.5 850.5,355.5 851.5,355.5 852.5,354.5 853.5,354.5 854.5,354.5 855.5,353.5 856.5,353.5 857.5,352.5 858.5,352.5 859.5,352.5 860.5,351.5 861.5,351.5 862.5,351.5 863.5,350.5 864.5,350.5 865.5,350.5 866.5,349.5 867.5,349.5 868.5,348.5 869.5,348.5 870.5,348.5 871.5,347.5 872.5,347.5 873.5,347.5 874.5,346.5 875.5,346.5 876.5,346.5 877.5,345.5 878.5,345.5 879.5,345.5 880.5,345.5 881.5,344.5 882.5,344.5 883.5,344.5 884.5,344.5 885.5,344.5 886.5,344.5 887.5,344.5 888.5,343.5 889.5,343.5 890.5,343.5 891.5,343.5 892.5,343.5 893.5,343.5 894.5,343.5 895.5,342.5 896.5,342.5 897.5,342.5 898.5,342.5 899.5,342.5 900.5,342.5 901.5,342.5 902.5,341.5 903.5,341.5 904.5,341.5 905.5,341.5 906.5,341.5 907.5,341.5 908.5,340.5 909.5,340.5 910.5,339.5 911.5,339.5 912.5,338.5 913.5,338.5 914.5,338.5 915.5,338.5 916.5,337.5 917.5,337.5 918.5,337.5 919.5,337.5 920.5,337.5 921.5,337.5 922.5,336.5 923.5,336.5 924.5,336.5 925.5,336.5 926.5,336.5 927.5,336.5 928.5,335.5 929.5,335.5 930.5,335.5 931.5,335.5 932.5,335.5 933.5,335.5 934.5,334.5 935.5,334.5 936.5,334.5 937.5,334.5 938.5,334.5 939.5,333.5 940.5,333.5 941.5,333.5 942.5,333.5 943.5,333.5 944.5,333.5 945.5,332.5 946.5,332.5 947.5,332.5 948.5,332.5 949.5,332.5 950.5,332.5 951.5,333.5 952.5,333.5 953.5,333.5 954.5,333.5 955.5,333.5 956.5,333.5 957.5,333.5 958.5,332.5 959.5,332.5 960.5,332.5 961.5,332.5 962.5,332.5 963.5,332.5 964.5,332.5 965.5,332.5 966.5,331.5 967.5,331.5 968.5,331.5 969.5,331.5 970.5,331.5 971.5,331.5 972.5,331.5 973.5,330.5 974.5,330.5 975.5,330.5 976.5,330.5 977.5,330.5 978.5,330.5 979.5,330.5 980.5,330.5 981.5,329.5 982.5,329.5 983.5,328.5 984.5,328.5 985.5,328.5 986.5,327.5 987.5,327.5 988.5,326.5 989.5,326.5 990.5,326.5 991.5,325.5 992.5,325.5 993.5,324.5 994.5,324.5 995.5,324.5 996.5,323.5 997.5,323.5 998.5,323.5 999.5,322.5 1000.5,322.5 1001.5,321.5 1002.5,321.5 1003.5,321.5 1004.5,320.5 1005.5,320.5 1006.5,319.5 1007.5,319.5 1008.5,318.5 1009.5,318.5 1010.5,318.5 1011.5,317.5 1012.5,317.5 1013.5,316.5 1014.5,316.5 1015.5,315.5 1016.5,315.5 1017.5,314.5 1018.5,314.5 1019.5,313.5 1020.5,313.5 1021.5,312.5 1022.5,312.5 1023.5,311.5 1024.5,311.5 1025.5,310.5 1026.5,310.5 1027.5,309.5 1028.5,309.5 1029.5,308.5 1030.5,308.5 1031.5,307.5 1032.5,307.5 1033.5,306.5 1034.5,306.5 1035.5,305.5 1036.5,305.5 1037.5,304.5 1038.5,304.5 1039.5,303.5 1040.5,303.5 1041.5,302.5 1042.5,302.5 1043.5,301.5 1044.5,301.5 1045.5,300.5 1046.5,300.5 1047.5,299.5 1048.5,299.5 1049.5,298.5 1050.5,298.5 1051.5,298.5 1052.5,297.5 1053.5,297.5 1054.5,296.5 1055.5,296.5 1056.5,295.5 1057.5,295.5 1058.5,295.5 1059.5,294.5 1060.5,294.5 1061.5,293.5 1062.5,293.5 1063.5,292.5 1064.5,292.5 1065.5,292.5 1066.5,291.5 1067.5,291.5 1068.5,291.5 1069.5,290.5 1070.5,290.5 1071.5,290.5 1072.5,290.5 1073.5,289.5 1074.5,289.5 1075.5,289.5 1076.5,288.5 1077.5,288.5 1078.5,288.5 1079.5,288.5 1080.5,287.5 1081.5,287.5 1082.5,287.5 1083.5,287.5 1084.5,286.5 1085.5,286.5 1086.5,286.5 1087.5,286.5 1088.5,285.5 1089.5,285.5 1090.5,285.5 1091.5,285.5 1092.5,284.5 1093.5,284.5 1094.5,284.5 1095.5,284.5 1096.5,283.5 1097.5,283.5 1098.5,282.5 1099.5,282.5 1100.5,281.5 1101.5,281.5 1102.5,280.5 1103.5,280.5 1104.5,279.5 1105.5,279.5 1106.5,278.5 1107.5,278.5 1108.5,278.5 1109.5,277.5 1110.5,277.5 1111.5,276.5 1112.5,276.5 1113.5,275.5 1114.5,275.5 1115.5,275.5 1116.5,274.5 1117.5,274.5 1118.5,273.5 1119.5,273.5 1120.5,273.5 1121.5,272.5 1122.5,272.5 1123.5,271.5 1124.5,271.5 1125.5,270.5 1126.5,270.5 1127.5,270.5 1128.5,269.5 1129.5,269.5 1130.5,268.5 1131.5,268.5 1132.5,268.5 1133.5,267.5 1134.5,267.5 1135.5,267.5 1136.5,266.5 1137.5,266.5 1138.5,266.5 1139.5,265.5 1140.5,265.5 1141.5,264.5 1142.5,264.5 1143.5,264.5 1144.5,263.5 1145.5,263.5 1146.5,263.5 1147.5,262.5 1148.5,262.5 1149.5,262.5 1150.5,261.5 1151.5,261.5 1152.5,261.5 1153.5,260.5 1154.5,260.5 1155.5,260.5 1156.5,259.5 1157.5,259.5 1158.5,258.5 1159.5,258.5 1160.5,257.5 1161.5,257.5 1162.5,256.5 1163.5,256.5 1164.5,255.5 1165.5,255.5 1166.5,254.5 1167.5,254.5 1168.5,254.5 1169.5,253.5 1170.5,253.5 1171.5,253.5 1172.5,252.5 1173.5,252.5 1174.5,252.5 1175.5,252.5 1176.5,251.5 1177.5,251.5 1178.5,251.5 1179.5,251.5 1180.5,250.5 1181.5,250.5 1182.5,250.5 1183.5,250.5 1184.5,250.5 1185.5,249.5 1186.5,249.5 1187.5,249.5 1188.5,249.5 1189.5,249.5 1190.5,248.5 1191.5,248.5 1192.5,248.5 1193.5,248.5" />
<polyline fill="none" stroke="#ff0000" stroke-width="1" points="73.5,518.5 74.5,518.5 75.5,518.5 76.5,518.5 77.5,518.5 78.5,518.5 79.5,519.5 80.5,519.5 81.5,519.5 82.5,518.5 83.5,518.5 84.5,518.5 85.5,518.5 86.5,518.5 87.5,518.5 88.5,518.5 89.5,518.5 90.5,519.5 91.5,519.5 92.5,519.5 93.5,520.5 94.5,520.5 95.5,520.5 96.5,521.5 97.5,521.5 98.5,522.5 99.5,522.5 100.5,523.5 101.5,523.5 102.5,524.5 103.5,525.5 104.5,526.5 105.5,527.5 106.5,526.5 107.5,525.5 108.5,524.5 109.5,524.5 110.5,523.5 111.5,523.5 112.5,523.5 113.5,522.5 114.5,522.5 115.5,522.5 116.5,522.5 117.5,522.5 118.5,522.5 119.5,521.5 120.5,521.5 121.5,521.5 122.5,521.5 123.5,521.5 124.5,521.5 125.5,521.5 126.5,521.5 127.5,521.5 128.5,521.5 129.5,520.5 130.5,520.5 131.5,520.5 132.5,520.5 133.5,519.5 134.5,519.5 135.5,519.5 136.5,518.5 137.5,518.5 138.5,518.5 139.5,517.5 140.5,517.5 141.5,517.5 142.5,517.5 143.5,516.5 144.5,516.5 145.5,516.5 146.5,516.5 147.5,515.5 148.5,515.5 149.5,515.5 150.5,515.5 151.5,515.5 152.5,515.5 153.5,515.5 154.5,515.5 155.5,516.5 156.5,516.5 157.5,516.5 158.5,516.5 159.5,515.5 160.5,515.5 161.5,515.5 162.5,514.5 163.5,514.5 164.5,514.5 165.5,514.5 166.5,513.5 167.5,513.5 168.5,513.5 169.5,512.5 170.5,512.5 171.5,512.5 172.5,512.5 173.5,512.5 174.5,512.5 175.5,513.5 176.5,513.5 177.5,513.5 178.5,513.5 179.5,513.5 180.5,513.5 181.5,512.5 182.5,512.5 183.5,512.5 184.5,512.5 185.5,512.5 186.5,512.5 187.5,512.5 188.5,512.5 189.5,512.5 190.5,512.5 191.5,512.5 192.5,512.5 193.5,512.5 194.5,512.5 195.5,512.5 196.5,512.5 197.5,512.5 198.5,511.5 199.5,511.5 200.5,511.5 201.5,511.5 202.5,511.5 203.5,511.5 204.5,511.5 205.5,511.5 206.5,511.5 207.5,511.5 208.5,510.5 209.5,510.5 210.5,510.5 211.5,510.5 212.5,510.5 213.5,510.5 214.5,510.5 215.5,510.5 216.5,509.5 217.5,509.5 218.5,508.5 219.5,508.5 220.5,507.5 221.5,507.5 222.5,507.5 223.5,506.5 224.5,506.5 225.5,506.5 226.5,506.5 227.5,505.5 228.5,505.5 229.5,505.5 230.5,505.5 231.5,504.5 232.5,504.5 233.5,504.5 234.5,504.5 235.5,503.5 236.5,503.5 237.5,503.5 238.5,503.5 239.5,503.5 240.5,502.5 241.5,502.5 242.5,502.5 243.5,502.5 244.5,502.5 245.5,502.5 246.5,502.5 247.5,502.5 248.5,502.5 249.5,502.5 250.5,502.5 251.5,502.5 252.5,502.5 253.5,502.5 254.5,502.5 255.5,502.5 256.5,501.5 257.5,500.5 258.5,500.5 259.5,499.5 260.5,499.5 261.5,498.5 262.5,498.5 263.5,497.5 264.5,497.5 265.5,496.5 266.5,496.5 267.5,495.5 268.5,495.5 269.5,495.5 270.5,495.5 271.5,495.5 272.5,495.5 273.5,495.5 274.5,495.5 275.5,495.5 276.5,495.5 277.5,495.5 278.5,495.5 279.5,495.5 280.5,495.5 281.5,495.5 282.5,495.5 283.5,495.5 284.5,495.5 285.5,495.5 286.5,495.5 287.5,495.5 288.5,495.5 289.5,495.5 290.5,495.5 291.5,495.5 292.5,495.5 293.5,495.5 294.5,495.5 295.5,495.5 296.5,495.5 297.5,495.5 298.5,495.5 299.5,495.5 300.5,495.5 301.5,494.5 302.5,494.5 303.5,494.5 304.5,494.5 305.5,494.5 306.5,493.5 307.5,493.5 308.5,493.5 309.5,493.5 310.5,493.5 311.5,492.5 312.5,492.5 313.5,492.5 314.5,492.5 315.5,492.5 316.5,492.5 317.5,492.5 318.5,492.5 319.5,492.5 320.5,492.5 321.5,492.5 322.5,492.5 323.5,492.5 324.5,492.5 325.5,492.5 326.5,492.5 327.5,491.5 328.5,491.5 329.5,491.5 330.5,491.5 331.5,491.5 332.5,491.5 333.5,491.5 334.5,491.5 335.5,490.5 336.5,490.5 337.5,490.5 338.5,490.5 339.5,490.5 340.5,490.5 341.5,489.5 342.5,489.5 343.5,489.5 344.5,489.5 345.5,489.5 346.5,489.5 347.5,489.5 348.5,489.5 349.5,490.5 350.5,490.5 351.5,490.5 352.5,490.5 353.5,491.5 354.5,490.5 355.5,490.5 356.5,489.5 357.5,489.5 358.5,489.5 359.5,488.5 360.5,488.5 361.5,488.5 362.5,488.5 363.5,488.5 364.5,488.5 365.5,488.5 366.5,488.5 367.5,488.5 368.5,488.5 369.5,488.5 370.5,488.5 371.5,488.5 372.5,488.5 373.5,488.5 374.5,488.5 375.5,488.5 376.5,488.5 377.5,488.5 378.5,488.5 379.5,488.5 380.5,488.5 381.5,488.5 382.5,488.5 383.5,488.5 384.5,489.5 385.5,489.5 386.5,489.5 387.5,489.5 388.5,489.5 389.5,489.5 390.5,489.5 391.5,489.5 392.5,489.5 393.5,489.5 394.5,489.5 395.5,489.5 396.5,488.5 397.5,488.5 398.5,488.5 399.5,488.5 400.5,488.5 401.5,488.5 402.5,488.5 403.5,488.5 404.5,488.5 405.5,488.5 406.5,488.5 407.5,488.5 408.5,488.5 409.5,487.5 410.5,487.5 411.5,487.5 412.5,487.5 413.5,487.5 414.5,486.5 415.5,486.5 416.5,486.5 417.5,486.5 418.5,486.5 419.5,485.5 420.5,485.5 421.5,485.5 422.5,485.5 423.5,485.5 424.5,485.5 425.5,485.5 426.5,485.5 427.5,484.5 428.5,484.5 429.5,484.5 430.5,484.5 431.5,484.5 432.5,484.5 433.5,484.5 434.5,484.5 435.5,484.5 436.5,484.5 437.5,483.5 438.5,483.5 439.5,483.5 440.5,483.5 441.5,483.5 442.5,483.5 443.5,483.5 444.5,482.5 445.5,482.5 446.5,482.5 447.5,482.5 448.5,482.5 449.5,481.5 450.5,481.5 451.5,481.5 452.5,481.5 453.5,481.5 454.5,481.5 455.5,481.5 456.5,481.5 457.5,481.5 458.5,481.5 459.5,481.5 460.5,481.5 461.5,481.5 462.5,481.5 463.5,480.5 464.5,480.5 465.5,480.5 466.5,480.5 467.5,480.5 468.5,480.5 469.5,480.5 470.5,480.5 471.5,480.5 472.5,480.5 473.5,479.5 474.5,479.5 475.5,479.5 476.5,479.5 477.5,479.5 478.5,478.5 479.5,478.5 480.5,478.5 481.5,478.5 482.5,478.5 483.5,477.5 484.5,477.5 485.5,477.5 486.5,477.5 487.5,477.5 488.5,477.5 489.5,477.5 490.5,477.5 491.5,476.5 492.5,476.5 493.5,476.5 494.5,476.5 495.5,476.5 496.5,476.5 497.5,475.5 498.5,475.5 499.5,474.5 500.5,474.5 501.5,474.5 502.5,474.5 503.5,474.5 504.5,474.5 505.5,474.5 506.5,474.5 507.5,474.5 508.5,474.5 509.5,474.5 510.5,475.5 511.5,474.5 512.5,474.5 513.5,474.5 514.5,474.5 515.5,474.5 516.5,474.5 517.5,474.5 518.5,474.5 519.5,474.5 520.5,474.5 521.5,474.5 522.5,474.5 523.5,474.5 524.5,474.5 525.5,474.5 526.5,474.5 527.5,474.5 528.5,474.5 529.5,474.5 530.5,474.5 531.5,474.5 532.5,474.5 533.5,474.5 534.5,474.5 535.5,474.5 536.5,475.5 537.5,475.5 538.5,475.5 539.5,475.5 540.5,475.5 541.5,474.5 542.5,474.5 543.5,473.5 544.5,473.5 545.5,473.5 546.5,472.5 547.5,472.5 548.5,471.5 549.5,471.5 550.5,471.5 551.5,470.5 552.5,470.5 553.5,470.5 554.5,470.5 555.5,470.5 556.5,469.5 557.5,469.5 558.5,469.5 559.5,469.5 560.5,469.5 561.5,469.5 562.5,469.5 563.5,469.5 564.5,469.5 565.5,469.5 566.5,469.5 567.5,469.5 568.5,469.5 569.5,469.5 570.5,469.5 571.5,469.5 572.5,469.5 573.5,469.5 574.5,469.5 575.5,469.5 576.5,469.5 577.5,469.5 578.5,469.5 579.5,469.5 580.5,469.5 581.5,469.5 582.5,469.5 583.5,469.5 584.5,469.5 585.5,469.5 586.5,468.5 587.5,468.5 588.5,468.5 589.5,468.5 590.5,468.5 591.5,468.5 592.5,468.5 593.5,468.5 594.5,468.5 595.5,468.5 596.5,468.5 597.5,468.5 598.5,468.5 599.5,468.5 600.5,468.5 601.5,468.5 602.5,468.5 603.5,468.5 604.5,468.5 605.5,468.5 606.5,467.5 607.5,467.5 608.5,466.5 609.5,466.5 610.5,465.5 611.5,465.5 612.5,465.5 613.5,464.5 614.5,464.5 615.5,464.5 616.5,464.5 617.5,464.5 618.5,464.5 619.5,463.5 620.5,463.5 621.5,463.5 622.5,463.5 623.5,463.5 624.5,462.5 625.5,462.5 626.5,462.5 627.5,462.5 628.5,462.5 629.5,462.5 630.5,461.5 631.5,461.5 632.5,461.5 633.5,461.5 634.5,461.5 635.5,461.5 636.5,460.5 637.5,460.5 638.5,459.5 639.5,459.5 640.5,458.5 641.5,458.5 642.5,458.5 643.5,458.5 644.5,457.5 645.5,457.5 646.5,457.5 647.5,457.5 648.5,457.5 649.5,456.5 650.5,456.5 651.5,456.5 652.5,456.5 653.5,456.5 654.5,455.5 655.5,455.5 656.5,455.5 657.5,455.5 658.5,455.5 659.5,455.5 660.5,454.5 661.5,454.5 662.5,454.5 663.5,454.5 664.5,454.5 665.5,453.5 666.5,453.5 667.5,453.5 668.5,453.5 669.5,453.5 670.5,453.5 671.5,453.5 672.5,453.5 673.5,453.5 674.5,453.5 675.5,452.5 676.5,452.5 677.5,452.5 678.5,452.5 679.5,452.5 680.5,452.5 681.5,452.5 682.5,452.5 683.5,452.5 684.5,451.5 685.5,450.5 686.5,450.5 687.5,449.5 688.5,448.5 689.5,447.5 690.5,447.5 691.5,447.5 692.5,446.5 693.5,446.5 694.5,446.5 695.5,446.5 696.5,446.5 697.5,446.5 698.5,446.5 699.5,446.5 700.5,446.5 701.5,446.5 702.5,446.5 703.5,446.5 704.5,446.5 705.5,446.5 706.5,446.5 707.5,446.5 708.5,445.5 709.5,445.5 710.5,445.5 711.5,445.5 712.5,445.5 713.5,445.5 714.5,445.5 715.5,445.5 716.5,445.5 717.5,445.5 718.5,445.5 719.5,445.5 720.5,444.5 721.5,444.5 722.5,444.5 723.5,443.5 724.5,443.5 725.5,443.5 726.5,442.5 727.5,442.5 728.5,442.5 729.5,442.5 730.5,441.5 731.5,441.5 732.5,441.5 733.5,440.5 734.5,440.5 735.5,440.5 736.5,440.5 737.5,439.5 738.5,439.5 739.5,439.5 740.5,438.5 741.5,438.5 742.5,438.5 743.5,438.5 744.5,437.5 745.5,437.5 746.5,437.5 747.5,436.5 748.5,436.5 749.5,435.5 750.5,435.5 751.5,434.5 752.5,434.5 753.5,434.5 754.5,434.5 755.5,434.5 756.5,434.5 757.5,434.5 758.5,434.5 759.5,434.5 760.5,434.5 761.5,433.5 762.5,433.5 763.5,433.5 764.5,433.5 765.5,433.5 766.5,433.5 767.5,433.5 768.5,432.5 769.5,432.5 770.5,432.5 771.5,432.5 772.5,431.5 773.5,431.5 774.5,431.5 775.5,431.5 776.5,432.5 777.5,432.5 778.5,432.5 779.5,432.5 780.5,432.5 781.5,431.5 782.5,431.5 783.5,431.5 784.5,431.5 785.5,431.5 786.5,431.5 787.5,430.5 788.5,430.5 789.5,430.5 790.5,430.5 791.5,429.5 792.5,429.5 793.5,429.5 794.5,429.5 795.5,428.5 796.5,428.5 797.5,428.5 798.5,427.5 799.5,427.5 800.5,427.5 801.5,427.5 802.5,426.5 803.5,426.5 804.5,426.5 805.5,426.5 806.5,426.5 807.5,426.5 808.5,426.5 809.5,425.5 810.5,425.5 811.5,425.5 812.5,425.5 813.5,425.5 814.5,425.5 815.5,425.5 816.5,425.5 817.5,425.5 818.5,425.5 819.5,425.5 820.5,426.5 821.5,426.5 822.5,426.5 823.5,426.5 824.5,426.5 825.5,425.5 826.5,425.5 827.5,425.5 828.5,424.5 829.5,424.5 830.5,424.5 831.5,424.5 832.5,423.5 833.5,423.5 834.5,423.5 835.5,423.5 836.5,422.5 837.5,422.5 838.5,421.5 839.5,421.5 840.5,420.5 841.5,419.5 842.5,419.5 843.5,418.5 844.5,418.5 845.5,417.5 846.5,417.5 847.5,416.5 848.5,416.5 849.5,415.5 850.5,415.5 851.5,414.5 852.5,414.5 853.5,414.5 854.5,414.5 855.5,413.5 856.5,413.5 857.5,413.5 858.5,412.5 859.5,412.5 860.5,412.5 861.5,411.5 862.5,411.5 863.5,411.5 864.5,410.5 865.5,410.5 866.5,410.5 867.5,409.5 868.5,409.5 869.5,409.5 870.5,408.5 871.5,408.5 872.5,407.5 873.5,407.5 874.5,406.5 875.5,406.5 876.5,405.5 877.5,405.5 878.5,404.5 879.5,404.5 880.5,403.5 881.5,403.5 882.5,403.5 883.5,403.5 884.5,403.5 885.5,403.5 886.5,403.5 887.5,403.5 888.5,403.5 889.5,403.5 890.5,403.5 891.5,403.5 892.5,403.5 893.5,403.5 894.5,403.5 895.5,403.5 896.5,402.5 897.5,402.5 898.5,402.5 899.5,402.5 900.5,402.5 901.5,402.5 902.5,402.5 903.5,402.5 904.5,402.5 905.5,402.5 906.5,402.5 907.5,401.5 908.5,401.5 909.5,400.5 910.5,400.5 911.5,399.5 912.5,399.5 913.5,399.5 914.5,398.5 915.5,398.5 916.5,397.5 917.5,397.5 918.5,397.5 919.5,397.5 920.5,397.5 921.5,396.5 922.5,396.5 923.5,396.5 924.5,396.5 925.5,396.5 926.5,395.5 927.5,395.5 928.5,395.5 929.5,395.5 930.5,395.5 931.5,394.5 932.5,394.5 933.5,394.5 934.5,394.5 935.5,394.5 936.5,393.5 937.5,393.5 938.5,393.5 939.5,393.5 940.5,393.5 941.5,392.5 942.5,392.5 943.5,392.5 944.5,392.5 945.5,392.5 946.5,391.5 947.5,391.5 948.5,391.5 949.5,391.5 950.5,392.5 951.5,392.5 952.5,392.5 953.5,393.5 954.5,393.5 955.5,393.5 956.5,393.5 957.5,393.5 958.5,393.5 959.5,393.5 960.5,393.5 961.5,393.5 962.5,393.5 963.5,393.5 964.5,393.5 965.5,393.5 966.5,393.5 967.5,393.5 968.5,392.5 969.5,392.5 970.5,392.5 971.5,392.5 972.5,392.5 973.5,392.5 974.5,392.5 975.5,392.5 976.5,392.5 977.5,392.5 978.5,392.5 979.5,391.5 980.5,391.5 981.5,391.5 982.5,391.5 983.5,390.5 984.5,390.5 985.5,390.5 986.5,389.5 987.5,389.5 988.5,388.5 989.5,388.5 990.5,387.5 991.5,387.5 992.5,386.5 993.5,386.5 994.5,386.5 995.5,385.5 996.5,385.5 997.5,384.5 998.5,384.5 999.5,383.5 1000.5,383.5 1001.5,382.5 1002.5,381.5 1003.5,381.5 1004.5,380.5 1005.5,379.5 1006.5,379.5 1007.5,378.5 1008.5,378.5 1009.5,377.5 1010.5,376.5 1011.5,376.5 1012.5,375.5 1013.5,374.5 1014.5,374.5 1015.5,373.5 1016.5,372.5 1017.5,372.5 1018.5,371.5 1019.5,370.5 1020.5,370.5 1021.5,369.5 1022.5,369.5 1023.5,368.5 1024.5,367.5 1025.5,367.5 1026.5,366.5 1027.5,366.5 1028.5,365.5 1029.5,365.5 1030.5,364.5 1031.5,363.5 1032.5,363.5 1033.5,362.5 1034.5,362.5 1035.5,361.5 1036.5,360.5 1037.5,360.5 1038.5,359.5 1039.5,358.5 1040.5,357.5 1041.5,357.5 1042.5,356.5 1043.5,355.5 1044.5,354.5 1045.5,354.5 1046.5,353.5 1047.5,353.5 1048.5,352.5 1049.5,352.5 1050.5,351.5 1051.5,351.5 1052.5,350.5 1053.5,350.5 1054.5,349.5 1055.5,349.5 1056.5,348.5 1057.5,347.5 1058.5,347.5 1059.5,346.5 1060.5,345.5 1061.5,344.5 1062.5,343.5 1063.5,343.5 1064.5,342.5 1065.5,341.5 1066.5,341.5 1067.5,340.5 1068.5,340.5 1069.5,339.5 1070.5,339.5 1071.5,338.5 1072.5,338.5 1073.5,337.5 1074.5,337.5 1075.5,336.5 1076.5,336.5 1077.5,335.5 1078.5,335.5 1079.5,334.5 1080.5,334.5 1081.5,333.5 1082.5,333.5 1083.5,333.5 1084.5,333.5 1085.5,332.5 1086.5,332.5 1087.5,332.5 1088.5,332.5 1089.5,331.5 1090.5,331.5 1091.5,331.5 1092.5,330.5 1093.5,330.5 1094.5,329.5 1095.5,329.5 1096.5,328.5 1097.5,328.5 1098.5,327.5 1099.5,326.5 1100.5,326.5 1101.5,325.5 1102.5,324.5 1103.5,324.5 1104.5,323.5 1105.5,322.5 1106.5,322.5 1107.5,321.5 1108.5,321.5 1109.5,320.5 1110.5,320.5 1111.5,319.5 1112.5,319.5 1113.5,318.5 1114.5,318.5 1115.5,317.5 1116.5,316.5 1117.5,315.5 1118.5,315.5 1119.5,314.5 1120.5,313.5 1121.5,312.5 1122.5,312.5 1123.5,311.5 1124.5,310.5 1125.5,309.5 1126.5,309.5 1127.5,309.5 1128.5,308.5 1129.5,308.5 1130.5,307.5 1131.5,307.5 1132.5,306.5 1133.5,306.5 1134.5,305.5 1135.5,305.5 1136.5,304.5 1137.5,304.5 1138.5,304.5 1139.5,303.5 1140.5,303.5 1141.5,302.5 1142.5,302.5 1143.5,301.5 1144.5,301.5 1145.5,300.5 1146.5,299.5 1147.5,298.5 1148.5,297.5 1149.5,297.5 1150.5,296.5 1151.5,295.5 1152.5,295.5 1153.5,294.5 1154.5,294.5 1155.5,293.5 1156.5,293.5 1157.5,292.5 1158.5,292.5 1159.5,291.5 1160.5,290.5 1161.5,289.5 1162.5,288.5 1163.5,288.5 1164.5,287.5 1165.5,286.5 1166.5,285.5 1167.5,284.5 1168.5,284.5 1169.5,283.5 1170.5,283.5 1171.5,282.5 1172.5,282.5 1173.5,281.5 1174.5,281.5 1175.5,280.5 1176.5,280.5 1177.5,280.5 1178.5,279.5 1179.5,279.5 1180.5,278.5 1181.5,278.5 1182.5,278.5 1183.5,277.5 1184.5,277.5 1185.5,277.5 1186.5,277.5 1187.5,276.5 1188.5,276.5 1189.5,276.5 1190.5,276.5 1191.5,275.5 1192.5,275.5 1193.5,275.5" />
</g>
<polyline fill="none" stroke="#0000ff" points="206.5,410 226,405.5" shape-rendering="auto"/>
<polyline fill="none" stroke="#0000ff" points="983.5,201.5 986,201.5 1003,206" shape-rendering="auto"/>
<line x1="988" y1="204.5" x2="1196" y2="204.5" stroke="#808080" stroke-dasharray="6,1"/>
<line x1="70" y1="524.5" x2="1233" y2="524.5" stroke="#a8a8a8" stroke-dasharray="3,3"/>
<line x1="70" y1="542.5" x2="1233" y2="542.5" stroke="#a8a8a8" stroke-dasharray="3,3"/>
<line x1="70" y1="558.5" x2="1233" y2="558.5" stroke="#a8a8a8" stroke-dasharray="3,3"/>
<line x1="70" y1="574.5" x2="1233" y2="574.5" stroke="#a8a8a8" stroke-dasharray="3,3"/>
<rect x="70.5" y="570.5" width="5" height="19" fill="#fff" stroke="#ff0000"/>
<rect x="77" y="574" width="6" height="16" fill="#007800"/>
<rect x="84" y="574" width="6" height="16" fill="#007800"/>
<rect x="91" y="571" width="6" height="19" fill="#007800"/>
<rect x="98" y="572" width="6" height="18" fill="#007800"/>
<rect x="105.5" y="575.5" width="5" height="14" fill="#fff" stroke="#ff0000"/>
<rect x="112.5" y="575.5" width="5" height="14" fill="#fff" stroke="#ff0000"/>
<rect x="119.5" y="574.5" width="5" height="15" fill="#fff" stroke="#ff0000"/>
<rect x="126.5" y="575.5" width="5" height="14" fill="#fff" stroke="#ff0000"/>
<rect x="133" y="575" width="6" height="15" fill="#007800"/>
<rect x="140.5" y="574.5" width="5" height="15" fill="#fff" stroke="#ff0000"/>
<rect x="147" y="575" width="6" height="15" fill="#007800"/>
<rect x="154.5" y="567.5" width="5" height="22" fill="#fff" stroke="#ff0000"/>
<rect x="161" y="570" width="6" height="20" fill="#007800"/>
<rect x="168" y="575" width="6" height="15" fill="#007800"/>
<rect x="175" y="575" width="6" height="15" fill="#007800"/>
<rect x="182.5" y="577.5" width="5" height="12" fill="#fff" stroke="#ff0000"/>
<rect x="189" y="577" width="6" height="13" fill="#007800"/>
<rect x="196" y="578" width="6" height="12" fill="#007800"/>
<rect x="203.5" y="577.5" width="5" height="12" fill="#fff" stroke="#ff0000"/>
<rect x="210" y="575" width="6" height="15" fill="#007800"/>
<rect x="217.5" y="577.5" width="5" height="12" fill="#fff" stroke="#ff0000"/>
<rect x="224" y="576" width="6" height="14" fill="#007800"/>
<rect x="231" y="576" width="6" height="14" fill="#007800"/>
<rect x="238.5" y="574.5" width="5" height="15" fill="#fff" stroke="#ff0000"/>
<rect x="245" y="574" width="6" height="16" fill="#007800"/>
<rect x="252" y="575" width="6" height="15" fill="#007800"/>
<rect x="259" y="575" width="6" height="15" fill="#007800"/>
<rect x="266" y="575" width="6" height="15" fill="#007800"/>
<rect x="273.5" y="576.5" width="5" height="13" fill="#fff" stroke="#ff0000"/>
<rect x="280" y="577" width="6" height="13" fill="#007800"/>
<rect x="287.5" y="577.5" width="5" height="12" fill="#fff" stroke="#ff0000"/>
<rect x="294.5" y="574.5" width="5" height="15" fill="#fff" stroke="#ff0000"/>
<rect x="301.5" y="575.5" width="5" height="14" fill="#fff" stroke="#ff0000"/>
<rect x="308.5" y="573.5" width="5" height="16" fill="#fff" stroke="#ff0000"/>
<rect x="315.5" y="570.5" width="5" height="19" fill="#fff" stroke="#ff0000"/>
<rect x="322.5" y="571.5" width="5" height="18" fill="#fff" stroke="#ff0000"/>
<rect x="329" y="572" width="6" height="18" fill="#007800"/>
<rect x="336" y="572" width="6" height="18" fill="#007800"/>
<rect x="343" y="571" width="6" height="19" fill="#007800"/>
<rect x="350.5" y="576.5" width="5" height="13" fill="#fff" stroke="#ff0000"/>
<rect x="357" y="576" width="6" height="14" fill="#007800"/>
<rect x="364.5" y="576.5" width="5" height="13" fill="#fff" stroke="#ff0000"/>
<rect x="371" y="576" width="6" height="14" fill="#007800"/>
<rect x="378.5" y="574.5" width="5" height="15" fill="#fff" stroke="#ff0000"/>
<rect x="385.5" y="570.5" width="5" height="19" fill="#fff" stroke="#ff0000"/>
<rect x="392.5" y="570.5" width="5" height="19" fill="#fff" stroke="#ff0000"/>
<rect x="399" y="570" width="6" height="20" fill="#007800"/>
<rect x="406.5" y="568.5" width="5" height="21" fill="#fff" stroke="#ff0000"/>
<rect x="413.5" y="565.5" width="5" height="24" fill="#fff" stroke="#ff0000"/>
<rect x="420" y="569" width="6" height="21" fill="#007800"/>
<rect x="427.5" y="570.5" width="5" height="19" fill="#fff" stroke="#ff0000"/>
<rect x="434.5" y="571.5" width="5" height="18" fill="#fff" stroke="#ff0000"/>
<rect x="441" y="567" width="6" height="23" fill="#007800"/>
<rect x="448.5" y="570.5" width="5" height="19" fill="#fff" stroke="#ff0000"/>
<rect x="455.5" y="569.5" width="5" height="20" fill="#fff" stroke="#ff0000"/>
<rect x="462.5" y="567.5" width="5" height="22" fill="#fff" stroke="#ff0000"/>
<rect x="469.5" y="565.5" width="5" height="24" fill="#fff" stroke="#ff0000"/>
<rect x="476" y="562" width="6" height="28" fill="#007800"/>
<rect x="483" y="569" width="6" height="21" fill="#007800"/>
<rect x="490.5" y="568.5" width="5" height="21" fill="#fff" stroke="#ff0000"/>
<rect x="497" y="571" width="6" height="19" fill="#007800"/>
<rect x="504.5" y="565.5" width="5" height="24" fill="#fff" stroke="#ff0000"/>
<rect x="511.5" y="562.5" width="5" height="27" fill="#fff" stroke="#ff0000"/>
<rect x="518.5" y="556.5" width="5" height="33" fill="#fff" stroke="#ff0000"/>
<rect x="525.5" y="561.5" width="5" height="28" fill="#fff" stroke="#ff0000"/>
<rect x="532.5" y="542.5" width="5" height="47" fill="#fff" stroke="#ff0000"/>
<rect x="539.5" y="549.5" width="5" height="40" fill="#fff" stroke="#ff0000"/>
<rect x="546.5" y="553.5" width="5" height="36" fill="#fff" stroke="#ff0000"/>
<rect x="553.5" y="557.5" width="5" height="32" fill="#fff" stroke="#ff0000"/>
<rect x="560" y="551" width="6" height="39" fill="#007800"/>
<rect x="567.5" y="555.5" width="5" height="34" fill="#fff" stroke="#ff0000"/>
<rect x="574" y="554" width="6" height="36" fill="#007800"/>
<rect x="581.5" y="554.5" width="5" height="35" fill="#fff" stroke="#ff0000"/>
<rect x="588" y="554" width="6" height="36" fill="#007800"/>
<rect x="595.5" y="563.5" width="5" height="26" fill="#fff" stroke="#ff0000"/>
<rect x="602.5" y="559.5" width="5" height="30" fill="#fff" stroke="#ff0000"/>
<rect x="609" y="559" width="6" height="31" fill="#007800"/>
<rect x="616" y="554" width="6" height="36" fill="#007800"/>
<rect x="623" y="556" width="6" height="34" fill="#007800"/>
<rect x="630.5" y="560.5" width="5" height="29" fill="#fff" stroke="#ff0000"/>
<rect x="637.5" y="557.5" width="5" height="32" fill="#fff" stroke="#ff0000"/>
<rect x="644.5" y="554.5" width="5" height="35" fill="#fff" stroke="#ff0000"/>
<rect x="651" y="556" width="6" height="34" fill="#007800"/>
<rect x="658" y="556" width="6" height="34" fill="#007800"/>
<rect x="665.5" y="558.5" width="5" height="31" fill="#fff" stroke="#ff0000"/>
<rect x="672" y="557" width="6" height="33" fill="#007800"/>
<rect x="679" y="557" width="6" height="33" fill="#007800"/>
<rect x="686.5" y="566.5" width="5" height="23" fill="#fff" stroke="#ff0000"/>
<rect x="693" y="565" width="6" height="25" fill="#007800"/>
<rect x="700.5" y="569.5" width="5" height="20" fill="#fff" stroke="#ff0000"/>
<rect x="707.5" y="564.5" width="5" height="25" fill="#fff" stroke="#ff0000"/>
<rect x="714.5" y="551.5" width="5" height="38" fill="#fff" stroke="#ff0000"/>
<rect x="721.5" y="547.5" width="5" height="42" fill="#fff" stroke="#ff0000"/>
<rect x="728.5" y="550.5" width="5" height="39" fill="#fff" stroke="#ff0000"/>
<rect x="735.5" y="547.5" width="5" height="42" fill="#fff" stroke="#ff0000"/>
<rect x="742" y="550" width="6" height="40" fill="#007800"/>
<rect x="749" y="552" width="6" height="38" fill="#007800"/>
<rect x="756" y="545" width="6" height="45" fill="#007800"/>
<rect x="763.5" y="551.5" width="5" height="38" fill="#fff" stroke="#ff0000"/>
<rect x="770.5" y="546.5" width="5" height="43" fill="#fff" stroke="#ff0000"/>
<rect x="777" y="529" width="6" height="61" fill="#007800"/>
<rect x="784.5" y="547.5" width="5" height="42" fill="#fff" stroke="#ff0000"/>
<rect x="791.5" y="552.5" width="5" height="37" fill="#fff" stroke="#ff0000"/>
<rect x="798.5" y="555.5" width="5" height="34" fill="#fff" stroke="#ff0000"/>
<rect x="805" y="554" width="6" height="36" fill="#007800"/>
<rect x="812.5" y="558.5" width="5" height="31" fill="#fff" stroke="#ff0000"/>
<rect x="819.5" y="545.5" width="5" height="44" fill="#fff" stroke="#ff0000"/>
<rect x="826" y="544" width="6" height="46" fill="#007800"/>
<rect x="833.5" y="555.5" width="5" height="34" fill="#fff" stroke="#ff0000"/>
<rect x="840.5" y="549.5" width="5" height="40" fill="#fff" stroke="#ff0000"/>
<rect x="847.5" y="551.5" width="5" height="38" fill="#fff" stroke="#ff0000"/>
<rect x="854.5" y="549.5" width="5" height="40" fill="#fff" stroke="#ff0000"/>
<rect x="861.5" y="542.5" width="5" height="47" fill="#fff" stroke="#ff0000"/>
<rect x="868" y="544" width="6" height="46" fill="#007800"/>
<rect x="875" y="549" width="6" height="41" fill="#007800"/>
<rect x="882" y="550" width="6" height="40" fill="#007800"/>
<rect x="889.5" y="549.5" width="5" height="40" fill="#fff" stroke="#ff0000"/>
<rect x="896" y="540" width="6" height="50" fill="#007800"/>
<rect x="903" y="547" width="6" height="43" fill="#007800"/>
<rect x="910.5" y="558.5" width="5" height="31" fill="#fff" stroke="#ff0000"/>
<rect x="917" y="556" width="6" height="34" fill="#007800"/>
<rect x="924" y="559" width="6" height="31" fill="#007800"/>
<rect x="931" y="557" width="6" height="33" fill="#007800"/>
<rect x="938" y="563" width="6" height="27" fill="#007800"/>
<rect x="945" y="564" width="6" height="26" fill="#007800"/>
<rect x="952.5" y="554.5" width="5" height="35" fill="#fff" stroke="#ff0000"/>
<rect x="959.5" y="536.5" width="5" height="53" fill="#fff" stroke="#ff0000"/>
<rect x="966.5" y="530.5" width="5" height="59" fill="#fff" stroke="#ff0000"/>
<rect x="973.5" y="524.5" width="5" height="65" fill="#fff" stroke="#ff0000"/>
<rect x="980.5" y="529.5" width="5" height="60" fill="#fff" stroke="#ff0000"/>
<polygon points="441,528 448,528 444.5,524" fill="#000" shape-rendering="auto"/>
<rect x="0" y="590" width="1233" height="1" fill="#808080"/><rect x="0" y="591" width="1233" height="1" fill="#b8b8b8"/>
<rect x="70" y="607" width="1163" height="1" fill="#a0a0a0"/>
<line x1="68" y1="612.5" x2="1233" y2="612.5" stroke="#a8a8a8" stroke-dasharray="3,3"/>
<line x1="68" y1="630.5" x2="1233" y2="630.5" stroke="#a8a8a8" stroke-dasharray="3,3"/>
<line x1="68" y1="666.5" x2="1233" y2="666.5" stroke="#a8a8a8" stroke-dasharray="3,3"/>
<line x1="70" y1="656.5" x2="1233" y2="656.5" stroke="#c4c4c4" stroke-dasharray="3,3"/>
<rect x="73" y="656" width="1" height="4" fill="#007800"/>
<rect x="80" y="656" width="1" height="7" fill="#007800"/>
<rect x="87" y="656" width="1" height="11" fill="#007800"/>
<rect x="94" y="656" width="1" height="15" fill="#007800"/>
<rect x="101" y="656" width="1" height="22" fill="#007800"/>
<rect x="108" y="656" width="1" height="24" fill="#007800"/>
<rect x="115" y="656" width="1" height="21" fill="#007800"/>
<rect x="122" y="656" width="1" height="19" fill="#007800"/>
<rect x="129" y="656" width="1" height="16" fill="#007800"/>
<rect x="136" y="656" width="1" height="16" fill="#007800"/>
<rect x="143" y="656" width="1" height="16" fill="#007800"/>
<rect x="150" y="656" width="1" height="14" fill="#007800"/>
<rect x="157" y="656" width="1" height="6" fill="#007800"/>
<rect x="164" y="656" width="1" height="1" fill="#007800"/>
<rect x="171" y="655" width="1" height="1" fill="#ff0000"/>
<rect x="178" y="655" width="1" height="1" fill="#ff0000"/>
<rect x="192" y="656" width="1" height="2" fill="#007800"/>
<rect x="199" y="656" width="1" height="4" fill="#007800"/>
<rect x="206" y="656" width="1" height="2" fill="#007800"/>
<rect x="213" y="656" width="1" height="1" fill="#007800"/>
<rect x="220" y="655" width="1" height="1" fill="#ff0000"/>
<rect x="227" y="652" width="1" height="4" fill="#ff0000"/>
<rect x="234" y="651" width="1" height="5" fill="#ff0000"/>
<rect x="241" y="649" width="1" height="7" fill="#ff0000"/>
<rect x="248" y="648" width="1" height="8" fill="#ff0000"/>
<rect x="255" y="649" width="1" height="7" fill="#ff0000"/>
<rect x="262" y="650" width="1" height="6" fill="#ff0000"/>
<rect x="269" y="652" width="1" height="4" fill="#ff0000"/>
<rect x="276" y="652" width="1" height="4" fill="#ff0000"/>
<rect x="283" y="653" width="1" height="3" fill="#ff0000"/>
<rect x="290" y="654" width="1" height="2" fill="#ff0000"/>
<rect x="297" y="652" width="1" height="4" fill="#ff0000"/>
<rect x="304" y="650" width="1" height="6" fill="#ff0000"/>
<rect x="311" y="650" width="1" height="6" fill="#ff0000"/>
<rect x="318" y="647" width="1" height="8" fill="#ff0000"/>
<rect x="325" y="644" width="1" height="12" fill="#ff0000"/>
<rect x="332" y="645" width="1" height="11" fill="#ff0000"/>
<rect x="339" y="648" width="1" height="8" fill="#ff0000"/>
<rect x="346" y="655" width="1" height="1" fill="#ff0000"/>
<rect x="353" y="656" width="1" height="2" fill="#007800"/>
<rect x="360" y="656" width="1" height="4" fill="#007800"/>
<rect x="367" y="656" width="1" height="4" fill="#007800"/>
<rect x="374" y="656" width="1" height="6" fill="#007800"/>
<rect x="381" y="656" width="1" height="4" fill="#007800"/>
<rect x="388" y="656" width="1" height="4" fill="#007800"/>
<rect x="395" y="656" width="1" height="1" fill="#007800"/>
<rect x="409" y="654" width="1" height="2" fill="#ff0000"/>
<rect x="416" y="652" width="1" height="4" fill="#ff0000"/>
<rect x="423" y="652" width="1" height="4" fill="#ff0000"/>
<rect x="430" y="652" width="1" height="4" fill="#ff0000"/>
<rect x="437" y="651" width="1" height="5" fill="#ff0000"/>
<rect x="444" y="655" width="1" height="1" fill="#ff0000"/>
<rect x="451" y="656" width="1" height="1" fill="#007800"/>
<rect x="458" y="656" width="1" height="1" fill="#007800"/>
<rect x="465" y="655" width="1" height="1" fill="#ff0000"/>
<rect x="472" y="653" width="1" height="2" fill="#ff0000"/>
<rect x="479" y="653" width="1" height="3" fill="#ff0000"/>
<rect x="486" y="654" width="1" height="2" fill="#ff0000"/>
<rect x="493" y="655" width="1" height="1" fill="#ff0000"/>
<rect x="507" y="654" width="1" height="2" fill="#ff0000"/>
<rect x="514" y="653" width="1" height="3" fill="#ff0000"/>
<rect x="521" y="648" width="1" height="8" fill="#ff0000"/>
<rect x="528" y="643" width="1" height="13" fill="#ff0000"/>
<rect x="535" y="633" width="1" height="23" fill="#ff0000"/>
<rect x="542" y="628" width="1" height="28" fill="#ff0000"/>
<rect x="549" y="626" width="1" height="30" fill="#ff0000"/>
<rect x="556" y="625" width="1" height="31" fill="#ff0000"/>
<rect x="563" y="628" width="1" height="28" fill="#ff0000"/>
<rect x="570" y="627" width="1" height="29" fill="#ff0000"/>
<rect x="577" y="628" width="1" height="28" fill="#ff0000"/>
<rect x="584" y="632" width="1" height="24" fill="#ff0000"/>
<rect x="591" y="640" width="1" height="16" fill="#ff0000"/>
<rect x="598" y="646" width="1" height="10" fill="#ff0000"/>
<rect x="605" y="647" width="1" height="8" fill="#ff0000"/>
<rect x="612" y="649" width="1" height="7" fill="#ff0000"/>
<rect x="619" y="651" width="1" height="4" fill="#ff0000"/>
<rect x="654" y="656" width="1" height="1" fill="#007800"/>
<rect x="661" y="656" width="1" height="4" fill="#007800"/>
<rect x="668" y="656" width="1" height="5" fill="#007800"/>
<rect x="675" y="656" width="1" height="6" fill="#007800"/>
<rect x="682" y="656" width="1" height="13" fill="#007800"/>
<rect x="689" y="656" width="1" height="16" fill="#ff80ff"/>
<rect x="696" y="656" width="1" height="19" fill="#007800"/>
<rect x="703" y="656" width="1" height="18" fill="#007800"/>
<rect x="710" y="656" width="1" height="14" fill="#007800"/>
<rect x="717" y="656" width="1" height="8" fill="#007800"/>
<rect x="731" y="650" width="1" height="6" fill="#ff0000"/>
<rect x="738" y="644" width="1" height="12" fill="#ff0000"/>
<rect x="745" y="642" width="1" height="14" fill="#ff0000"/>
<rect x="752" y="643" width="1" height="13" fill="#ff0000"/>
<rect x="759" y="646" width="1" height="10" fill="#ff0000"/>
<rect x="766" y="646" width="1" height="10" fill="#ff0000"/>
<rect x="773" y="646" width="1" height="10" fill="#ff0000"/>
<rect x="780" y="654" width="1" height="2" fill="#ff0000"/>
<rect x="787" y="656" width="1" height="1" fill="#007800"/>
<rect x="794" y="656" width="1" height="2" fill="#007800"/>
<rect x="801" y="656" width="1" height="2" fill="#007800"/>
<rect x="808" y="656" width="1" height="9" fill="#007800"/>
<rect x="815" y="656" width="1" height="10" fill="#007800"/>
<rect x="822" y="656" width="1" height="6" fill="#007800"/>
<rect x="829" y="656" width="1" height="4" fill="#007800"/>
<rect x="836" y="656" width="1" height="2" fill="#007800"/>
<rect x="843" y="656" width="1" height="1" fill="#007800"/>
<rect x="857" y="653" width="1" height="3" fill="#ff0000"/>
<rect x="864" y="651" width="1" height="5" fill="#ff0000"/>
<rect x="871" y="653" width="1" height="3" fill="#ff0000"/>
<rect x="885" y="656" width="1" height="2" fill="#007800"/>
<rect x="892" y="656" width="1" height="4" fill="#007800"/>
<rect x="899" y="656" width="1" height="6" fill="#007800"/>
<rect x="906" y="656" width="1" height="12" fill="#007800"/>
<rect x="913" y="656" width="1" height="12" fill="#007800"/>
<rect x="920" y="656" width="1" height="14" fill="#007800"/>
<rect x="927" y="656" width="1" height="18" fill="#007800"/>
<rect x="934" y="656" width="1" height="22" fill="#007800"/>
<rect x="941" y="656" width="1" height="26" fill="#007800"/>
<rect x="948" y="656" width="1" height="28" fill="#007800"/>
<rect x="955" y="656" width="1" height="20" fill="#007800"/>
<rect x="962" y="656" width="1" height="12" fill="#007800"/>
<rect x="969" y="656" width="1" height="2" fill="#007800"/>
<rect x="976" y="650" width="1" height="6" fill="#ff0000"/>
<rect x="983" y="643" width="1" height="13" fill="#ff0000"/>
<rect x="990" y="639" width="1" height="17" fill="#ff0000"/>
<rect x="997" y="639" width="1" height="17" fill="#ff0000"/>
<rect x="1004" y="639" width="1" height="17" fill="#ff0000"/>
<rect x="1011" y="641" width="1" height="15" fill="#ff0000"/>
<rect x="1018" y="643" width="1" height="12" fill="#ff0000"/>
<rect x="1025" y="646" width="1" height="10" fill="#ff0000"/>
<rect x="1032" y="649" width="1" height="7" fill="#ff0000"/>
<rect x="1039" y="652" width="1" height="4" fill="#ff0000"/>
<rect x="1046" y="654" width="1" height="2" fill="#ff0000"/>
<rect x="1060" y="656" width="1" height="1" fill="#007800"/>
<rect x="1067" y="656" width="1" height="2" fill="#007800"/>
<rect x="1074" y="656" width="1" height="4" fill="#007800"/>
<rect x="1081" y="656" width="1" height="6" fill="#007800"/>
<rect x="1088" y="656" width="1" height="6" fill="#007800"/>
<rect x="1095" y="656" width="1" height="7" fill="#007800"/>
<rect x="1102" y="656" width="1" height="7" fill="#007800"/>
<rect x="1109" y="656" width="1" height="7" fill="#007800"/>
<rect x="1116" y="656" width="1" height="7" fill="#007800"/>
<rect x="1123" y="656" width="1" height="7" fill="#007800"/>
<rect x="1130" y="656" width="1" height="7" fill="#007800"/>
<rect x="1137" y="656" width="1" height="7" fill="#007800"/>
<rect x="1144" y="656" width="1" height="7" fill="#007800"/>
<rect x="1151" y="656" width="1" height="7" fill="#007800"/>
<rect x="1158" y="656" width="1" height="7" fill="#007800"/>
<rect x="1165" y="656" width="1" height="7" fill="#007800"/>
<rect x="1172" y="656" width="1" height="7" fill="#007800"/>
<rect x="1179" y="656" width="1" height="6" fill="#007800"/>
<rect x="1186" y="656" width="1" height="6" fill="#007800"/>
<rect x="1193" y="656" width="1" height="6" fill="#007800"/>
<line x1="68" y1="647.5" x2="1233" y2="647.5" stroke="#000" stroke-dasharray="4,3"/>
<polyline fill="none" stroke="#0000ff" stroke-width="1" points="73.5,642.5 74.5,642.5 75.5,642.5 76.5,642.5 77.5,642.5 78.5,643.5 79.5,643.5 80.5,643.5 81.5,643.5 82.5,643.5 83.5,643.5 84.5,643.5 85.5,643.5 86.5,643.5 87.5,644.5 88.5,644.5 89.5,644.5 90.5,645.5 91.5,645.5 92.5,645.5 93.5,645.5 94.5,646.5 95.5,646.5 96.5,647.5 97.5,647.5 98.5,648.5 99.5,648.5 100.5,649.5 101.5,649.5 102.5,650.5 103.5,650.5 104.5,651.5 105.5,651.5 106.5,651.5 107.5,652.5 108.5,652.5 109.5,653.5 110.5,653.5 111.5,653.5 112.5,654.5 113.5,654.5 114.5,655.5 115.5,655.5 116.5,655.5 117.5,656.5 118.5,656.5 119.5,656.5 120.5,656.5 121.5,656.5 122.5,657.5 123.5,657.5 124.5,658.5 125.5,658.5 126.5,659.5 127.5,659.5 128.5,659.5 129.5,660.5 130.5,660.5 131.5,661.5 132.5,661.5 133.5,661.5 134.5,662.5 135.5,662.5 136.5,662.5 137.5,662.5 138.5,663.5 139.5,663.5 140.5,663.5 141.5,663.5 142.5,664.5 143.5,664.5 144.5,664.5 145.5,664.5 146.5,665.5 147.5,665.5 148.5,665.5 149.5,666.5 150.5,666.5 151.5,666.5 152.5,666.5 153.5,666.5 154.5,666.5 155.5,666.5 156.5,666.5 157.5,666.5 158.5,666.5 159.5,666.5 160.5,666.5 161.5,666.5 162.5,666.5 163.5,666.5 164.5,666.5 165.5,666.5 166.5,666.5 167.5,666.5 168.5,666.5 169.5,666.5 170.5,666.5 171.5,666.5 172.5,666.5 173.5,666.5 174.5,666.5 175.5,666.5 176.5,666.5 177.5,666.5 178.5,666.5 179.5,666.5 180.5,666.5 181.5,666.5 182.5,666.5 183.5,666.5 184.5,666.5 185.5,666.5 186.5,666.5 187.5,666.5 188.5,666.5 189.5,666.5 190.5,667.5 191.5,667.5 192.5,667.5 193.5,667.5 194.5,667.5 195.5,667.5 196.5,667.5 197.5,667.5 198.5,667.5 199.5,667.5 200.5,667.5 201.5,667.5 202.5,667.5 203.5,667.5 204.5,667.5 205.5,667.5 206.5,667.5 207.5,667.5 208.5,667.5 209.5,668.5 210.5,668.5 211.5,668.5 212.5,668.5 213.5,668.5 214.5,668.5 215.5,668.5 216.5,667.5 217.5,667.5 218.5,667.5 219.5,667.5 220.5,667.5 221.5,667.5 222.5,667.5 223.5,667.5 224.5,667.5 225.5,666.5 226.5,666.5 227.5,666.5 228.5,666.5 229.5,666.5 230.5,666.5 231.5,666.5 232.5,666.5 233.5,666.5 234.5,666.5 235.5,665.5 236.5,665.5 237.5,665.5 238.5,665.5 239.5,665.5 240.5,664.5 241.5,664.5 242.5,664.5 243.5,664.5 244.5,664.5 245.5,664.5 246.5,664.5 247.5,664.5 248.5,664.5 249.5,663.5 250.5,663.5 251.5,663.5 252.5,663.5 253.5,663.5 254.5,663.5 255.5,662.5 256.5,662.5 257.5,662.5 258.5,662.5 259.5,662.5 260.5,662.5 261.5,662.5 262.5,662.5 263.5,662.5 264.5,662.5 265.5,662.5 266.5,662.5 267.5,662.5 268.5,662.5 269.5,662.5 270.5,662.5 271.5,661.5 272.5,661.5 273.5,661.5 274.5,661.5 275.5,661.5 276.5,661.5 277.5,661.5 278.5,661.5 279.5,661.5 280.5,661.5 281.5,661.5 282.5,661.5 283.5,660.5 284.5,660.5 285.5,660.5 286.5,660.5 287.5,660.5 288.5,660.5 289.5,660.5 290.5,660.5 291.5,660.5 292.5,660.5 293.5,660.5 294.5,659.5 295.5,659.5 296.5,659.5 297.5,659.5 298.5,659.5 299.5,659.5 300.5,659.5 301.5,659.5 302.5,659.5 303.5,659.5 304.5,659.5 305.5,658.5 306.5,658.5 307.5,658.5 308.5,658.5 309.5,658.5 310.5,658.5 311.5,658.5 312.5,658.5 313.5,657.5 314.5,657.5 315.5,657.5 316.5,657.5 317.5,657.5 318.5,657.5 319.5,656.5 320.5,656.5 321.5,656.5 322.5,656.5 323.5,656.5 324.5,655.5 325.5,655.5 326.5,655.5 327.5,655.5 328.5,655.5 329.5,654.5 330.5,654.5 331.5,654.5 332.5,654.5 333.5,654.5 334.5,653.5 335.5,653.5 336.5,653.5 337.5,652.5 338.5,652.5 339.5,652.5 340.5,652.5 341.5,652.5 342.5,652.5 343.5,652.5 344.5,652.5 345.5,652.5 346.5,652.5 347.5,652.5 348.5,652.5 349.5,652.5 350.5,652.5 351.5,652.5 352.5,652.5 353.5,653.5 354.5,653.5 355.5,653.5 356.5,653.5 357.5,653.5 358.5,653.5 359.5,653.5 360.5,653.5 361.5,653.5 362.5,653.5 363.5,653.5 364.5,654.5 365.5,654.5 366.5,654.5 367.5,654.5 368.5,654.5 369.5,654.5 370.5,654.5 371.5,655.5 372.5,655.5 373.5,655.5 374.5,655.5 375.5,655.5 376.5,655.5 377.5,655.5 378.5,655.5 379.5,655.5 380.5,655.5 381.5,655.5 382.5,655.5 383.5,655.5 384.5,655.5 385.5,655.5 386.5,656.5 387.5,656.5 388.5,656.5 389.5,656.5 390.5,656.5 391.5,656.5 392.5,656.5 393.5,656.5 394.5,656.5 395.5,656.5 396.5,656.5 397.5,656.5 398.5,656.5 399.5,656.5 400.5,656.5 401.5,656.5 402.5,656.5 403.5,656.5 404.5,656.5 405.5,656.5 406.5,656.5 407.5,656.5 408.5,656.5 409.5,656.5 410.5,656.5 411.5,656.5 412.5,655.5 413.5,655.5 414.5,655.5 415.5,655.5 416.5,655.5 417.5,655.5 418.5,655.5 419.5,655.5 420.5,655.5 421.5,655.5 422.5,655.5 423.5,655.5 424.5,654.5 425.5,654.5 426.5,654.5 427.5,654.5 428.5,654.5 429.5,654.5 430.5,654.5 431.5,654.5 432.5,653.5 433.5,653.5 434.5,653.5 435.5,653.5 436.5,653.5 437.5,653.5 438.5,653.5 439.5,653.5 440.5,653.5 441.5,653.5 442.5,653.5 443.5,653.5 444.5,653.5 445.5,653.5 446.5,653.5 447.5,653.5 448.5,653.5 449.5,653.5 450.5,653.5 451.5,653.5 452.5,653.5 453.5,653.5 454.5,653.5 455.5,653.5 456.5,653.5 457.5,653.5 458.5,653.5 459.5,653.5 460.5,653.5 461.5,653.5 462.5,653.5 463.5,653.5 464.5,653.5 465.5,653.5 466.5,653.5 467.5,652.5 468.5,652.5 469.5,652.5 470.5,652.5 471.5,652.5 472.5,652.5 473.5,652.5 474.5,652.5 475.5,652.5 476.5,652.5 477.5,652.5 478.5,652.5 479.5,652.5 480.5,652.5 481.5,652.5 482.5,652.5 483.5,652.5 484.5,652.5 485.5,652.5 486.5,652.5 487.5,652.5 488.5,652.5 489.5,652.5 490.5,652.5 491.5,652.5 492.5,652.5 493.5,652.5 494.5,652.5 495.5,652.5 496.5,652.5 497.5,652.5 498.5,652.5 499.5,652.5 500.5,652.5 501.5,652.5 502.5,652.5 503.5,651.5 504.5,651.5 505.5,651.5 506.5,651.5 507.5,651.5 508.5,651.5 509.5,651.5 510.5,651.5 511.5,651.5 512.5,651.5 513.5,651.5 514.5,651.5 515.5,651.5 516.5,651.5 517.5,650.5 518.5,650.5 519.5,650.5 520.5,650.5 521.5,650.5 522.5,649.5 523.5,649.5 524.5,649.5 525.5,648.5 526.5,648.5 527.5,648.5 528.5,647.5 529.5,647.5 530.5,647.5 531.5,646.5 532.5,646.5 533.5,646.5 534.5,645.5 535.5,645.5 536.5,644.5 537.5,644.5 538.5,643.5 539.5,643.5 540.5,642.5 541.5,642.5 542.5,641.5 543.5,641.5 544.5,640.5 545.5,640.5 546.5,639.5 547.5,639.5 548.5,638.5 549.5,638.5 550.5,637.5 551.5,637.5 552.5,636.5 553.5,636.5 554.5,635.5 555.5,635.5 556.5,634.5 557.5,634.5 558.5,633.5 559.5,633.5 560.5,632.5 561.5,632.5 562.5,631.5 563.5,631.5 564.5,630.5 565.5,630.5 566.5,629.5 567.5,629.5 568.5,628.5 569.5,628.5 570.5,627.5 571.5,626.5 572.5,626.5 573.5,625.5 574.5,625.5 575.5,624.5 576.5,624.5 577.5,623.5 578.5,623.5 579.5,622.5 580.5,622.5 581.5,621.5 582.5,621.5 583.5,620.5 584.5,620.5 585.5,619.5 586.5,619.5 587.5,619.5 588.5,618.5 589.5,618.5 590.5,618.5 591.5,617.5 592.5,617.5 593.5,617.5 594.5,617.5 595.5,616.5 596.5,616.5 597.5,616.5 598.5,616.5 599.5,616.5 600.5,615.5 601.5,615.5 602.5,615.5 603.5,615.5 604.5,615.5 605.5,614.5 606.5,614.5 607.5,614.5 608.5,614.5 609.5,614.5 610.5,614.5 611.5,613.5 612.5,613.5 613.5,613.5 614.5,613.5 615.5,613.5 616.5,613.5 617.5,613.5 618.5,613.5 619.5,613.5 620.5,613.5 621.5,613.5 622.5,613.5 623.5,613.5 624.5,613.5 625.5,613.5 626.5,613.5 627.5,613.5 628.5,613.5 629.5,613.5 630.5,613.5 631.5,613.5 632.5,613.5 633.5,613.5 634.5,613.5 635.5,613.5 636.5,613.5 637.5,613.5 638.5,613.5 639.5,613.5 640.5,613.5 641.5,613.5 642.5,613.5 643.5,613.5 644.5,613.5 645.5,613.5 646.5,613.5 647.5,613.5 648.5,613.5 649.5,613.5 650.5,613.5 651.5,613.5 652.5,613.5 653.5,613.5 654.5,613.5 655.5,613.5 656.5,613.5 657.5,613.5 658.5,613.5 659.5,613.5 660.5,613.5 661.5,613.5 662.5,614.5 663.5,614.5 664.5,614.5 665.5,614.5 666.5,614.5 667.5,614.5 668.5,614.5 669.5,614.5 670.5,614.5 671.5,615.5 672.5,615.5 673.5,615.5 674.5,615.5 675.5,615.5 676.5,615.5 677.5,616.5 678.5,616.5 679.5,616.5 680.5,616.5 681.5,617.5 682.5,617.5 683.5,617.5 684.5,618.5 685.5,618.5 686.5,618.5 687.5,618.5 688.5,619.5 689.5,619.5 690.5,619.5 691.5,619.5 692.5,620.5 693.5,620.5 694.5,620.5 695.5,621.5 696.5,621.5 697.5,621.5 698.5,622.5 699.5,622.5 700.5,622.5 701.5,622.5 702.5,623.5 703.5,623.5 704.5,623.5 705.5,624.5 706.5,624.5 707.5,624.5 708.5,624.5 709.5,625.5 710.5,625.5 711.5,625.5 712.5,625.5 713.5,625.5 714.5,625.5 715.5,626.5 716.5,626.5 717.5,626.5 718.5,626.5 719.5,626.5 720.5,626.5 721.5,626.5 722.5,626.5 723.5,626.5 724.5,626.5 725.5,626.5 726.5,626.5 727.5,625.5 728.5,625.5 729.5,625.5 730.5,625.5 731.5,625.5 732.5,624.5 733.5,624.5 734.5,624.5 735.5,624.5 736.5,623.5 737.5,623.5 738.5,623.5 739.5,623.5 740.5,623.5 741.5,622.5 742.5,622.5 743.5,622.5 744.5,622.5 745.5,621.5 746.5,621.5 747.5,621.5 748.5,621.5 749.5,620.5 750.5,620.5 751.5,620.5 752.5,620.5 753.5,620.5 754.5,619.5 755.5,619.5 756.5,619.5 757.5,619.5 758.5,619.5 759.5,619.5 760.5,619.5 761.5,618.5 762.5,618.5 763.5,618.5 764.5,618.5 765.5,618.5 766.5,617.5 767.5,617.5 768.5,617.5 769.5,617.5 770.5,616.5 771.5,616.5 772.5,616.5 773.5,616.5 774.5,616.5 775.5,616.5 776.5,616.5 777.5,616.5 778.5,616.5 779.5,616.5 780.5,616.5 781.5,616.5 782.5,616.5 783.5,616.5 784.5,616.5 785.5,616.5 786.5,616.5 787.5,616.5 788.5,616.5 789.5,616.5 790.5,616.5 791.5,616.5 792.5,616.5 793.5,616.5 794.5,617.5 795.5,617.5 796.5,617.5 797.5,617.5 798.5,617.5 799.5,617.5 800.5,617.5 801.5,617.5 802.5,617.5 803.5,617.5 804.5,617.5 805.5,618.5 806.5,618.5 807.5,618.5 808.5,618.5 809.5,618.5 810.5,618.5 811.5,619.5 812.5,619.5 813.5,619.5 814.5,619.5 815.5,619.5 816.5,619.5 817.5,619.5 818.5,620.5 819.5,620.5 820.5,620.5 821.5,620.5 822.5,620.5 823.5,620.5 824.5,620.5 825.5,620.5 826.5,620.5 827.5,620.5 828.5,620.5 829.5,620.5 830.5,620.5 831.5,620.5 832.5,620.5 833.5,620.5 834.5,620.5 835.5,620.5 836.5,621.5 837.5,621.5 838.5,621.5 839.5,621.5 840.5,621.5 841.5,621.5 842.5,621.5 843.5,621.5 844.5,621.5 845.5,621.5 846.5,621.5 847.5,621.5 848.5,621.5 849.5,621.5 850.5,621.5 851.5,620.5 852.5,620.5 853.5,620.5 854.5,620.5 855.5,620.5 856.5,620.5 857.5,620.5 858.5,620.5 859.5,620.5 860.5,620.5 861.5,620.5 862.5,619.5 863.5,619.5 864.5,619.5 865.5,619.5 866.5,619.5 867.5,619.5 868.5,619.5 869.5,619.5 870.5,619.5 871.5,619.5 872.5,619.5 873.5,619.5 874.5,619.5 875.5,619.5 876.5,619.5 877.5,619.5 878.5,619.5 879.5,619.5 880.5,619.5 881.5,619.5 882.5,619.5 883.5,619.5 884.5,620.5 885.5,620.5 886.5,620.5 887.5,620.5 888.5,620.5 889.5,620.5 890.5,620.5 891.5,620.5 892.5,620.5 893.5,620.5 894.5,620.5 895.5,620.5 896.5,621.5 897.5,621.5 898.5,621.5 899.5,621.5 900.5,622.5 901.5,622.5 902.5,622.5 903.5,622.5 904.5,623.5 905.5,623.5 906.5,623.5 907.5,623.5 908.5,623.5 909.5,624.5 910.5,624.5 911.5,624.5 912.5,624.5 913.5,624.5 914.5,625.5 915.5,625.5 916.5,625.5 917.5,625.5 918.5,626.5 919.5,626.5 920.5,626.5 921.5,626.5 922.5,627.5 923.5,627.5 924.5,627.5 925.5,627.5 926.5,628.5 927.5,628.5 928.5,628.5 929.5,629.5 930.5,629.5 931.5,630.5 932.5,630.5 933.5,631.5 934.5,631.5 935.5,632.5 936.5,632.5 937.5,632.5 938.5,633.5 939.5,633.5 940.5,634.5 941.5,634.5 942.5,635.5 943.5,635.5 944.5,636.5 945.5,636.5 946.5,637.5 947.5,637.5 948.5,638.5 949.5,638.5 950.5,639.5 951.5,639.5 952.5,639.5 953.5,640.5 954.5,640.5 955.5,641.5 956.5,641.5 957.5,641.5 958.5,641.5 959.5,642.5 960.5,642.5 961.5,642.5 962.5,642.5 963.5,642.5 964.5,642.5 965.5,642.5 966.5,643.5 967.5,643.5 968.5,643.5 969.5,643.5 970.5,643.5 971.5,643.5 972.5,643.5 973.5,642.5 974.5,642.5 975.5,642.5 976.5,642.5 977.5,642.5 978.5,642.5 979.5,641.5 980.5,641.5 981.5,641.5 982.5,641.5 983.5,641.5 984.5,640.5 985.5,640.5 986.5,639.5 987.5,639.5 988.5,639.5 989.5,638.5 990.5,638.5 991.5,638.5 992.5,637.5 993.5,637.5 994.5,636.5 995.5,636.5 996.5,636.5 997.5,635.5 998.5,635.5 999.5,635.5 1000.5,634.5 1001.5,634.5 1002.5,634.5 1003.5,633.5 1004.5,633.5 1005.5,633.5 1006.5,632.5 1007.5,632.5 1008.5,632.5 1009.5,632.5 1010.5,631.5 1011.5,631.5 1012.5,631.5 1013.5,631.5 1014.5,631.5 1015.5,630.5 1016.5,630.5 1017.5,630.5 1018.5,630.5 1019.5,629.5 1020.5,629.5 1021.5,629.5 1022.5,629.5 1023.5,629.5 1024.5,628.5 1025.5,628.5 1026.5,628.5 1027.5,628.5 1028.5,628.5 1029.5,627.5 1030.5,627.5 1031.5,627.5 1032.5,627.5 1033.5,627.5 1034.5,627.5 1035.5,626.5 1036.5,626.5 1037.5,626.5 1038.5,626.5 1039.5,626.5 1040.5,626.5 1041.5,626.5 1042.5,626.5 1043.5,626.5 1044.5,626.5 1045.5,626.5 1046.5,626.5 1047.5,626.5 1048.5,626.5 1049.5,626.5 1050.5,626.5 1051.5,626.5 1052.5,626.5 1053.5,626.5 1054.5,626.5 1055.5,626.5 1056.5,626.5 1057.5,626.5 1058.5,626.5 1059.5,627.5 1060.5,627.5 1061.5,627.5 1062.5,627.5 1063.5,627.5 1064.5,627.5 1065.5,627.5 1066.5,627.5 1067.5,627.5 1068.5,627.5 1069.5,627.5 1070.5,627.5 1071.5,627.5 1072.5,627.5 1073.5,627.5 1074.5,627.5 1075.5,628.5 1076.5,628.5 1077.5,628.5 1078.5,628.5 1079.5,628.5 1080.5,628.5 1081.5,628.5 1082.5,628.5 1083.5,628.5 1084.5,628.5 1085.5,629.5 1086.5,629.5 1087.5,629.5 1088.5,629.5 1089.5,629.5 1090.5,629.5 1091.5,629.5 1092.5,629.5 1093.5,629.5 1094.5,630.5 1095.5,630.5 1096.5,630.5 1097.5,630.5 1098.5,630.5 1099.5,630.5 1100.5,630.5 1101.5,630.5 1102.5,631.5 1103.5,631.5 1104.5,631.5 1105.5,631.5 1106.5,631.5 1107.5,631.5 1108.5,632.5 1109.5,632.5 1110.5,632.5 1111.5,632.5 1112.5,632.5 1113.5,632.5 1114.5,632.5 1115.5,633.5 1116.5,633.5 1117.5,633.5 1118.5,633.5 1119.5,633.5 1120.5,633.5 1121.5,634.5 1122.5,634.5 1123.5,634.5 1124.5,634.5 1125.5,634.5 1126.5,635.5 1127.5,635.5 1128.5,635.5 1129.5,635.5 1130.5,635.5 1131.5,635.5 1132.5,635.5 1133.5,636.5 1134.5,636.5 1135.5,636.5 1136.5,636.5 1137.5,636.5 1138.5,636.5 1139.5,636.5 1140.5,636.5 1141.5,637.5 1142.5,637.5 1143.5,637.5 1144.5,637.5 1145.5,637.5 1146.5,637.5 1147.5,637.5 1148.5,638.5 1149.5,638.5 1150.5,638.5 1151.5,638.5 1152.5,638.5 1153.5,638.5 1154.5,639.5 1155.5,639.5 1156.5,639.5 1157.5,639.5 1158.5,639.5 1159.5,639.5 1160.5,640.5 1161.5,640.5 1162.5,640.5 1163.5,640.5 1164.5,640.5 1165.5,640.5 1166.5,641.5 1167.5,641.5 1168.5,641.5 1169.5,641.5 1170.5,641.5 1171.5,641.5 1172.5,642.5 1173.5,642.5 1174.5,642.5 1175.5,642.5 1176.5,642.5 1177.5,642.5 1178.5,642.5 1179.5,642.5 1180.5,643.5 1181.5,643.5 1182.5,643.5 1183.5,643.5 1184.5,643.5 1185.5,643.5 1186.5,643.5 1187.5,643.5 1188.5,644.5 1189.5,644.5 1190.5,644.5 1191.5,644.5 1192.5,644.5 1193.5,644.5" />
<polyline fill="none" stroke="#000" stroke-width="1" points="73.5,643.5 74.5,644.5 75.5,644.5 76.5,645.5 77.5,645.5 78.5,646.5 79.5,646.5 80.5,647.5 81.5,647.5 82.5,647.5 83.5,648.5 84.5,648.5 85.5,649.5 86.5,649.5 87.5,650.5 88.5,650.5 89.5,651.5 90.5,651.5 91.5,651.5 92.5,652.5 93.5,652.5 94.5,653.5 95.5,654.5 96.5,655.5 97.5,656.5 98.5,657.5 99.5,658.5 100.5,659.5 101.5,660.5 102.5,661.5 103.5,661.5 104.5,662.5 105.5,662.5 106.5,663.5 107.5,663.5 108.5,664.5 109.5,664.5 110.5,664.5 111.5,665.5 112.5,665.5 113.5,665.5 114.5,665.5 115.5,666.5 116.5,666.5 117.5,666.5 118.5,666.5 119.5,667.5 120.5,667.5 121.5,667.5 122.5,668.5 123.5,668.5 124.5,668.5 125.5,668.5 126.5,668.5 127.5,668.5 128.5,668.5 129.5,668.5 130.5,668.5 131.5,669.5 132.5,669.5 133.5,670.5 134.5,670.5 135.5,670.5 136.5,671.5 137.5,671.5 138.5,671.5 139.5,671.5 140.5,671.5 141.5,671.5 142.5,671.5 143.5,672.5 144.5,672.5 145.5,672.5 146.5,672.5 147.5,672.5 148.5,673.5 149.5,673.5 150.5,673.5 151.5,672.5 152.5,672.5 153.5,672.5 154.5,671.5 155.5,671.5 156.5,670.5 157.5,670.5 158.5,669.5 159.5,669.5 160.5,668.5 161.5,668.5 162.5,668.5 163.5,667.5 164.5,667.5 165.5,667.5 166.5,666.5 167.5,666.5 168.5,666.5 169.5,666.5 170.5,665.5 171.5,665.5 172.5,665.5 173.5,665.5 174.5,665.5 175.5,666.5 176.5,666.5 177.5,666.5 178.5,666.5 179.5,666.5 180.5,666.5 181.5,666.5 182.5,666.5 183.5,666.5 184.5,666.5 185.5,666.5 186.5,666.5 187.5,666.5 188.5,667.5 189.5,667.5 190.5,667.5 191.5,667.5 192.5,668.5 193.5,668.5 194.5,668.5 195.5,668.5 196.5,668.5 197.5,668.5 198.5,668.5 199.5,668.5 200.5,668.5 201.5,668.5 202.5,668.5 203.5,668.5 204.5,668.5 205.5,668.5 206.5,668.5 207.5,668.5 208.5,668.5 209.5,668.5 210.5,668.5 211.5,668.5 212.5,668.5 213.5,668.5 214.5,668.5 215.5,667.5 216.5,667.5 217.5,667.5 218.5,666.5 219.5,666.5 220.5,666.5 221.5,666.5 222.5,665.5 223.5,665.5 224.5,665.5 225.5,665.5 226.5,665.5 227.5,664.5 228.5,664.5 229.5,664.5 230.5,664.5 231.5,663.5 232.5,663.5 233.5,663.5 234.5,663.5 235.5,662.5 236.5,662.5 237.5,662.5 238.5,662.5 239.5,662.5 240.5,661.5 241.5,661.5 242.5,661.5 243.5,661.5 244.5,661.5 245.5,660.5 246.5,660.5 247.5,660.5 248.5,660.5 249.5,660.5 250.5,660.5 251.5,659.5 252.5,659.5 253.5,659.5 254.5,659.5 255.5,659.5 256.5,659.5 257.5,659.5 258.5,659.5 259.5,659.5 260.5,659.5 261.5,659.5 262.5,659.5 263.5,659.5 264.5,659.5 265.5,659.5 266.5,659.5 267.5,659.5 268.5,659.5 269.5,659.5 270.5,659.5 271.5,659.5 272.5,659.5 273.5,659.5 274.5,659.5 275.5,659.5 276.5,659.5 277.5,659.5 278.5,659.5 279.5,659.5 280.5,659.5 281.5,659.5 282.5,659.5 283.5,659.5 284.5,659.5 285.5,659.5 286.5,659.5 287.5,659.5 288.5,659.5 289.5,659.5 290.5,659.5 291.5,659.5 292.5,658.5 293.5,658.5 294.5,658.5 295.5,658.5 296.5,657.5 297.5,657.5 298.5,657.5 299.5,657.5 300.5,656.5 301.5,656.5 302.5,656.5 303.5,656.5 304.5,656.5 305.5,655.5 306.5,655.5 307.5,655.5 308.5,655.5 309.5,654.5 310.5,654.5 311.5,654.5 312.5,654.5 313.5,653.5 314.5,653.5 315.5,653.5 316.5,652.5 317.5,652.5 318.5,652.5 319.5,651.5 320.5,651.5 321.5,650.5 322.5,649.5 323.5,649.5 324.5,648.5 325.5,648.5 326.5,648.5 327.5,648.5 328.5,648.5 329.5,648.5 330.5,647.5 331.5,647.5 332.5,647.5 333.5,647.5 334.5,647.5 335.5,648.5 336.5,648.5 337.5,648.5 338.5,648.5 339.5,648.5 340.5,648.5 341.5,649.5 342.5,649.5 343.5,650.5 344.5,650.5 345.5,650.5 346.5,651.5 347.5,651.5 348.5,652.5 349.5,652.5 350.5,653.5 351.5,653.5 352.5,653.5 353.5,654.5 354.5,654.5 355.5,654.5 356.5,655.5 357.5,655.5 358.5,655.5 359.5,655.5 360.5,656.5 361.5,656.5 362.5,656.5 363.5,656.5 364.5,656.5 365.5,657.5 366.5,657.5 367.5,657.5 368.5,657.5 369.5,657.5 370.5,658.5 371.5,658.5 372.5,658.5 373.5,658.5 374.5,658.5 375.5,658.5 376.5,658.5 377.5,658.5 378.5,658.5 379.5,658.5 380.5,658.5 381.5,658.5 382.5,658.5 383.5,658.5 384.5,658.5 385.5,658.5 386.5,658.5 387.5,658.5 388.5,658.5 389.5,658.5 390.5,657.5 391.5,657.5 392.5,657.5 393.5,657.5 394.5,657.5 395.5,657.5 396.5,657.5 397.5,656.5 398.5,656.5 399.5,656.5 400.5,656.5 401.5,656.5 402.5,656.5 403.5,655.5 404.5,655.5 405.5,655.5 406.5,655.5 407.5,654.5 408.5,654.5 409.5,654.5 410.5,654.5 411.5,653.5 412.5,653.5 413.5,653.5 414.5,653.5 415.5,652.5 416.5,652.5 417.5,652.5 418.5,652.5 419.5,652.5 420.5,652.5 421.5,652.5 422.5,652.5 423.5,652.5 424.5,652.5 425.5,651.5 426.5,651.5 427.5,651.5 428.5,651.5 429.5,651.5 430.5,651.5 431.5,650.5 432.5,650.5 433.5,650.5 434.5,650.5 435.5,650.5 436.5,650.5 437.5,650.5 438.5,650.5 439.5,651.5 440.5,651.5 441.5,651.5 442.5,651.5 443.5,651.5 444.5,652.5 445.5,652.5 446.5,652.5 447.5,652.5 448.5,652.5 449.5,653.5 450.5,653.5 451.5,653.5 452.5,653.5 453.5,653.5 454.5,653.5 455.5,653.5 456.5,654.5 457.5,654.5 458.5,654.5 459.5,654.5 460.5,653.5 461.5,653.5 462.5,653.5 463.5,653.5 464.5,652.5 465.5,652.5 466.5,652.5 467.5,652.5 468.5,652.5 469.5,652.5 470.5,651.5 471.5,651.5 472.5,651.5 473.5,651.5 474.5,651.5 475.5,651.5 476.5,650.5 477.5,650.5 478.5,650.5 479.5,650.5 480.5,650.5 481.5,650.5 482.5,650.5 483.5,651.5 484.5,651.5 485.5,651.5 486.5,651.5 487.5,651.5 488.5,651.5 489.5,651.5 490.5,651.5 491.5,651.5 492.5,651.5 493.5,651.5 494.5,651.5 495.5,651.5 496.5,651.5 497.5,651.5 498.5,651.5 499.5,651.5 500.5,651.5 501.5,651.5 502.5,651.5 503.5,650.5 504.5,650.5 505.5,650.5 506.5,650.5 507.5,650.5 508.5,649.5 509.5,649.5 510.5,649.5 511.5,649.5 512.5,649.5 513.5,648.5 514.5,648.5 515.5,648.5 516.5,647.5 517.5,646.5 518.5,646.5 519.5,645.5 520.5,645.5 521.5,644.5 522.5,644.5 523.5,643.5 524.5,643.5 525.5,642.5 526.5,642.5 527.5,642.5 528.5,641.5 529.5,640.5 530.5,639.5 531.5,638.5 532.5,636.5 533.5,635.5 534.5,634.5 535.5,633.5 536.5,632.5 537.5,631.5 538.5,630.5 539.5,629.5 540.5,629.5 541.5,628.5 542.5,627.5 543.5,626.5 544.5,626.5 545.5,625.5 546.5,624.5 547.5,624.5 548.5,623.5 549.5,622.5 550.5,622.5 551.5,621.5 552.5,620.5 553.5,619.5 554.5,619.5 555.5,618.5 556.5,617.5 557.5,617.5 558.5,617.5 559.5,616.5 560.5,616.5 561.5,616.5 562.5,615.5 563.5,615.5 564.5,614.5 565.5,614.5 566.5,613.5 567.5,613.5 568.5,612.5 569.5,612.5 570.5,611.5 571.5,611.5 572.5,610.5 573.5,610.5 574.5,609.5 575.5,609.5 576.5,608.5 577.5,608.5 578.5,607.5 579.5,607.5 580.5,607.5 581.5,607.5 582.5,607.5 583.5,607.5 584.5,607.5 585.5,607.5 586.5,607.5 587.5,607.5 588.5,608.5 589.5,608.5 590.5,608.5 591.5,608.5 592.5,609.5 593.5,609.5 594.5,609.5 595.5,610.5 596.5,610.5 597.5,610.5 598.5,611.5 599.5,611.5 600.5,611.5 601.5,610.5 602.5,610.5 603.5,610.5 604.5,610.5 605.5,610.5 606.5,610.5 607.5,610.5 608.5,610.5 609.5,610.5 610.5,610.5 611.5,610.5 612.5,610.5 613.5,610.5 614.5,610.5 615.5,610.5 616.5,610.5 617.5,610.5 618.5,610.5 619.5,610.5 620.5,610.5 621.5,611.5 622.5,611.5 623.5,611.5 624.5,612.5 625.5,612.5 626.5,612.5 627.5,612.5 628.5,612.5 629.5,612.5 630.5,612.5 631.5,613.5 632.5,613.5 633.5,613.5 634.5,613.5 635.5,613.5 636.5,613.5 637.5,613.5 638.5,613.5 639.5,613.5 640.5,613.5 641.5,613.5 642.5,613.5 643.5,613.5 644.5,613.5 645.5,613.5 646.5,613.5 647.5,613.5 648.5,613.5 649.5,613.5 650.5,613.5 651.5,613.5 652.5,614.5 653.5,614.5 654.5,614.5 655.5,614.5 656.5,614.5 657.5,615.5 658.5,615.5 659.5,615.5 660.5,615.5 661.5,616.5 662.5,616.5 663.5,616.5 664.5,616.5 665.5,616.5 666.5,617.5 667.5,617.5 668.5,617.5 669.5,617.5 670.5,618.5 671.5,618.5 672.5,618.5 673.5,618.5 674.5,619.5 675.5,619.5 676.5,619.5 677.5,620.5 678.5,621.5 679.5,621.5 680.5,622.5 681.5,622.5 682.5,623.5 683.5,624.5 684.5,624.5 685.5,625.5 686.5,625.5 687.5,626.5 688.5,627.5 689.5,627.5 690.5,628.5 691.5,628.5 692.5,629.5 693.5,629.5 694.5,630.5 695.5,631.5 696.5,631.5 697.5,631.5 698.5,632.5 699.5,632.5 700.5,632.5 701.5,632.5 702.5,633.5 703.5,633.5 704.5,633.5 705.5,633.5 706.5,633.5 707.5,633.5 708.5,633.5 709.5,633.5 710.5,633.5 711.5,633.5 712.5,632.5 713.5,632.5 714.5,631.5 715.5,631.5 716.5,630.5 717.5,630.5 718.5,629.5 719.5,629.5 720.5,628.5 721.5,628.5 722.5,627.5 723.5,627.5 724.5,626.5 725.5,626.5 726.5,625.5 727.5,624.5 728.5,623.5 729.5,623.5 730.5,622.5 731.5,621.5 732.5,621.5 733.5,620.5 734.5,620.5 735.5,619.5 736.5,619.5 737.5,619.5 738.5,618.5 739.5,618.5 740.5,617.5 741.5,617.5 742.5,616.5 743.5,616.5 744.5,615.5 745.5,615.5 746.5,615.5 747.5,614.5 748.5,614.5 749.5,614.5 750.5,613.5 751.5,613.5 752.5,613.5 753.5,613.5 754.5,613.5 755.5,613.5 756.5,613.5 757.5,613.5 758.5,613.5 759.5,613.5 760.5,613.5 761.5,612.5 762.5,612.5 763.5,612.5 764.5,612.5 765.5,612.5 766.5,612.5 767.5,611.5 768.5,611.5 769.5,611.5 770.5,611.5 771.5,611.5 772.5,611.5 773.5,611.5 774.5,611.5 775.5,612.5 776.5,612.5 777.5,613.5 778.5,613.5 779.5,614.5 780.5,614.5 781.5,614.5 782.5,615.5 783.5,615.5 784.5,615.5 785.5,615.5 786.5,616.5 787.5,616.5 788.5,616.5 789.5,617.5 790.5,617.5 791.5,617.5 792.5,617.5 793.5,618.5 794.5,618.5 795.5,618.5 796.5,618.5 797.5,618.5 798.5,618.5 799.5,618.5 800.5,618.5 801.5,618.5 802.5,619.5 803.5,619.5 804.5,620.5 805.5,620.5 806.5,621.5 807.5,622.5 808.5,622.5 809.5,622.5 810.5,623.5 811.5,623.5 812.5,623.5 813.5,624.5 814.5,624.5 815.5,624.5 816.5,624.5 817.5,624.5 818.5,624.5 819.5,623.5 820.5,623.5 821.5,623.5 822.5,623.5 823.5,623.5 824.5,623.5 825.5,622.5 826.5,622.5 827.5,622.5 828.5,622.5 829.5,622.5 830.5,622.5 831.5,622.5 832.5,622.5 833.5,622.5 834.5,622.5 835.5,622.5 836.5,622.5 837.5,622.5 838.5,622.5 839.5,622.5 840.5,622.5 841.5,621.5 842.5,621.5 843.5,621.5 844.5,621.5 845.5,621.5 846.5,621.5 847.5,621.5 848.5,621.5 849.5,621.5 850.5,621.5 851.5,621.5 852.5,620.5 853.5,620.5 854.5,620.5 855.5,619.5 856.5,619.5 857.5,619.5 858.5,619.5 859.5,618.5 860.5,618.5 861.5,618.5 862.5,618.5 863.5,617.5 864.5,617.5 865.5,617.5 866.5,617.5 867.5,617.5 868.5,617.5 869.5,617.5 870.5,617.5 871.5,617.5 872.5,617.5 873.5,618.5 874.5,618.5 875.5,618.5 876.5,619.5 877.5,619.5 878.5,619.5 879.5,619.5 880.5,620.5 881.5,620.5 882.5,620.5 883.5,620.5 884.5,621.5 885.5,621.5 886.5,621.5 887.5,621.5 888.5,621.5 889.5,621.5 890.5,622.5 891.5,622.5 892.5,622.5 893.5,622.5 894.5,623.5 895.5,623.5 896.5,624.5 897.5,624.5 898.5,624.5 899.5,625.5 900.5,625.5 901.5,626.5 902.5,626.5 903.5,627.5 904.5,627.5 905.5,627.5 906.5,628.5 907.5,628.5 908.5,628.5 909.5,629.5 910.5,629.5 911.5,629.5 912.5,629.5 913.5,630.5 914.5,630.5 915.5,631.5 916.5,631.5 917.5,632.5 918.5,632.5 919.5,633.5 920.5,633.5 921.5,634.5 922.5,634.5 923.5,635.5 924.5,635.5 925.5,636.5 926.5,637.5 927.5,637.5 928.5,638.5 929.5,639.5 930.5,639.5 931.5,640.5 932.5,641.5 933.5,642.5 934.5,642.5 935.5,643.5 936.5,644.5 937.5,645.5 938.5,645.5 939.5,646.5 940.5,647.5 941.5,648.5 942.5,648.5 943.5,649.5 944.5,649.5 945.5,650.5 946.5,651.5 947.5,651.5 948.5,652.5 949.5,652.5 950.5,652.5 951.5,652.5 952.5,652.5 953.5,652.5 954.5,652.5 955.5,652.5 956.5,651.5 957.5,651.5 958.5,650.5 959.5,650.5 960.5,649.5 961.5,649.5 962.5,648.5 963.5,648.5 964.5,647.5 965.5,646.5 966.5,646.5 967.5,645.5 968.5,645.5 969.5,644.5 970.5,643.5 971.5,642.5 972.5,641.5 973.5,640.5 974.5,639.5 975.5,639.5 976.5,638.5 977.5,637.5 978.5,636.5 979.5,635.5 980.5,635.5 981.5,634.5 982.5,633.5 983.5,632.5 984.5,632.5 985.5,631.5 986.5,631.5 987.5,630.5 988.5,630.5 989.5,629.5 990.5,629.5 991.5,628.5 992.5,628.5 993.5,627.5 994.5,627.5 995.5,627.5 996.5,626.5 997.5,626.5 998.5,626.5 999.5,625.5 1000.5,625.5 1001.5,625.5 1002.5,625.5 1003.5,625.5 1004.5,625.5 1005.5,624.5 1006.5,624.5 1007.5,624.5 1008.5,624.5 1009.5,624.5 1010.5,624.5 1011.5,624.5 1012.5,623.5 1013.5,623.5 1014.5,623.5 1015.5,623.5 1016.5,623.5 1017.5,623.5 1018.5,623.5 1019.5,623.5 1020.5,623.5 1021.5,623.5 1022.5,623.5 1023.5,623.5 1024.5,623.5 1025.5,623.5 1026.5,623.5 1027.5,623.5 1028.5,623.5 1029.5,623.5 1030.5,623.5 1031.5,623.5 1032.5,623.5 1033.5,623.5 1034.5,624.5 1035.5,624.5 1036.5,624.5 1037.5,624.5 1038.5,624.5 1039.5,624.5 1040.5,624.5 1041.5,624.5 1042.5,624.5 1043.5,624.5 1044.5,625.5 1045.5,625.5 1046.5,625.5 1047.5,625.5 1048.5,625.5 1049.5,625.5 1050.5,625.5 1051.5,626.5 1052.5,626.5 1053.5,626.5 1054.5,626.5 1055.5,626.5 1056.5,626.5 1057.5,627.5 1058.5,627.5 1059.5,627.5 1060.5,627.5 1061.5,627.5 1062.5,627.5 1063.5,628.5 1064.5,628.5 1065.5,628.5 1066.5,628.5 1067.5,628.5 1068.5,629.5 1069.5,629.5 1070.5,629.5 1071.5,629.5 1072.5,629.5 1073.5,630.5 1074.5,630.5 1075.5,630.5 1076.5,630.5 1077.5,630.5 1078.5,630.5 1079.5,631.5 1080.5,631.5 1081.5,631.5 1082.5,631.5 1083.5,631.5 1084.5,631.5 1085.5,632.5 1086.5,632.5 1087.5,632.5 1088.5,632.5 1089.5,632.5 1090.5,633.5 1091.5,633.5 1092.5,633.5 1093.5,633.5 1094.5,633.5 1095.5,634.5 1096.5,634.5 1097.5,634.5 1098.5,634.5 1099.5,635.5 1100.5,635.5 1101.5,635.5 1102.5,635.5 1103.5,635.5 1104.5,635.5 1105.5,636.5 1106.5,636.5 1107.5,636.5 1108.5,636.5 1109.5,636.5 1110.5,636.5 1111.5,636.5 1112.5,636.5 1113.5,637.5 1114.5,637.5 1115.5,637.5 1116.5,637.5 1117.5,637.5 1118.5,637.5 1119.5,638.5 1120.5,638.5 1121.5,638.5 1122.5,638.5 1123.5,638.5 1124.5,639.5 1125.5,639.5 1126.5,639.5 1127.5,639.5 1128.5,639.5 1129.5,640.5 1130.5,640.5 1131.5,640.5 1132.5,640.5 1133.5,640.5 1134.5,640.5 1135.5,640.5 1136.5,641.5 1137.5,641.5 1138.5,641.5 1139.5,641.5 1140.5,641.5 1141.5,641.5 1142.5,642.5 1143.5,642.5 1144.5,642.5 1145.5,642.5 1146.5,642.5 1147.5,642.5 1148.5,642.5 1149.5,642.5 1150.5,642.5 1151.5,643.5 1152.5,643.5 1153.5,643.5 1154.5,643.5 1155.5,643.5 1156.5,643.5 1157.5,643.5 1158.5,643.5 1159.5,643.5 1160.5,644.5 1161.5,644.5 1162.5,644.5 1163.5,644.5 1164.5,644.5 1165.5,644.5 1166.5,645.5 1167.5,645.5 1168.5,645.5 1169.5,645.5 1170.5,645.5 1171.5,645.5 1172.5,646.5 1173.5,646.5 1174.5,646.5 1175.5,646.5 1176.5,646.5 1177.5,646.5 1178.5,646.5 1179.5,646.5 1180.5,646.5 1181.5,646.5 1182.5,646.5 1183.5,646.5 1184.5,646.5 1185.5,646.5 1186.5,646.5 1187.5,646.5 1188.5,646.5 1189.5,646.5 1190.5,646.5" />
<line x1="689.5" y1="590" x2="689.5" y2="684" stroke="#000" stroke-dasharray="3,3"/>
<circle cx="689.5" cy="647.5" r="1.2" fill="#fff" stroke="#000" stroke-width="0.8" shape-rendering="auto"/>
</svg>
<div class="t dt" style="left:70.5px;top:131.5px;">04-22</div>
<div class="t dt" style="left:130px;top:131.5px;">05-08</div>
<div class="t dt" style="left:200px;top:131.5px;">05-22</div>
<div class="t dt" style="left:270px;top:131.5px;">06-06</div>
<div class="t dt" style="left:340px;top:131.5px;">06-20</div>
<div class="t dt" style="left:410px;top:131.5px;">07-04</div>
<div class="t dt" style="left:480px;top:131.5px;">07-18</div>
<div class="t dt" style="left:550px;top:131.5px;">08-01</div>
<div class="t dt" style="left:620px;top:131.5px;">08-15</div>
<div class="t dt" style="left:690px;top:131.5px;">08-29</div>
<div class="t dt" style="left:760px;top:131.5px;">09-15</div>
<div class="t dt" style="left:830px;top:131.5px;">09-29</div>
<div class="t dt" style="left:900px;top:131.5px;">10-20</div>
<div class="t dt" style="left:970px;top:131.5px;">11-03</div>
<div class="t dt" style="left:1040px;top:131.5px;">11-17</div>
<div class="t dt" style="left:1110px;top:131.5px;">12-01</div>
<div class="t dt" style="left:1180px;top:131.5px;">12-15</div>
<div class="t song blue" style="left:2.8px;top:134px;font-size:12px;font-weight:400">日<span style="display:inline-block;width:6.5px"><span style="display:inline-block;font-family:'Liberation Serif',serif;font-weight:bold;font-size:14px;transform:scaleX(0.6);transform-origin:0 0">K</span></span>线</div>
<div class="t song" style="left:70.5px;top:141.5px;">极反通道</div>
<div class="t ar" style="left:141px;top:144px;color:#ff0000">Tp=2490.6735</div>
<div class="t ar" style="left:219.5px;top:144px;color:#0000ff">Up=2448.6874</div>
<div class="t ar" style="left:298.5px;top:144px;color:#000">Md=2401.4027</div>
<div class="t ar" style="left:377.5px;top:144px;color:#0000ff">Dn=2337.0715</div>
<div class="t ar" style="left:456.5px;top:144px;color:#ff0000">Bt=2279.0466</div>
<div class="t song blue" style="left:1140px;top:141.5px;"><span style="font-family:'Liberation Serif',serif;font-size:13px">1A0001</span></div>
<div class="t song blue" style="left:1189px;top:141.5px;">上证指数</div>
<div class="t vd" style="left:1003.5px;top:206.9px;">2436.7900</div>
<div class="t vd" style="left:226px;top:398px;">1991.0601</div>
<div class="t ax" style="right:1165px;top:512.0px">1749.1233</div>
<div class="t ax" style="right:1165px;top:536.0px">236918919</div>
<div class="t ax" style="right:1165px;top:551.5px">157945946</div>
<div class="t ax" style="right:1165px;top:568.0px">78972973</div>
<div class="t ax" style="right:1165px;top:605.8px">39.32</div>
<div class="t ax" style="right:1165px;top:624.0px">23.16</div>
<div class="t ax" style="right:1165px;top:641.5px">56.10</div>
<div class="t ax" style="right:1165px;top:659.8px">-9.15</div>
<div class="t song blue" style="left:3px;top:591.2px;"><span style="display:inline-block;font-family:'Liberation Serif',serif;font-weight:bold;font-size:12.5px;transform:scaleX(0.72);transform-origin:0 0">MACD</span></div>
<div class="t ar" style="left:75.5px;top:592.2px;color:#000">DIF=7.81</div>
<div class="t ar" style="left:146.5px;top:592.2px;color:#0000ff">DEA=10.72</div>
<div class="t ar" style="left:217px;top:592.2px;color:#ff00ff">MACD=-5.83</div>
</body></html>
